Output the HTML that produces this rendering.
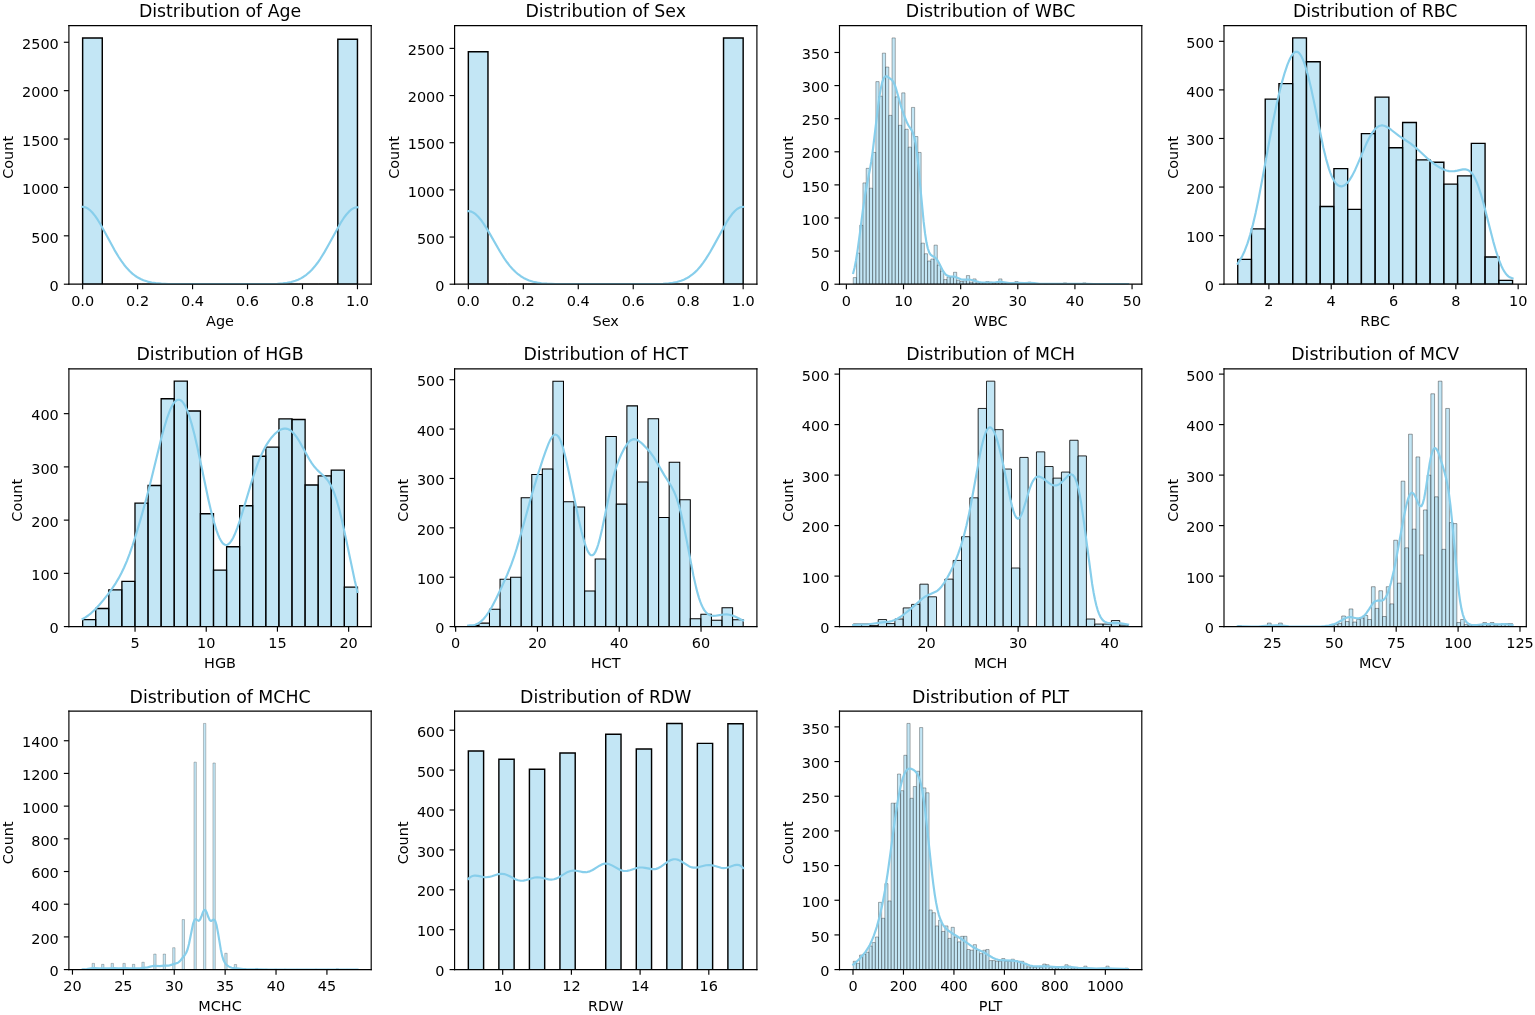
<!DOCTYPE html>
<html><head><meta charset="utf-8"><title>Distributions</title>
<style>html,body{margin:0;padding:0;background:#fff;overflow:hidden}svg{display:block}
text{font-family:"DejaVu Sans","Liberation Sans",sans-serif}</style></head>
<body>
<svg width="1535" height="1015" viewBox="0 0 1105.2 730.8" >
<defs>
<style type="text/css">*{stroke-linejoin: round; stroke-linecap: butt}</style>
</defs>
<g id="figure_1">
<g id="patch_1">
<path d="M 0 730.8 L 1105.2 730.8 L 1105.2 0 L 0 0 z
" style="fill: #ffffff"/>
</g>
<g id="axes_1">
<g id="patch_2">
<path d="M 49.608 204.624 L 267.264 204.624 L 267.264 18.432 L 49.608 18.432 z
" style="fill: #ffffff"/>
</g>
<g id="patch_3">
<path d="M 59.501455 204.624 L 73.634961 204.624 L 73.634961 27.298286 L 59.501455 27.298286 z
" clip-path="url(#pf234ead649)" style="fill: #87ceeb; fill-opacity: 0.5; stroke: #000000; stroke-width: 1.04; stroke-linejoin: miter"/>
</g>
<g id="patch_4">
<path d="M 73.634961 204.624 L 87.768468 204.624 L 87.768468 204.624 L 73.634961 204.624 z
" clip-path="url(#pf234ead649)" style="fill: #87ceeb; fill-opacity: 0.5; stroke: #000000; stroke-width: 1.04; stroke-linejoin: miter"/>
</g>
<g id="patch_5">
<path d="M 87.768468 204.624 L 101.901974 204.624 L 101.901974 204.624 L 87.768468 204.624 z
" clip-path="url(#pf234ead649)" style="fill: #87ceeb; fill-opacity: 0.5; stroke: #000000; stroke-width: 1.04; stroke-linejoin: miter"/>
</g>
<g id="patch_6">
<path d="M 101.901974 204.624 L 116.035481 204.624 L 116.035481 204.624 L 101.901974 204.624 z
" clip-path="url(#pf234ead649)" style="fill: #87ceeb; fill-opacity: 0.5; stroke: #000000; stroke-width: 1.04; stroke-linejoin: miter"/>
</g>
<g id="patch_7">
<path d="M 116.035481 204.624 L 130.168987 204.624 L 130.168987 204.624 L 116.035481 204.624 z
" clip-path="url(#pf234ead649)" style="fill: #87ceeb; fill-opacity: 0.5; stroke: #000000; stroke-width: 1.04; stroke-linejoin: miter"/>
</g>
<g id="patch_8">
<path d="M 130.168987 204.624 L 144.302494 204.624 L 144.302494 204.624 L 130.168987 204.624 z
" clip-path="url(#pf234ead649)" style="fill: #87ceeb; fill-opacity: 0.5; stroke: #000000; stroke-width: 1.04; stroke-linejoin: miter"/>
</g>
<g id="patch_9">
<path d="M 144.302494 204.624 L 158.436 204.624 L 158.436 204.624 L 144.302494 204.624 z
" clip-path="url(#pf234ead649)" style="fill: #87ceeb; fill-opacity: 0.5; stroke: #000000; stroke-width: 1.04; stroke-linejoin: miter"/>
</g>
<g id="patch_10">
<path d="M 158.436 204.624 L 172.569506 204.624 L 172.569506 204.624 L 158.436 204.624 z
" clip-path="url(#pf234ead649)" style="fill: #87ceeb; fill-opacity: 0.5; stroke: #000000; stroke-width: 1.04; stroke-linejoin: miter"/>
</g>
<g id="patch_11">
<path d="M 172.569506 204.624 L 186.703013 204.624 L 186.703013 204.624 L 172.569506 204.624 z
" clip-path="url(#pf234ead649)" style="fill: #87ceeb; fill-opacity: 0.5; stroke: #000000; stroke-width: 1.04; stroke-linejoin: miter"/>
</g>
<g id="patch_12">
<path d="M 186.703013 204.624 L 200.836519 204.624 L 200.836519 204.624 L 186.703013 204.624 z
" clip-path="url(#pf234ead649)" style="fill: #87ceeb; fill-opacity: 0.5; stroke: #000000; stroke-width: 1.04; stroke-linejoin: miter"/>
</g>
<g id="patch_13">
<path d="M 200.836519 204.624 L 214.970026 204.624 L 214.970026 204.624 L 200.836519 204.624 z
" clip-path="url(#pf234ead649)" style="fill: #87ceeb; fill-opacity: 0.5; stroke: #000000; stroke-width: 1.04; stroke-linejoin: miter"/>
</g>
<g id="patch_14">
<path d="M 214.970026 204.624 L 229.103532 204.624 L 229.103532 204.624 L 214.970026 204.624 z
" clip-path="url(#pf234ead649)" style="fill: #87ceeb; fill-opacity: 0.5; stroke: #000000; stroke-width: 1.04; stroke-linejoin: miter"/>
</g>
<g id="patch_15">
<path d="M 229.103532 204.624 L 243.237039 204.624 L 243.237039 204.624 L 229.103532 204.624 z
" clip-path="url(#pf234ead649)" style="fill: #87ceeb; fill-opacity: 0.5; stroke: #000000; stroke-width: 1.04; stroke-linejoin: miter"/>
</g>
<g id="patch_16">
<path d="M 243.237039 204.624 L 257.370545 204.624 L 257.370545 28.273751 L 243.237039 28.273751 z
" clip-path="url(#pf234ead649)" style="fill: #87ceeb; fill-opacity: 0.5; stroke: #000000; stroke-width: 1.04; stroke-linejoin: miter"/>
</g>
<g id="matplotlib.axis_1">
<g id="xtick_1">
<g id="line2d_1">
<defs>
<path id="m9755dbcb59" d="M 0 0 L 0 3.64 " style="stroke: #000000; stroke-width: 0.832"/>
</defs>
<g>
<use xlink:href="#m9755dbcb59" x="59.501455" y="204.624" style="stroke: #000000; stroke-width: 0.832"/>
</g>
</g>
<g id="text_1">
<text style="font-size: 10.4px; font-family: 'DejaVu Sans', 'Liberation Sans', sans-serif; text-anchor: middle" x="59.501455" y="220.670375" transform="rotate(-0 59.501455 220.670375)">0.0</text>
</g>
</g>
<g id="xtick_2">
<g id="line2d_2">
<g>
<use xlink:href="#m9755dbcb59" x="99.075273" y="204.624" style="stroke: #000000; stroke-width: 0.832"/>
</g>
</g>
<g id="text_2">
<text style="font-size: 10.4px; font-family: 'DejaVu Sans', 'Liberation Sans', sans-serif; text-anchor: middle" x="99.075273" y="220.670375" transform="rotate(-0 99.075273 220.670375)">0.2</text>
</g>
</g>
<g id="xtick_3">
<g id="line2d_3">
<g>
<use xlink:href="#m9755dbcb59" x="138.649091" y="204.624" style="stroke: #000000; stroke-width: 0.832"/>
</g>
</g>
<g id="text_3">
<text style="font-size: 10.4px; font-family: 'DejaVu Sans', 'Liberation Sans', sans-serif; text-anchor: middle" x="138.649091" y="220.670375" transform="rotate(-0 138.649091 220.670375)">0.4</text>
</g>
</g>
<g id="xtick_4">
<g id="line2d_4">
<g>
<use xlink:href="#m9755dbcb59" x="178.222909" y="204.624" style="stroke: #000000; stroke-width: 0.832"/>
</g>
</g>
<g id="text_4">
<text style="font-size: 10.4px; font-family: 'DejaVu Sans', 'Liberation Sans', sans-serif; text-anchor: middle" x="178.222909" y="220.670375" transform="rotate(-0 178.222909 220.670375)">0.6</text>
</g>
</g>
<g id="xtick_5">
<g id="line2d_5">
<g>
<use xlink:href="#m9755dbcb59" x="217.796727" y="204.624" style="stroke: #000000; stroke-width: 0.832"/>
</g>
</g>
<g id="text_5">
<text style="font-size: 10.4px; font-family: 'DejaVu Sans', 'Liberation Sans', sans-serif; text-anchor: middle" x="217.796727" y="220.670375" transform="rotate(-0 217.796727 220.670375)">0.8</text>
</g>
</g>
<g id="xtick_6">
<g id="line2d_6">
<g>
<use xlink:href="#m9755dbcb59" x="257.370545" y="204.624" style="stroke: #000000; stroke-width: 0.832"/>
</g>
</g>
<g id="text_6">
<text style="font-size: 10.4px; font-family: 'DejaVu Sans', 'Liberation Sans', sans-serif; text-anchor: middle" x="257.370545" y="220.670375" transform="rotate(-0 257.370545 220.670375)">1.0</text>
</g>
</g>
<g id="text_7">
<text style="font-size: 10.4px; font-family: 'DejaVu Sans', 'Liberation Sans', sans-serif; text-anchor: middle" x="158.436" y="234.895625" transform="rotate(-0 158.436 234.895625)">Age</text>
</g>
</g>
<g id="matplotlib.axis_2">
<g id="ytick_1">
<g id="line2d_7">
<defs>
<path id="m81118948c4" d="M 0 0 L -3.64 0 " style="stroke: #000000; stroke-width: 0.832"/>
</defs>
<g>
<use xlink:href="#m81118948c4" x="49.608" y="204.624" style="stroke: #000000; stroke-width: 0.832"/>
</g>
</g>
<g id="text_8">
<text style="font-size: 10.4px; font-family: 'DejaVu Sans', 'Liberation Sans', sans-serif; text-anchor: end" x="42.328" y="209.439188" transform="rotate(-0 42.328 209.439188)">0</text>
</g>
</g>
<g id="ytick_2">
<g id="line2d_8">
<g>
<use xlink:href="#m81118948c4" x="49.608" y="169.785942" style="stroke: #000000; stroke-width: 0.832"/>
</g>
</g>
<g id="text_9">
<text style="font-size: 10.4px; font-family: 'DejaVu Sans', 'Liberation Sans', sans-serif; text-anchor: end" x="42.328" y="174.60113" transform="rotate(-0 42.328 174.60113)">500</text>
</g>
</g>
<g id="ytick_3">
<g id="line2d_9">
<g>
<use xlink:href="#m81118948c4" x="49.608" y="134.947884" style="stroke: #000000; stroke-width: 0.832"/>
</g>
</g>
<g id="text_10">
<text style="font-size: 10.4px; font-family: 'DejaVu Sans', 'Liberation Sans', sans-serif; text-anchor: end" x="42.328" y="139.763072" transform="rotate(-0 42.328 139.763072)">1000</text>
</g>
</g>
<g id="ytick_4">
<g id="line2d_10">
<g>
<use xlink:href="#m81118948c4" x="49.608" y="100.109827" style="stroke: #000000; stroke-width: 0.832"/>
</g>
</g>
<g id="text_11">
<text style="font-size: 10.4px; font-family: 'DejaVu Sans', 'Liberation Sans', sans-serif; text-anchor: end" x="42.328" y="104.925014" transform="rotate(-0 42.328 104.925014)">1500</text>
</g>
</g>
<g id="ytick_5">
<g id="line2d_11">
<g>
<use xlink:href="#m81118948c4" x="49.608" y="65.271769" style="stroke: #000000; stroke-width: 0.832"/>
</g>
</g>
<g id="text_12">
<text style="font-size: 10.4px; font-family: 'DejaVu Sans', 'Liberation Sans', sans-serif; text-anchor: end" x="42.328" y="70.086956" transform="rotate(-0 42.328 70.086956)">2000</text>
</g>
</g>
<g id="ytick_6">
<g id="line2d_12">
<g>
<use xlink:href="#m81118948c4" x="49.608" y="30.433711" style="stroke: #000000; stroke-width: 0.832"/>
</g>
</g>
<g id="text_13">
<text style="font-size: 10.4px; font-family: 'DejaVu Sans', 'Liberation Sans', sans-serif; text-anchor: end" x="42.328" y="35.248898" transform="rotate(-0 42.328 35.248898)">2500</text>
</g>
</g>
<g id="text_14">
<text style="font-size: 10.4px; font-family: 'DejaVu Sans', 'Liberation Sans', sans-serif; text-anchor: middle" x="9.537125" y="113.328" transform="rotate(-90 9.537125 113.328)">Count</text>
</g>
</g>
<g id="line2d_13">
<path d="M 59.501455 148.950704 L 60.495772 149.035968 L 61.490089 149.290976 L 62.484406 149.713393 L 63.478723 150.299365 L 64.47304 151.043579 L 66.461674 152.978684 L 68.450308 155.450548 L 70.438942 158.374675 L 72.427576 161.655021 L 75.410527 167.019051 L 82.370747 179.876728 L 85.353698 184.868895 L 87.342332 187.882628 L 89.330966 190.609498 L 91.3196 193.03518 L 93.308234 195.157799 L 95.296868 196.985868 L 97.285502 198.536015 L 99.274136 199.830697 L 101.26277 200.896041 L 103.251404 201.759938 L 106.234356 202.739203 L 109.217307 203.417394 L 112.200258 203.872576 L 116.177526 204.241169 L 121.149111 204.4702 L 129.103647 204.593518 L 151.972939 204.623901 L 193.734255 204.520051 L 199.700157 204.3048 L 203.677425 203.989741 L 206.660376 203.596123 L 209.643328 203.003556 L 212.626279 202.138891 L 214.614913 201.369407 L 216.603547 200.413603 L 218.592181 199.24348 L 220.580815 197.831958 L 222.569449 196.154623 L 224.558083 194.191762 L 226.546717 191.930586 L 228.535351 189.36752 L 230.523985 186.510383 L 233.506937 181.723395 L 236.489888 176.459156 L 245.438741 160.222237 L 247.427375 157.124609 L 249.416009 154.430115 L 251.404643 152.229159 L 252.39896 151.338324 L 253.393277 150.598204 L 254.387594 150.015456 L 255.381911 149.595362 L 256.376228 149.341756 L 257.370545 149.256962 L 257.370545 149.256962 " clip-path="url(#pf234ead649)" style="fill: none; stroke: #87ceeb; stroke-width: 1.56; stroke-linecap: square"/>
</g>
<g id="patch_17">
<path d="M 49.608 204.624 L 49.608 18.432 " style="fill: none; stroke: #000000; stroke-width: 0.832; stroke-linejoin: miter; stroke-linecap: square"/>
</g>
<g id="patch_18">
<path d="M 267.264 204.624 L 267.264 18.432 " style="fill: none; stroke: #000000; stroke-width: 0.832; stroke-linejoin: miter; stroke-linecap: square"/>
</g>
<g id="patch_19">
<path d="M 49.608 204.624 L 267.264 204.624 " style="fill: none; stroke: #000000; stroke-width: 0.832; stroke-linejoin: miter; stroke-linecap: square"/>
</g>
<g id="patch_20">
<path d="M 49.608 18.432 L 267.264 18.432 " style="fill: none; stroke: #000000; stroke-width: 0.832; stroke-linejoin: miter; stroke-linecap: square"/>
</g>
<g id="text_15">
<text style="font-size: 12.48px; font-family: 'DejaVu Sans', 'Liberation Sans', sans-serif; text-anchor: middle" x="158.436" y="12.552" transform="rotate(-0 158.436 12.552)">Distribution of Age</text>
</g>
</g>
<g id="axes_2">
<g id="patch_21">
<path d="M 327.312 204.624 L 544.968 204.624 L 544.968 18.432 L 327.312 18.432 z
" style="fill: #ffffff"/>
</g>
<g id="patch_22">
<path d="M 337.205455 204.624 L 351.338961 204.624 L 351.338961 37.213856 L 337.205455 37.213856 z
" clip-path="url(#pb0371a77c8)" style="fill: #87ceeb; fill-opacity: 0.5; stroke: #000000; stroke-width: 1.04; stroke-linejoin: miter"/>
</g>
<g id="patch_23">
<path d="M 351.338961 204.624 L 365.472468 204.624 L 365.472468 204.624 L 351.338961 204.624 z
" clip-path="url(#pb0371a77c8)" style="fill: #87ceeb; fill-opacity: 0.5; stroke: #000000; stroke-width: 1.04; stroke-linejoin: miter"/>
</g>
<g id="patch_24">
<path d="M 365.472468 204.624 L 379.605974 204.624 L 379.605974 204.624 L 365.472468 204.624 z
" clip-path="url(#pb0371a77c8)" style="fill: #87ceeb; fill-opacity: 0.5; stroke: #000000; stroke-width: 1.04; stroke-linejoin: miter"/>
</g>
<g id="patch_25">
<path d="M 379.605974 204.624 L 393.739481 204.624 L 393.739481 204.624 L 379.605974 204.624 z
" clip-path="url(#pb0371a77c8)" style="fill: #87ceeb; fill-opacity: 0.5; stroke: #000000; stroke-width: 1.04; stroke-linejoin: miter"/>
</g>
<g id="patch_26">
<path d="M 393.739481 204.624 L 407.872987 204.624 L 407.872987 204.624 L 393.739481 204.624 z
" clip-path="url(#pb0371a77c8)" style="fill: #87ceeb; fill-opacity: 0.5; stroke: #000000; stroke-width: 1.04; stroke-linejoin: miter"/>
</g>
<g id="patch_27">
<path d="M 407.872987 204.624 L 422.006494 204.624 L 422.006494 204.624 L 407.872987 204.624 z
" clip-path="url(#pb0371a77c8)" style="fill: #87ceeb; fill-opacity: 0.5; stroke: #000000; stroke-width: 1.04; stroke-linejoin: miter"/>
</g>
<g id="patch_28">
<path d="M 422.006494 204.624 L 436.14 204.624 L 436.14 204.624 L 422.006494 204.624 z
" clip-path="url(#pb0371a77c8)" style="fill: #87ceeb; fill-opacity: 0.5; stroke: #000000; stroke-width: 1.04; stroke-linejoin: miter"/>
</g>
<g id="patch_29">
<path d="M 436.14 204.624 L 450.273506 204.624 L 450.273506 204.624 L 436.14 204.624 z
" clip-path="url(#pb0371a77c8)" style="fill: #87ceeb; fill-opacity: 0.5; stroke: #000000; stroke-width: 1.04; stroke-linejoin: miter"/>
</g>
<g id="patch_30">
<path d="M 450.273506 204.624 L 464.407013 204.624 L 464.407013 204.624 L 450.273506 204.624 z
" clip-path="url(#pb0371a77c8)" style="fill: #87ceeb; fill-opacity: 0.5; stroke: #000000; stroke-width: 1.04; stroke-linejoin: miter"/>
</g>
<g id="patch_31">
<path d="M 464.407013 204.624 L 478.540519 204.624 L 478.540519 204.624 L 464.407013 204.624 z
" clip-path="url(#pb0371a77c8)" style="fill: #87ceeb; fill-opacity: 0.5; stroke: #000000; stroke-width: 1.04; stroke-linejoin: miter"/>
</g>
<g id="patch_32">
<path d="M 478.540519 204.624 L 492.674026 204.624 L 492.674026 204.624 L 478.540519 204.624 z
" clip-path="url(#pb0371a77c8)" style="fill: #87ceeb; fill-opacity: 0.5; stroke: #000000; stroke-width: 1.04; stroke-linejoin: miter"/>
</g>
<g id="patch_33">
<path d="M 492.674026 204.624 L 506.807532 204.624 L 506.807532 204.624 L 492.674026 204.624 z
" clip-path="url(#pb0371a77c8)" style="fill: #87ceeb; fill-opacity: 0.5; stroke: #000000; stroke-width: 1.04; stroke-linejoin: miter"/>
</g>
<g id="patch_34">
<path d="M 506.807532 204.624 L 520.941039 204.624 L 520.941039 204.624 L 506.807532 204.624 z
" clip-path="url(#pb0371a77c8)" style="fill: #87ceeb; fill-opacity: 0.5; stroke: #000000; stroke-width: 1.04; stroke-linejoin: miter"/>
</g>
<g id="patch_35">
<path d="M 520.941039 204.624 L 535.074545 204.624 L 535.074545 27.298286 L 520.941039 27.298286 z
" clip-path="url(#pb0371a77c8)" style="fill: #87ceeb; fill-opacity: 0.5; stroke: #000000; stroke-width: 1.04; stroke-linejoin: miter"/>
</g>
<g id="matplotlib.axis_3">
<g id="xtick_7">
<g id="line2d_14">
<g>
<use xlink:href="#m9755dbcb59" x="337.205455" y="204.624" style="stroke: #000000; stroke-width: 0.832"/>
</g>
</g>
<g id="text_16">
<text style="font-size: 10.4px; font-family: 'DejaVu Sans', 'Liberation Sans', sans-serif; text-anchor: middle" x="337.205455" y="220.670375" transform="rotate(-0 337.205455 220.670375)">0.0</text>
</g>
</g>
<g id="xtick_8">
<g id="line2d_15">
<g>
<use xlink:href="#m9755dbcb59" x="376.779273" y="204.624" style="stroke: #000000; stroke-width: 0.832"/>
</g>
</g>
<g id="text_17">
<text style="font-size: 10.4px; font-family: 'DejaVu Sans', 'Liberation Sans', sans-serif; text-anchor: middle" x="376.779273" y="220.670375" transform="rotate(-0 376.779273 220.670375)">0.2</text>
</g>
</g>
<g id="xtick_9">
<g id="line2d_16">
<g>
<use xlink:href="#m9755dbcb59" x="416.353091" y="204.624" style="stroke: #000000; stroke-width: 0.832"/>
</g>
</g>
<g id="text_18">
<text style="font-size: 10.4px; font-family: 'DejaVu Sans', 'Liberation Sans', sans-serif; text-anchor: middle" x="416.353091" y="220.670375" transform="rotate(-0 416.353091 220.670375)">0.4</text>
</g>
</g>
<g id="xtick_10">
<g id="line2d_17">
<g>
<use xlink:href="#m9755dbcb59" x="455.926909" y="204.624" style="stroke: #000000; stroke-width: 0.832"/>
</g>
</g>
<g id="text_19">
<text style="font-size: 10.4px; font-family: 'DejaVu Sans', 'Liberation Sans', sans-serif; text-anchor: middle" x="455.926909" y="220.670375" transform="rotate(-0 455.926909 220.670375)">0.6</text>
</g>
</g>
<g id="xtick_11">
<g id="line2d_18">
<g>
<use xlink:href="#m9755dbcb59" x="495.500727" y="204.624" style="stroke: #000000; stroke-width: 0.832"/>
</g>
</g>
<g id="text_20">
<text style="font-size: 10.4px; font-family: 'DejaVu Sans', 'Liberation Sans', sans-serif; text-anchor: middle" x="495.500727" y="220.670375" transform="rotate(-0 495.500727 220.670375)">0.8</text>
</g>
</g>
<g id="xtick_12">
<g id="line2d_19">
<g>
<use xlink:href="#m9755dbcb59" x="535.074545" y="204.624" style="stroke: #000000; stroke-width: 0.832"/>
</g>
</g>
<g id="text_21">
<text style="font-size: 10.4px; font-family: 'DejaVu Sans', 'Liberation Sans', sans-serif; text-anchor: middle" x="535.074545" y="220.670375" transform="rotate(-0 535.074545 220.670375)">1.0</text>
</g>
</g>
<g id="text_22">
<text style="font-size: 10.4px; font-family: 'DejaVu Sans', 'Liberation Sans', sans-serif; text-anchor: middle" x="436.14" y="234.895625" transform="rotate(-0 436.14 234.895625)">Sex</text>
</g>
</g>
<g id="matplotlib.axis_4">
<g id="ytick_7">
<g id="line2d_20">
<g>
<use xlink:href="#m81118948c4" x="327.312" y="204.624" style="stroke: #000000; stroke-width: 0.832"/>
</g>
</g>
<g id="text_23">
<text style="font-size: 10.4px; font-family: 'DejaVu Sans', 'Liberation Sans', sans-serif; text-anchor: end" x="320.032" y="209.439188" transform="rotate(-0 320.032 209.439188)">0</text>
</g>
</g>
<g id="ytick_8">
<g id="line2d_21">
<g>
<use xlink:href="#m81118948c4" x="327.312" y="170.666567" style="stroke: #000000; stroke-width: 0.832"/>
</g>
</g>
<g id="text_24">
<text style="font-size: 10.4px; font-family: 'DejaVu Sans', 'Liberation Sans', sans-serif; text-anchor: end" x="320.032" y="175.481755" transform="rotate(-0 320.032 175.481755)">500</text>
</g>
</g>
<g id="ytick_9">
<g id="line2d_22">
<g>
<use xlink:href="#m81118948c4" x="327.312" y="136.709134" style="stroke: #000000; stroke-width: 0.832"/>
</g>
</g>
<g id="text_25">
<text style="font-size: 10.4px; font-family: 'DejaVu Sans', 'Liberation Sans', sans-serif; text-anchor: end" x="320.032" y="141.524322" transform="rotate(-0 320.032 141.524322)">1000</text>
</g>
</g>
<g id="ytick_10">
<g id="line2d_23">
<g>
<use xlink:href="#m81118948c4" x="327.312" y="102.751701" style="stroke: #000000; stroke-width: 0.832"/>
</g>
</g>
<g id="text_26">
<text style="font-size: 10.4px; font-family: 'DejaVu Sans', 'Liberation Sans', sans-serif; text-anchor: end" x="320.032" y="107.566889" transform="rotate(-0 320.032 107.566889)">1500</text>
</g>
</g>
<g id="ytick_11">
<g id="line2d_24">
<g>
<use xlink:href="#m81118948c4" x="327.312" y="68.794269" style="stroke: #000000; stroke-width: 0.832"/>
</g>
</g>
<g id="text_27">
<text style="font-size: 10.4px; font-family: 'DejaVu Sans', 'Liberation Sans', sans-serif; text-anchor: end" x="320.032" y="73.609456" transform="rotate(-0 320.032 73.609456)">2000</text>
</g>
</g>
<g id="ytick_12">
<g id="line2d_25">
<g>
<use xlink:href="#m81118948c4" x="327.312" y="34.836836" style="stroke: #000000; stroke-width: 0.832"/>
</g>
</g>
<g id="text_28">
<text style="font-size: 10.4px; font-family: 'DejaVu Sans', 'Liberation Sans', sans-serif; text-anchor: end" x="320.032" y="39.652023" transform="rotate(-0 320.032 39.652023)">2500</text>
</g>
</g>
<g id="text_29">
<text style="font-size: 10.4px; font-family: 'DejaVu Sans', 'Liberation Sans', sans-serif; text-anchor: middle" x="287.241125" y="113.328" transform="rotate(-90 287.241125 113.328)">Count</text>
</g>
</g>
<g id="line2d_26">
<path d="M 337.205455 152.042248 L 338.199772 152.122843 L 339.194089 152.363887 L 340.188406 152.763172 L 341.182723 153.31705 L 342.17704 154.020496 L 344.165674 155.849559 L 346.154308 158.185884 L 348.142942 160.94955 L 350.131576 164.049715 L 353.114527 169.118688 L 360.074747 181.266488 L 363.057698 185.98175 L 365.046332 188.827858 L 367.034966 191.402695 L 369.0236 193.692792 L 371.012234 195.696444 L 373.000868 197.42176 L 374.989502 198.884512 L 376.978136 200.105968 L 378.96677 201.110855 L 380.955404 201.925557 L 383.938356 202.848803 L 386.921307 203.487973 L 389.904258 203.916805 L 393.881526 204.263902 L 399.847428 204.504664 L 409.790599 204.609183 L 450.557597 204.623143 L 471.438255 204.51997 L 477.404157 204.304258 L 481.381425 203.988306 L 484.364376 203.59339 L 487.347328 202.99864 L 490.330279 202.130477 L 492.318913 201.357665 L 494.307547 200.39752 L 496.296181 199.221841 L 498.284815 197.803338 L 500.273449 196.117396 L 502.262083 194.144115 L 504.250717 191.870559 L 506.239351 189.293059 L 508.227985 186.419414 L 511.210937 181.603957 L 514.193888 176.307456 L 523.142741 159.96641 L 525.131375 156.848291 L 527.120009 154.135837 L 529.108643 151.920122 L 530.10296 151.02329 L 531.097277 150.27818 L 532.091594 149.691496 L 533.085911 149.268562 L 534.080228 149.013241 L 535.074545 148.927872 L 535.074545 148.927872 " clip-path="url(#pb0371a77c8)" style="fill: none; stroke: #87ceeb; stroke-width: 1.56; stroke-linecap: square"/>
</g>
<g id="patch_36">
<path d="M 327.312 204.624 L 327.312 18.432 " style="fill: none; stroke: #000000; stroke-width: 0.832; stroke-linejoin: miter; stroke-linecap: square"/>
</g>
<g id="patch_37">
<path d="M 544.968 204.624 L 544.968 18.432 " style="fill: none; stroke: #000000; stroke-width: 0.832; stroke-linejoin: miter; stroke-linecap: square"/>
</g>
<g id="patch_38">
<path d="M 327.312 204.624 L 544.968 204.624 " style="fill: none; stroke: #000000; stroke-width: 0.832; stroke-linejoin: miter; stroke-linecap: square"/>
</g>
<g id="patch_39">
<path d="M 327.312 18.432 L 544.968 18.432 " style="fill: none; stroke: #000000; stroke-width: 0.832; stroke-linejoin: miter; stroke-linecap: square"/>
</g>
<g id="text_30">
<text style="font-size: 12.48px; font-family: 'DejaVu Sans', 'Liberation Sans', sans-serif; text-anchor: middle" x="436.14" y="12.552" transform="rotate(-0 436.14 12.552)">Distribution of Sex</text>
</g>
</g>
<g id="axes_3">
<g id="patch_40">
<path d="M 604.44 204.624 L 822.096 204.624 L 822.096 18.432 L 604.44 18.432 z
" style="fill: #ffffff"/>
</g>
<g id="patch_41">
<path d="M 614.333455 204.624 L 616.661326 204.624 L 616.661326 199.85718 L 614.333455 199.85718 z
" clip-path="url(#p97168dac0a)" style="fill: #87ceeb; fill-opacity: 0.5; stroke: #000000; stroke-width: 0.232787; stroke-linejoin: miter"/>
</g>
<g id="patch_42">
<path d="M 616.661326 204.624 L 618.989198 204.624 L 618.989198 182.219945 L 616.661326 182.219945 z
" clip-path="url(#p97168dac0a)" style="fill: #87ceeb; fill-opacity: 0.5; stroke: #000000; stroke-width: 0.232787; stroke-linejoin: miter"/>
</g>
<g id="patch_43">
<path d="M 618.989198 204.624 L 621.31707 204.624 L 621.31707 162.1993 L 618.989198 162.1993 z
" clip-path="url(#p97168dac0a)" style="fill: #87ceeb; fill-opacity: 0.5; stroke: #000000; stroke-width: 0.232787; stroke-linejoin: miter"/>
</g>
<g id="patch_44">
<path d="M 621.31707 204.624 L 623.644941 204.624 L 623.644941 131.69165 L 621.31707 131.69165 z
" clip-path="url(#p97168dac0a)" style="fill: #87ceeb; fill-opacity: 0.5; stroke: #000000; stroke-width: 0.232787; stroke-linejoin: miter"/>
</g>
<g id="patch_45">
<path d="M 623.644941 204.624 L 625.972813 204.624 L 625.972813 121.204645 L 623.644941 121.204645 z
" clip-path="url(#p97168dac0a)" style="fill: #87ceeb; fill-opacity: 0.5; stroke: #000000; stroke-width: 0.232787; stroke-linejoin: miter"/>
</g>
<g id="patch_46">
<path d="M 625.972813 204.624 L 628.300684 204.624 L 628.300684 135.505106 L 625.972813 135.505106 z
" clip-path="url(#p97168dac0a)" style="fill: #87ceeb; fill-opacity: 0.5; stroke: #000000; stroke-width: 0.232787; stroke-linejoin: miter"/>
</g>
<g id="patch_47">
<path d="M 628.300684 204.624 L 630.628556 204.624 L 630.628556 109.764276 L 628.300684 109.764276 z
" clip-path="url(#p97168dac0a)" style="fill: #87ceeb; fill-opacity: 0.5; stroke: #000000; stroke-width: 0.232787; stroke-linejoin: miter"/>
</g>
<g id="patch_48">
<path d="M 630.628556 204.624 L 632.956428 204.624 L 632.956428 58.7593 L 630.628556 58.7593 z
" clip-path="url(#p97168dac0a)" style="fill: #87ceeb; fill-opacity: 0.5; stroke: #000000; stroke-width: 0.232787; stroke-linejoin: miter"/>
</g>
<g id="patch_49">
<path d="M 632.956428 204.624 L 635.284299 204.624 L 635.284299 69.246304 L 632.956428 69.246304 z
" clip-path="url(#p97168dac0a)" style="fill: #87ceeb; fill-opacity: 0.5; stroke: #000000; stroke-width: 0.232787; stroke-linejoin: miter"/>
</g>
<g id="patch_50">
<path d="M 635.284299 204.624 L 637.612171 204.624 L 637.612171 38.261972 L 635.284299 38.261972 z
" clip-path="url(#p97168dac0a)" style="fill: #87ceeb; fill-opacity: 0.5; stroke: #000000; stroke-width: 0.232787; stroke-linejoin: miter"/>
</g>
<g id="patch_51">
<path d="M 637.612171 204.624 L 639.940043 204.624 L 639.940043 48.272295 L 637.612171 48.272295 z
" clip-path="url(#p97168dac0a)" style="fill: #87ceeb; fill-opacity: 0.5; stroke: #000000; stroke-width: 0.232787; stroke-linejoin: miter"/>
</g>
<g id="patch_52">
<path d="M 639.940043 204.624 L 642.267914 204.624 L 642.267914 83.070083 L 639.940043 83.070083 z
" clip-path="url(#p97168dac0a)" style="fill: #87ceeb; fill-opacity: 0.5; stroke: #000000; stroke-width: 0.232787; stroke-linejoin: miter"/>
</g>
<g id="patch_53">
<path d="M 642.267914 204.624 L 644.595786 204.624 L 644.595786 27.298286 L 642.267914 27.298286 z
" clip-path="url(#p97168dac0a)" style="fill: #87ceeb; fill-opacity: 0.5; stroke: #000000; stroke-width: 0.232787; stroke-linejoin: miter"/>
</g>
<g id="patch_54">
<path d="M 644.595786 204.624 L 646.923658 204.624 L 646.923658 69.722986 L 644.595786 69.722986 z
" clip-path="url(#p97168dac0a)" style="fill: #87ceeb; fill-opacity: 0.5; stroke: #000000; stroke-width: 0.232787; stroke-linejoin: miter"/>
</g>
<g id="patch_55">
<path d="M 646.923658 204.624 L 649.251529 204.624 L 649.251529 90.220313 L 646.923658 90.220313 z
" clip-path="url(#p97168dac0a)" style="fill: #87ceeb; fill-opacity: 0.5; stroke: #000000; stroke-width: 0.232787; stroke-linejoin: miter"/>
</g>
<g id="patch_56">
<path d="M 649.251529 204.624 L 651.579401 204.624 L 651.579401 66.862894 L 649.251529 66.862894 z
" clip-path="url(#p97168dac0a)" style="fill: #87ceeb; fill-opacity: 0.5; stroke: #000000; stroke-width: 0.232787; stroke-linejoin: miter"/>
</g>
<g id="patch_57">
<path d="M 651.579401 204.624 L 653.907273 204.624 L 653.907273 93.080406 L 651.579401 93.080406 z
" clip-path="url(#p97168dac0a)" style="fill: #87ceeb; fill-opacity: 0.5; stroke: #000000; stroke-width: 0.232787; stroke-linejoin: miter"/>
</g>
<g id="patch_58">
<path d="M 653.907273 204.624 L 656.235144 204.624 L 656.235144 105.95082 L 653.907273 105.95082 z
" clip-path="url(#p97168dac0a)" style="fill: #87ceeb; fill-opacity: 0.5; stroke: #000000; stroke-width: 0.232787; stroke-linejoin: miter"/>
</g>
<g id="patch_59">
<path d="M 656.235144 204.624 L 658.563016 204.624 L 658.563016 77.349899 L 656.235144 77.349899 z
" clip-path="url(#p97168dac0a)" style="fill: #87ceeb; fill-opacity: 0.5; stroke: #000000; stroke-width: 0.232787; stroke-linejoin: miter"/>
</g>
<g id="patch_60">
<path d="M 658.563016 204.624 L 660.890888 204.624 L 660.890888 98.323908 L 658.563016 98.323908 z
" clip-path="url(#p97168dac0a)" style="fill: #87ceeb; fill-opacity: 0.5; stroke: #000000; stroke-width: 0.232787; stroke-linejoin: miter"/>
</g>
<g id="patch_61">
<path d="M 660.890888 204.624 L 663.218759 204.624 L 663.218759 109.764276 L 660.890888 109.764276 z
" clip-path="url(#p97168dac0a)" style="fill: #87ceeb; fill-opacity: 0.5; stroke: #000000; stroke-width: 0.232787; stroke-linejoin: miter"/>
</g>
<g id="patch_62">
<path d="M 663.218759 204.624 L 665.546631 204.624 L 665.546631 175.069714 L 663.218759 175.069714 z
" clip-path="url(#p97168dac0a)" style="fill: #87ceeb; fill-opacity: 0.5; stroke: #000000; stroke-width: 0.232787; stroke-linejoin: miter"/>
</g>
<g id="patch_63">
<path d="M 665.546631 204.624 L 667.874503 204.624 L 667.874503 182.696627 L 665.546631 182.696627 z
" clip-path="url(#p97168dac0a)" style="fill: #87ceeb; fill-opacity: 0.5; stroke: #000000; stroke-width: 0.232787; stroke-linejoin: miter"/>
</g>
<g id="patch_64">
<path d="M 667.874503 204.624 L 670.202374 204.624 L 670.202374 187.940129 L 667.874503 187.940129 z
" clip-path="url(#p97168dac0a)" style="fill: #87ceeb; fill-opacity: 0.5; stroke: #000000; stroke-width: 0.232787; stroke-linejoin: miter"/>
</g>
<g id="patch_65">
<path d="M 670.202374 204.624 L 672.530246 204.624 L 672.530246 186.510083 L 670.202374 186.510083 z
" clip-path="url(#p97168dac0a)" style="fill: #87ceeb; fill-opacity: 0.5; stroke: #000000; stroke-width: 0.232787; stroke-linejoin: miter"/>
</g>
<g id="patch_66">
<path d="M 672.530246 204.624 L 674.858118 204.624 L 674.858118 176.49976 L 672.530246 176.49976 z
" clip-path="url(#p97168dac0a)" style="fill: #87ceeb; fill-opacity: 0.5; stroke: #000000; stroke-width: 0.232787; stroke-linejoin: miter"/>
</g>
<g id="patch_67">
<path d="M 674.858118 204.624 L 677.185989 204.624 L 677.185989 190.800221 L 674.858118 190.800221 z
" clip-path="url(#p97168dac0a)" style="fill: #87ceeb; fill-opacity: 0.5; stroke: #000000; stroke-width: 0.232787; stroke-linejoin: miter"/>
</g>
<g id="patch_68">
<path d="M 677.185989 204.624 L 679.513861 204.624 L 679.513861 195.090359 L 677.185989 195.090359 z
" clip-path="url(#p97168dac0a)" style="fill: #87ceeb; fill-opacity: 0.5; stroke: #000000; stroke-width: 0.232787; stroke-linejoin: miter"/>
</g>
<g id="patch_69">
<path d="M 679.513861 204.624 L 681.841733 204.624 L 681.841733 201.287226 L 679.513861 201.287226 z
" clip-path="url(#p97168dac0a)" style="fill: #87ceeb; fill-opacity: 0.5; stroke: #000000; stroke-width: 0.232787; stroke-linejoin: miter"/>
</g>
<g id="patch_70">
<path d="M 681.841733 204.624 L 684.169604 204.624 L 684.169604 199.380498 L 681.841733 199.380498 z
" clip-path="url(#p97168dac0a)" style="fill: #87ceeb; fill-opacity: 0.5; stroke: #000000; stroke-width: 0.232787; stroke-linejoin: miter"/>
</g>
<g id="patch_71">
<path d="M 684.169604 204.624 L 686.497476 204.624 L 686.497476 199.380498 L 684.169604 199.380498 z
" clip-path="url(#p97168dac0a)" style="fill: #87ceeb; fill-opacity: 0.5; stroke: #000000; stroke-width: 0.232787; stroke-linejoin: miter"/>
</g>
<g id="patch_72">
<path d="M 686.497476 204.624 L 688.825348 204.624 L 688.825348 196.043724 L 686.497476 196.043724 z
" clip-path="url(#p97168dac0a)" style="fill: #87ceeb; fill-opacity: 0.5; stroke: #000000; stroke-width: 0.232787; stroke-linejoin: miter"/>
</g>
<g id="patch_73">
<path d="M 688.825348 204.624 L 691.153219 204.624 L 691.153219 201.763908 L 688.825348 201.763908 z
" clip-path="url(#p97168dac0a)" style="fill: #87ceeb; fill-opacity: 0.5; stroke: #000000; stroke-width: 0.232787; stroke-linejoin: miter"/>
</g>
<g id="patch_74">
<path d="M 691.153219 204.624 L 693.481091 204.624 L 693.481091 202.717272 L 691.153219 202.717272 z
" clip-path="url(#p97168dac0a)" style="fill: #87ceeb; fill-opacity: 0.5; stroke: #000000; stroke-width: 0.232787; stroke-linejoin: miter"/>
</g>
<g id="patch_75">
<path d="M 693.481091 204.624 L 695.808963 204.624 L 695.808963 202.24059 L 693.481091 202.24059 z
" clip-path="url(#p97168dac0a)" style="fill: #87ceeb; fill-opacity: 0.5; stroke: #000000; stroke-width: 0.232787; stroke-linejoin: miter"/>
</g>
<g id="patch_76">
<path d="M 695.808963 204.624 L 698.136834 204.624 L 698.136834 198.427134 L 695.808963 198.427134 z
" clip-path="url(#p97168dac0a)" style="fill: #87ceeb; fill-opacity: 0.5; stroke: #000000; stroke-width: 0.232787; stroke-linejoin: miter"/>
</g>
<g id="patch_77">
<path d="M 698.136834 204.624 L 700.464706 204.624 L 700.464706 203.193954 L 698.136834 203.193954 z
" clip-path="url(#p97168dac0a)" style="fill: #87ceeb; fill-opacity: 0.5; stroke: #000000; stroke-width: 0.232787; stroke-linejoin: miter"/>
</g>
<g id="patch_78">
<path d="M 700.464706 204.624 L 702.792578 204.624 L 702.792578 200.810544 L 700.464706 200.810544 z
" clip-path="url(#p97168dac0a)" style="fill: #87ceeb; fill-opacity: 0.5; stroke: #000000; stroke-width: 0.232787; stroke-linejoin: miter"/>
</g>
<g id="patch_79">
<path d="M 702.792578 204.624 L 705.120449 204.624 L 705.120449 203.670636 L 702.792578 203.670636 z
" clip-path="url(#p97168dac0a)" style="fill: #87ceeb; fill-opacity: 0.5; stroke: #000000; stroke-width: 0.232787; stroke-linejoin: miter"/>
</g>
<g id="patch_80">
<path d="M 705.120449 204.624 L 707.448321 204.624 L 707.448321 203.670636 L 705.120449 203.670636 z
" clip-path="url(#p97168dac0a)" style="fill: #87ceeb; fill-opacity: 0.5; stroke: #000000; stroke-width: 0.232787; stroke-linejoin: miter"/>
</g>
<g id="patch_81">
<path d="M 707.448321 204.624 L 709.776193 204.624 L 709.776193 204.147318 L 707.448321 204.147318 z
" clip-path="url(#p97168dac0a)" style="fill: #87ceeb; fill-opacity: 0.5; stroke: #000000; stroke-width: 0.232787; stroke-linejoin: miter"/>
</g>
<g id="patch_82">
<path d="M 709.776193 204.624 L 712.104064 204.624 L 712.104064 202.717272 L 709.776193 202.717272 z
" clip-path="url(#p97168dac0a)" style="fill: #87ceeb; fill-opacity: 0.5; stroke: #000000; stroke-width: 0.232787; stroke-linejoin: miter"/>
</g>
<g id="patch_83">
<path d="M 712.104064 204.624 L 714.431936 204.624 L 714.431936 203.193954 L 712.104064 203.193954 z
" clip-path="url(#p97168dac0a)" style="fill: #87ceeb; fill-opacity: 0.5; stroke: #000000; stroke-width: 0.232787; stroke-linejoin: miter"/>
</g>
<g id="patch_84">
<path d="M 714.431936 204.624 L 716.759807 204.624 L 716.759807 204.147318 L 714.431936 204.147318 z
" clip-path="url(#p97168dac0a)" style="fill: #87ceeb; fill-opacity: 0.5; stroke: #000000; stroke-width: 0.232787; stroke-linejoin: miter"/>
</g>
<g id="patch_85">
<path d="M 716.759807 204.624 L 719.087679 204.624 L 719.087679 203.670636 L 716.759807 203.670636 z
" clip-path="url(#p97168dac0a)" style="fill: #87ceeb; fill-opacity: 0.5; stroke: #000000; stroke-width: 0.232787; stroke-linejoin: miter"/>
</g>
<g id="patch_86">
<path d="M 719.087679 204.624 L 721.415551 204.624 L 721.415551 200.810544 L 719.087679 200.810544 z
" clip-path="url(#p97168dac0a)" style="fill: #87ceeb; fill-opacity: 0.5; stroke: #000000; stroke-width: 0.232787; stroke-linejoin: miter"/>
</g>
<g id="patch_87">
<path d="M 721.415551 204.624 L 723.743422 204.624 L 723.743422 203.670636 L 721.415551 203.670636 z
" clip-path="url(#p97168dac0a)" style="fill: #87ceeb; fill-opacity: 0.5; stroke: #000000; stroke-width: 0.232787; stroke-linejoin: miter"/>
</g>
<g id="patch_88">
<path d="M 723.743422 204.624 L 726.071294 204.624 L 726.071294 204.147318 L 723.743422 204.147318 z
" clip-path="url(#p97168dac0a)" style="fill: #87ceeb; fill-opacity: 0.5; stroke: #000000; stroke-width: 0.232787; stroke-linejoin: miter"/>
</g>
<g id="patch_89">
<path d="M 726.071294 204.624 L 728.399166 204.624 L 728.399166 204.147318 L 726.071294 204.147318 z
" clip-path="url(#p97168dac0a)" style="fill: #87ceeb; fill-opacity: 0.5; stroke: #000000; stroke-width: 0.232787; stroke-linejoin: miter"/>
</g>
<g id="patch_90">
<path d="M 728.399166 204.624 L 730.727037 204.624 L 730.727037 204.147318 L 728.399166 204.147318 z
" clip-path="url(#p97168dac0a)" style="fill: #87ceeb; fill-opacity: 0.5; stroke: #000000; stroke-width: 0.232787; stroke-linejoin: miter"/>
</g>
<g id="patch_91">
<path d="M 730.727037 204.624 L 733.054909 204.624 L 733.054909 202.717272 L 730.727037 202.717272 z
" clip-path="url(#p97168dac0a)" style="fill: #87ceeb; fill-opacity: 0.5; stroke: #000000; stroke-width: 0.232787; stroke-linejoin: miter"/>
</g>
<g id="patch_92">
<path d="M 733.054909 204.624 L 735.382781 204.624 L 735.382781 204.147318 L 733.054909 204.147318 z
" clip-path="url(#p97168dac0a)" style="fill: #87ceeb; fill-opacity: 0.5; stroke: #000000; stroke-width: 0.232787; stroke-linejoin: miter"/>
</g>
<g id="patch_93">
<path d="M 735.382781 204.624 L 737.710652 204.624 L 737.710652 204.147318 L 735.382781 204.147318 z
" clip-path="url(#p97168dac0a)" style="fill: #87ceeb; fill-opacity: 0.5; stroke: #000000; stroke-width: 0.232787; stroke-linejoin: miter"/>
</g>
<g id="patch_94">
<path d="M 737.710652 204.624 L 740.038524 204.624 L 740.038524 203.670636 L 737.710652 203.670636 z
" clip-path="url(#p97168dac0a)" style="fill: #87ceeb; fill-opacity: 0.5; stroke: #000000; stroke-width: 0.232787; stroke-linejoin: miter"/>
</g>
<g id="patch_95">
<path d="M 740.038524 204.624 L 742.366396 204.624 L 742.366396 203.193954 L 740.038524 203.193954 z
" clip-path="url(#p97168dac0a)" style="fill: #87ceeb; fill-opacity: 0.5; stroke: #000000; stroke-width: 0.232787; stroke-linejoin: miter"/>
</g>
<g id="patch_96">
<path d="M 742.366396 204.624 L 744.694267 204.624 L 744.694267 203.670636 L 742.366396 203.670636 z
" clip-path="url(#p97168dac0a)" style="fill: #87ceeb; fill-opacity: 0.5; stroke: #000000; stroke-width: 0.232787; stroke-linejoin: miter"/>
</g>
<g id="patch_97">
<path d="M 744.694267 204.624 L 747.022139 204.624 L 747.022139 204.147318 L 744.694267 204.147318 z
" clip-path="url(#p97168dac0a)" style="fill: #87ceeb; fill-opacity: 0.5; stroke: #000000; stroke-width: 0.232787; stroke-linejoin: miter"/>
</g>
<g id="patch_98">
<path d="M 747.022139 204.624 L 749.350011 204.624 L 749.350011 204.624 L 747.022139 204.624 z
" clip-path="url(#p97168dac0a)" style="fill: #87ceeb; fill-opacity: 0.5; stroke: #000000; stroke-width: 0.232787; stroke-linejoin: miter"/>
</g>
<g id="patch_99">
<path d="M 749.350011 204.624 L 751.677882 204.624 L 751.677882 204.147318 L 749.350011 204.147318 z
" clip-path="url(#p97168dac0a)" style="fill: #87ceeb; fill-opacity: 0.5; stroke: #000000; stroke-width: 0.232787; stroke-linejoin: miter"/>
</g>
<g id="patch_100">
<path d="M 751.677882 204.624 L 754.005754 204.624 L 754.005754 204.624 L 751.677882 204.624 z
" clip-path="url(#p97168dac0a)" style="fill: #87ceeb; fill-opacity: 0.5; stroke: #000000; stroke-width: 0.232787; stroke-linejoin: miter"/>
</g>
<g id="patch_101">
<path d="M 754.005754 204.624 L 756.333626 204.624 L 756.333626 204.147318 L 754.005754 204.147318 z
" clip-path="url(#p97168dac0a)" style="fill: #87ceeb; fill-opacity: 0.5; stroke: #000000; stroke-width: 0.232787; stroke-linejoin: miter"/>
</g>
<g id="patch_102">
<path d="M 756.333626 204.624 L 758.661497 204.624 L 758.661497 204.624 L 756.333626 204.624 z
" clip-path="url(#p97168dac0a)" style="fill: #87ceeb; fill-opacity: 0.5; stroke: #000000; stroke-width: 0.232787; stroke-linejoin: miter"/>
</g>
<g id="patch_103">
<path d="M 758.661497 204.624 L 760.989369 204.624 L 760.989369 204.147318 L 758.661497 204.147318 z
" clip-path="url(#p97168dac0a)" style="fill: #87ceeb; fill-opacity: 0.5; stroke: #000000; stroke-width: 0.232787; stroke-linejoin: miter"/>
</g>
<g id="patch_104">
<path d="M 760.989369 204.624 L 763.317241 204.624 L 763.317241 204.624 L 760.989369 204.624 z
" clip-path="url(#p97168dac0a)" style="fill: #87ceeb; fill-opacity: 0.5; stroke: #000000; stroke-width: 0.232787; stroke-linejoin: miter"/>
</g>
<g id="patch_105">
<path d="M 763.317241 204.624 L 765.645112 204.624 L 765.645112 204.624 L 763.317241 204.624 z
" clip-path="url(#p97168dac0a)" style="fill: #87ceeb; fill-opacity: 0.5; stroke: #000000; stroke-width: 0.232787; stroke-linejoin: miter"/>
</g>
<g id="patch_106">
<path d="M 765.645112 204.624 L 767.972984 204.624 L 767.972984 203.670636 L 765.645112 203.670636 z
" clip-path="url(#p97168dac0a)" style="fill: #87ceeb; fill-opacity: 0.5; stroke: #000000; stroke-width: 0.232787; stroke-linejoin: miter"/>
</g>
<g id="patch_107">
<path d="M 767.972984 204.624 L 770.300856 204.624 L 770.300856 204.624 L 767.972984 204.624 z
" clip-path="url(#p97168dac0a)" style="fill: #87ceeb; fill-opacity: 0.5; stroke: #000000; stroke-width: 0.232787; stroke-linejoin: miter"/>
</g>
<g id="patch_108">
<path d="M 770.300856 204.624 L 772.628727 204.624 L 772.628727 204.624 L 770.300856 204.624 z
" clip-path="url(#p97168dac0a)" style="fill: #87ceeb; fill-opacity: 0.5; stroke: #000000; stroke-width: 0.232787; stroke-linejoin: miter"/>
</g>
<g id="patch_109">
<path d="M 772.628727 204.624 L 774.956599 204.624 L 774.956599 204.147318 L 772.628727 204.147318 z
" clip-path="url(#p97168dac0a)" style="fill: #87ceeb; fill-opacity: 0.5; stroke: #000000; stroke-width: 0.232787; stroke-linejoin: miter"/>
</g>
<g id="patch_110">
<path d="M 774.956599 204.624 L 777.284471 204.624 L 777.284471 204.624 L 774.956599 204.624 z
" clip-path="url(#p97168dac0a)" style="fill: #87ceeb; fill-opacity: 0.5; stroke: #000000; stroke-width: 0.232787; stroke-linejoin: miter"/>
</g>
<g id="patch_111">
<path d="M 777.284471 204.624 L 779.612342 204.624 L 779.612342 204.624 L 777.284471 204.624 z
" clip-path="url(#p97168dac0a)" style="fill: #87ceeb; fill-opacity: 0.5; stroke: #000000; stroke-width: 0.232787; stroke-linejoin: miter"/>
</g>
<g id="patch_112">
<path d="M 779.612342 204.624 L 781.940214 204.624 L 781.940214 203.670636 L 779.612342 203.670636 z
" clip-path="url(#p97168dac0a)" style="fill: #87ceeb; fill-opacity: 0.5; stroke: #000000; stroke-width: 0.232787; stroke-linejoin: miter"/>
</g>
<g id="patch_113">
<path d="M 781.940214 204.624 L 784.268086 204.624 L 784.268086 204.624 L 781.940214 204.624 z
" clip-path="url(#p97168dac0a)" style="fill: #87ceeb; fill-opacity: 0.5; stroke: #000000; stroke-width: 0.232787; stroke-linejoin: miter"/>
</g>
<g id="patch_114">
<path d="M 784.268086 204.624 L 786.595957 204.624 L 786.595957 204.624 L 784.268086 204.624 z
" clip-path="url(#p97168dac0a)" style="fill: #87ceeb; fill-opacity: 0.5; stroke: #000000; stroke-width: 0.232787; stroke-linejoin: miter"/>
</g>
<g id="patch_115">
<path d="M 786.595957 204.624 L 788.923829 204.624 L 788.923829 204.624 L 786.595957 204.624 z
" clip-path="url(#p97168dac0a)" style="fill: #87ceeb; fill-opacity: 0.5; stroke: #000000; stroke-width: 0.232787; stroke-linejoin: miter"/>
</g>
<g id="patch_116">
<path d="M 788.923829 204.624 L 791.251701 204.624 L 791.251701 204.147318 L 788.923829 204.147318 z
" clip-path="url(#p97168dac0a)" style="fill: #87ceeb; fill-opacity: 0.5; stroke: #000000; stroke-width: 0.232787; stroke-linejoin: miter"/>
</g>
<g id="patch_117">
<path d="M 791.251701 204.624 L 793.579572 204.624 L 793.579572 204.624 L 791.251701 204.624 z
" clip-path="url(#p97168dac0a)" style="fill: #87ceeb; fill-opacity: 0.5; stroke: #000000; stroke-width: 0.232787; stroke-linejoin: miter"/>
</g>
<g id="patch_118">
<path d="M 793.579572 204.624 L 795.907444 204.624 L 795.907444 204.624 L 793.579572 204.624 z
" clip-path="url(#p97168dac0a)" style="fill: #87ceeb; fill-opacity: 0.5; stroke: #000000; stroke-width: 0.232787; stroke-linejoin: miter"/>
</g>
<g id="patch_119">
<path d="M 795.907444 204.624 L 798.235316 204.624 L 798.235316 204.624 L 795.907444 204.624 z
" clip-path="url(#p97168dac0a)" style="fill: #87ceeb; fill-opacity: 0.5; stroke: #000000; stroke-width: 0.232787; stroke-linejoin: miter"/>
</g>
<g id="patch_120">
<path d="M 798.235316 204.624 L 800.563187 204.624 L 800.563187 204.624 L 798.235316 204.624 z
" clip-path="url(#p97168dac0a)" style="fill: #87ceeb; fill-opacity: 0.5; stroke: #000000; stroke-width: 0.232787; stroke-linejoin: miter"/>
</g>
<g id="patch_121">
<path d="M 800.563187 204.624 L 802.891059 204.624 L 802.891059 204.624 L 800.563187 204.624 z
" clip-path="url(#p97168dac0a)" style="fill: #87ceeb; fill-opacity: 0.5; stroke: #000000; stroke-width: 0.232787; stroke-linejoin: miter"/>
</g>
<g id="patch_122">
<path d="M 802.891059 204.624 L 805.21893 204.624 L 805.21893 204.624 L 802.891059 204.624 z
" clip-path="url(#p97168dac0a)" style="fill: #87ceeb; fill-opacity: 0.5; stroke: #000000; stroke-width: 0.232787; stroke-linejoin: miter"/>
</g>
<g id="patch_123">
<path d="M 805.21893 204.624 L 807.546802 204.624 L 807.546802 204.624 L 805.21893 204.624 z
" clip-path="url(#p97168dac0a)" style="fill: #87ceeb; fill-opacity: 0.5; stroke: #000000; stroke-width: 0.232787; stroke-linejoin: miter"/>
</g>
<g id="patch_124">
<path d="M 807.546802 204.624 L 809.874674 204.624 L 809.874674 204.624 L 807.546802 204.624 z
" clip-path="url(#p97168dac0a)" style="fill: #87ceeb; fill-opacity: 0.5; stroke: #000000; stroke-width: 0.232787; stroke-linejoin: miter"/>
</g>
<g id="patch_125">
<path d="M 809.874674 204.624 L 812.202545 204.624 L 812.202545 204.147318 L 809.874674 204.147318 z
" clip-path="url(#p97168dac0a)" style="fill: #87ceeb; fill-opacity: 0.5; stroke: #000000; stroke-width: 0.232787; stroke-linejoin: miter"/>
</g>
<g id="matplotlib.axis_5">
<g id="xtick_13">
<g id="line2d_27">
<g>
<use xlink:href="#m9755dbcb59" x="609.397012" y="204.624" style="stroke: #000000; stroke-width: 0.832"/>
</g>
</g>
<g id="text_31">
<text style="font-size: 10.4px; font-family: 'DejaVu Sans', 'Liberation Sans', sans-serif; text-anchor: middle" x="609.397012" y="220.670375" transform="rotate(-0 609.397012 220.670375)">0</text>
</g>
</g>
<g id="xtick_14">
<g id="line2d_28">
<g>
<use xlink:href="#m9755dbcb59" x="650.534037" y="204.624" style="stroke: #000000; stroke-width: 0.832"/>
</g>
</g>
<g id="text_32">
<text style="font-size: 10.4px; font-family: 'DejaVu Sans', 'Liberation Sans', sans-serif; text-anchor: middle" x="650.534037" y="220.670375" transform="rotate(-0 650.534037 220.670375)">10</text>
</g>
</g>
<g id="xtick_15">
<g id="line2d_29">
<g>
<use xlink:href="#m9755dbcb59" x="691.671062" y="204.624" style="stroke: #000000; stroke-width: 0.832"/>
</g>
</g>
<g id="text_33">
<text style="font-size: 10.4px; font-family: 'DejaVu Sans', 'Liberation Sans', sans-serif; text-anchor: middle" x="691.671062" y="220.670375" transform="rotate(-0 691.671062 220.670375)">20</text>
</g>
</g>
<g id="xtick_16">
<g id="line2d_30">
<g>
<use xlink:href="#m9755dbcb59" x="732.808087" y="204.624" style="stroke: #000000; stroke-width: 0.832"/>
</g>
</g>
<g id="text_34">
<text style="font-size: 10.4px; font-family: 'DejaVu Sans', 'Liberation Sans', sans-serif; text-anchor: middle" x="732.808087" y="220.670375" transform="rotate(-0 732.808087 220.670375)">30</text>
</g>
</g>
<g id="xtick_17">
<g id="line2d_31">
<g>
<use xlink:href="#m9755dbcb59" x="773.945112" y="204.624" style="stroke: #000000; stroke-width: 0.832"/>
</g>
</g>
<g id="text_35">
<text style="font-size: 10.4px; font-family: 'DejaVu Sans', 'Liberation Sans', sans-serif; text-anchor: middle" x="773.945112" y="220.670375" transform="rotate(-0 773.945112 220.670375)">40</text>
</g>
</g>
<g id="xtick_18">
<g id="line2d_32">
<g>
<use xlink:href="#m9755dbcb59" x="815.082137" y="204.624" style="stroke: #000000; stroke-width: 0.832"/>
</g>
</g>
<g id="text_36">
<text style="font-size: 10.4px; font-family: 'DejaVu Sans', 'Liberation Sans', sans-serif; text-anchor: middle" x="815.082137" y="220.670375" transform="rotate(-0 815.082137 220.670375)">50</text>
</g>
</g>
<g id="text_37">
<text style="font-size: 10.4px; font-family: 'DejaVu Sans', 'Liberation Sans', sans-serif; text-anchor: middle" x="713.268" y="234.895625" transform="rotate(-0 713.268 234.895625)">WBC</text>
</g>
</g>
<g id="matplotlib.axis_6">
<g id="ytick_13">
<g id="line2d_33">
<g>
<use xlink:href="#m81118948c4" x="604.44" y="204.624" style="stroke: #000000; stroke-width: 0.832"/>
</g>
</g>
<g id="text_38">
<text style="font-size: 10.4px; font-family: 'DejaVu Sans', 'Liberation Sans', sans-serif; text-anchor: end" x="597.16" y="209.439188" transform="rotate(-0 597.16 209.439188)">0</text>
</g>
</g>
<g id="ytick_14">
<g id="line2d_34">
<g>
<use xlink:href="#m81118948c4" x="604.44" y="180.789899" style="stroke: #000000; stroke-width: 0.832"/>
</g>
</g>
<g id="text_39">
<text style="font-size: 10.4px; font-family: 'DejaVu Sans', 'Liberation Sans', sans-serif; text-anchor: end" x="597.16" y="185.605086" transform="rotate(-0 597.16 185.605086)">50</text>
</g>
</g>
<g id="ytick_15">
<g id="line2d_35">
<g>
<use xlink:href="#m81118948c4" x="604.44" y="156.955797" style="stroke: #000000; stroke-width: 0.832"/>
</g>
</g>
<g id="text_40">
<text style="font-size: 10.4px; font-family: 'DejaVu Sans', 'Liberation Sans', sans-serif; text-anchor: end" x="597.16" y="161.770985" transform="rotate(-0 597.16 161.770985)">100</text>
</g>
</g>
<g id="ytick_16">
<g id="line2d_36">
<g>
<use xlink:href="#m81118948c4" x="604.44" y="133.121696" style="stroke: #000000; stroke-width: 0.832"/>
</g>
</g>
<g id="text_41">
<text style="font-size: 10.4px; font-family: 'DejaVu Sans', 'Liberation Sans', sans-serif; text-anchor: end" x="597.16" y="137.936883" transform="rotate(-0 597.16 137.936883)">150</text>
</g>
</g>
<g id="ytick_17">
<g id="line2d_37">
<g>
<use xlink:href="#m81118948c4" x="604.44" y="109.287594" style="stroke: #000000; stroke-width: 0.832"/>
</g>
</g>
<g id="text_42">
<text style="font-size: 10.4px; font-family: 'DejaVu Sans', 'Liberation Sans', sans-serif; text-anchor: end" x="597.16" y="114.102782" transform="rotate(-0 597.16 114.102782)">200</text>
</g>
</g>
<g id="ytick_18">
<g id="line2d_38">
<g>
<use xlink:href="#m81118948c4" x="604.44" y="85.453493" style="stroke: #000000; stroke-width: 0.832"/>
</g>
</g>
<g id="text_43">
<text style="font-size: 10.4px; font-family: 'DejaVu Sans', 'Liberation Sans', sans-serif; text-anchor: end" x="597.16" y="90.268681" transform="rotate(-0 597.16 90.268681)">250</text>
</g>
</g>
<g id="ytick_19">
<g id="line2d_39">
<g>
<use xlink:href="#m81118948c4" x="604.44" y="61.619392" style="stroke: #000000; stroke-width: 0.832"/>
</g>
</g>
<g id="text_44">
<text style="font-size: 10.4px; font-family: 'DejaVu Sans', 'Liberation Sans', sans-serif; text-anchor: end" x="597.16" y="66.434579" transform="rotate(-0 597.16 66.434579)">300</text>
</g>
</g>
<g id="ytick_20">
<g id="line2d_40">
<g>
<use xlink:href="#m81118948c4" x="604.44" y="37.78529" style="stroke: #000000; stroke-width: 0.832"/>
</g>
</g>
<g id="text_45">
<text style="font-size: 10.4px; font-family: 'DejaVu Sans', 'Liberation Sans', sans-serif; text-anchor: end" x="597.16" y="42.600478" transform="rotate(-0 597.16 42.600478)">350</text>
</g>
</g>
<g id="text_46">
<text style="font-size: 10.4px; font-family: 'DejaVu Sans', 'Liberation Sans', sans-serif; text-anchor: middle" x="570.986125" y="113.328" transform="rotate(-90 570.986125 113.328)">Count</text>
</g>
</g>
<g id="line2d_41">
<path d="M 614.333455 196.580176 L 615.327772 192.584074 L 616.322089 187.483187 L 617.316406 181.319923 L 619.30504 166.58946 L 621.293674 151.053249 L 622.287991 144.023585 L 623.282308 137.837675 L 625.270942 127.469503 L 626.265259 122.366431 L 627.259576 116.557573 L 628.253893 109.687332 L 630.242527 93.167235 L 632.231161 76.355713 L 633.225478 69.250105 L 634.219795 63.482298 L 635.214112 59.207602 L 636.208429 56.454406 L 637.202746 55.105239 L 638.197063 54.866803 L 639.191381 55.308621 L 641.180015 56.747235 L 642.174332 57.608243 L 643.168649 58.906681 L 644.162966 60.957726 L 645.157283 63.845728 L 649.134551 77.834665 L 651.123185 83.531543 L 653.111819 88.437272 L 654.106136 90.352236 L 656.09477 93.31119 L 657.089087 95.173308 L 658.083404 98.123675 L 659.077721 102.74079 L 660.072038 109.352474 L 661.066355 117.927837 L 663.054989 138.996651 L 665.043624 159.765438 L 666.037941 168.070488 L 667.032258 174.450723 L 668.026575 178.915658 L 669.020892 181.728563 L 670.015209 183.302304 L 671.009526 184.108372 L 672.99816 185.18524 L 673.992477 186.106754 L 674.986794 187.474531 L 675.981111 189.236095 L 678.964062 195.062091 L 679.958379 196.569002 L 680.952696 197.684796 L 681.947013 198.409033 L 682.94133 198.799287 L 683.935647 198.954353 L 686.918598 199.172537 L 687.912915 199.448093 L 691.890184 201.111327 L 692.884501 201.309127 L 694.873135 201.32617 L 696.861769 201.242694 L 698.850403 201.448674 L 700.839037 201.937278 L 704.816305 203.082927 L 706.804939 203.413949 L 708.793573 203.480755 L 716.74811 203.228339 L 719.731061 202.926376 L 721.719695 203.054772 L 726.69128 203.84992 L 728.679914 203.844253 L 732.657182 203.711177 L 737.628767 203.764106 L 741.606036 203.670846 L 744.588987 203.906775 L 748.566255 204.286268 L 752.543523 204.380743 L 778.395766 204.364885 L 782.373034 204.366956 L 787.344619 204.495725 L 793.310522 204.540752 L 800.270741 204.6233 L 809.219594 204.534087 L 812.202545 204.48052 L 812.202545 204.48052 " clip-path="url(#p97168dac0a)" style="fill: none; stroke: #87ceeb; stroke-width: 1.56; stroke-linecap: square"/>
</g>
<g id="patch_126">
<path d="M 604.44 204.624 L 604.44 18.432 " style="fill: none; stroke: #000000; stroke-width: 0.832; stroke-linejoin: miter; stroke-linecap: square"/>
</g>
<g id="patch_127">
<path d="M 822.096 204.624 L 822.096 18.432 " style="fill: none; stroke: #000000; stroke-width: 0.832; stroke-linejoin: miter; stroke-linecap: square"/>
</g>
<g id="patch_128">
<path d="M 604.44 204.624 L 822.096 204.624 " style="fill: none; stroke: #000000; stroke-width: 0.832; stroke-linejoin: miter; stroke-linecap: square"/>
</g>
<g id="patch_129">
<path d="M 604.44 18.432 L 822.096 18.432 " style="fill: none; stroke: #000000; stroke-width: 0.832; stroke-linejoin: miter; stroke-linecap: square"/>
</g>
<g id="text_47">
<text style="font-size: 12.48px; font-family: 'DejaVu Sans', 'Liberation Sans', sans-serif; text-anchor: middle" x="713.268" y="12.552" transform="rotate(-0 713.268 12.552)">Distribution of WBC</text>
</g>
</g>
<g id="axes_4">
<g id="patch_130">
<path d="M 881.28 204.624 L 1098.936 204.624 L 1098.936 18.432 L 881.28 18.432 z
" style="fill: #ffffff"/>
</g>
<g id="patch_131">
<path d="M 891.173455 204.624 L 901.066909 204.624 L 901.066909 186.786502 L 891.173455 186.786502 z
" clip-path="url(#pdafc1e2fb6)" style="fill: #87ceeb; fill-opacity: 0.5; stroke: #000000; stroke-width: 0.989345; stroke-linejoin: miter"/>
</g>
<g id="patch_132">
<path d="M 901.066909 204.624 L 910.960364 204.624 L 910.960364 164.751946 L 901.066909 164.751946 z
" clip-path="url(#pdafc1e2fb6)" style="fill: #87ceeb; fill-opacity: 0.5; stroke: #000000; stroke-width: 0.989345; stroke-linejoin: miter"/>
</g>
<g id="patch_133">
<path d="M 910.960364 204.624 L 920.853818 204.624 L 920.853818 71.367398 L 910.960364 71.367398 z
" clip-path="url(#pdafc1e2fb6)" style="fill: #87ceeb; fill-opacity: 0.5; stroke: #000000; stroke-width: 0.989345; stroke-linejoin: miter"/>
</g>
<g id="patch_134">
<path d="M 920.853818 204.624 L 930.747273 204.624 L 930.747273 60.175243 L 920.853818 60.175243 z
" clip-path="url(#pdafc1e2fb6)" style="fill: #87ceeb; fill-opacity: 0.5; stroke: #000000; stroke-width: 0.989345; stroke-linejoin: miter"/>
</g>
<g id="patch_135">
<path d="M 930.747273 204.624 L 940.640727 204.624 L 940.640727 27.298286 L 930.747273 27.298286 z
" clip-path="url(#pdafc1e2fb6)" style="fill: #87ceeb; fill-opacity: 0.5; stroke: #000000; stroke-width: 0.989345; stroke-linejoin: miter"/>
</g>
<g id="patch_136">
<path d="M 940.640727 204.624 L 950.534182 204.624 L 950.534182 44.436274 L 940.640727 44.436274 z
" clip-path="url(#pdafc1e2fb6)" style="fill: #87ceeb; fill-opacity: 0.5; stroke: #000000; stroke-width: 0.989345; stroke-linejoin: miter"/>
</g>
<g id="patch_137">
<path d="M 950.534182 204.624 L 960.427636 204.624 L 960.427636 148.663222 L 950.534182 148.663222 z
" clip-path="url(#pdafc1e2fb6)" style="fill: #87ceeb; fill-opacity: 0.5; stroke: #000000; stroke-width: 0.989345; stroke-linejoin: miter"/>
</g>
<g id="patch_138">
<path d="M 960.427636 204.624 L 970.321091 204.624 L 970.321091 121.382343 L 960.427636 121.382343 z
" clip-path="url(#pdafc1e2fb6)" style="fill: #87ceeb; fill-opacity: 0.5; stroke: #000000; stroke-width: 0.989345; stroke-linejoin: miter"/>
</g>
<g id="patch_139">
<path d="M 970.321091 204.624 L 980.214545 204.624 L 980.214545 150.761751 L 970.321091 150.761751 z
" clip-path="url(#pdafc1e2fb6)" style="fill: #87ceeb; fill-opacity: 0.5; stroke: #000000; stroke-width: 0.989345; stroke-linejoin: miter"/>
</g>
<g id="patch_140">
<path d="M 980.214545 204.624 L 990.108 204.624 L 990.108 96.199993 L 980.214545 96.199993 z
" clip-path="url(#pdafc1e2fb6)" style="fill: #87ceeb; fill-opacity: 0.5; stroke: #000000; stroke-width: 0.989345; stroke-linejoin: miter"/>
</g>
<g id="patch_141">
<path d="M 990.108 204.624 L 1000.001455 204.624 L 1000.001455 69.968379 L 990.108 69.968379 z
" clip-path="url(#pdafc1e2fb6)" style="fill: #87ceeb; fill-opacity: 0.5; stroke: #000000; stroke-width: 0.989345; stroke-linejoin: miter"/>
</g>
<g id="patch_142">
<path d="M 1000.001455 204.624 L 1009.894909 204.624 L 1009.894909 106.342884 L 1000.001455 106.342884 z
" clip-path="url(#pdafc1e2fb6)" style="fill: #87ceeb; fill-opacity: 0.5; stroke: #000000; stroke-width: 0.989345; stroke-linejoin: miter"/>
</g>
<g id="patch_143">
<path d="M 1009.894909 204.624 L 1019.788364 204.624 L 1019.788364 88.155631 L 1009.894909 88.155631 z
" clip-path="url(#pdafc1e2fb6)" style="fill: #87ceeb; fill-opacity: 0.5; stroke: #000000; stroke-width: 0.989345; stroke-linejoin: miter"/>
</g>
<g id="patch_144">
<path d="M 1019.788364 204.624 L 1029.681818 204.624 L 1029.681818 115.086756 L 1019.788364 115.086756 z
" clip-path="url(#pdafc1e2fb6)" style="fill: #87ceeb; fill-opacity: 0.5; stroke: #000000; stroke-width: 0.989345; stroke-linejoin: miter"/>
</g>
<g id="patch_145">
<path d="M 1029.681818 204.624 L 1039.575273 204.624 L 1039.575273 116.83553 L 1029.681818 116.83553 z
" clip-path="url(#pdafc1e2fb6)" style="fill: #87ceeb; fill-opacity: 0.5; stroke: #000000; stroke-width: 0.989345; stroke-linejoin: miter"/>
</g>
<g id="patch_146">
<path d="M 1039.575273 204.624 L 1049.468727 204.624 L 1049.468727 132.574499 L 1039.575273 132.574499 z
" clip-path="url(#pdafc1e2fb6)" style="fill: #87ceeb; fill-opacity: 0.5; stroke: #000000; stroke-width: 0.989345; stroke-linejoin: miter"/>
</g>
<g id="patch_147">
<path d="M 1049.468727 204.624 L 1059.362182 204.624 L 1059.362182 126.628666 L 1049.468727 126.628666 z
" clip-path="url(#pdafc1e2fb6)" style="fill: #87ceeb; fill-opacity: 0.5; stroke: #000000; stroke-width: 0.989345; stroke-linejoin: miter"/>
</g>
<g id="patch_148">
<path d="M 1059.362182 204.624 L 1069.255636 204.624 L 1069.255636 103.19509 L 1059.362182 103.19509 z
" clip-path="url(#pdafc1e2fb6)" style="fill: #87ceeb; fill-opacity: 0.5; stroke: #000000; stroke-width: 0.989345; stroke-linejoin: miter"/>
</g>
<g id="patch_149">
<path d="M 1069.255636 204.624 L 1079.149091 204.624 L 1079.149091 185.037728 L 1069.255636 185.037728 z
" clip-path="url(#pdafc1e2fb6)" style="fill: #87ceeb; fill-opacity: 0.5; stroke: #000000; stroke-width: 0.989345; stroke-linejoin: miter"/>
</g>
<g id="patch_150">
<path d="M 1079.149091 204.624 L 1089.042545 204.624 L 1089.042545 201.825961 L 1079.149091 201.825961 z
" clip-path="url(#pdafc1e2fb6)" style="fill: #87ceeb; fill-opacity: 0.5; stroke: #000000; stroke-width: 0.989345; stroke-linejoin: miter"/>
</g>
<g id="matplotlib.axis_7">
<g id="xtick_19">
<g id="line2d_42">
<g>
<use xlink:href="#m9755dbcb59" x="913.607592" y="204.624" style="stroke: #000000; stroke-width: 0.832"/>
</g>
</g>
<g id="text_48">
<text style="font-size: 10.4px; font-family: 'DejaVu Sans', 'Liberation Sans', sans-serif; text-anchor: middle" x="913.607592" y="220.670375" transform="rotate(-0 913.607592 220.670375)">2</text>
</g>
</g>
<g id="xtick_20">
<g id="line2d_43">
<g>
<use xlink:href="#m9755dbcb59" x="958.475866" y="204.624" style="stroke: #000000; stroke-width: 0.832"/>
</g>
</g>
<g id="text_49">
<text style="font-size: 10.4px; font-family: 'DejaVu Sans', 'Liberation Sans', sans-serif; text-anchor: middle" x="958.475866" y="220.670375" transform="rotate(-0 958.475866 220.670375)">4</text>
</g>
</g>
<g id="xtick_21">
<g id="line2d_44">
<g>
<use xlink:href="#m9755dbcb59" x="1003.344141" y="204.624" style="stroke: #000000; stroke-width: 0.832"/>
</g>
</g>
<g id="text_50">
<text style="font-size: 10.4px; font-family: 'DejaVu Sans', 'Liberation Sans', sans-serif; text-anchor: middle" x="1003.344141" y="220.670375" transform="rotate(-0 1003.344141 220.670375)">6</text>
</g>
</g>
<g id="xtick_22">
<g id="line2d_45">
<g>
<use xlink:href="#m9755dbcb59" x="1048.212416" y="204.624" style="stroke: #000000; stroke-width: 0.832"/>
</g>
</g>
<g id="text_51">
<text style="font-size: 10.4px; font-family: 'DejaVu Sans', 'Liberation Sans', sans-serif; text-anchor: middle" x="1048.212416" y="220.670375" transform="rotate(-0 1048.212416 220.670375)">8</text>
</g>
</g>
<g id="xtick_23">
<g id="line2d_46">
<g>
<use xlink:href="#m9755dbcb59" x="1093.08069" y="204.624" style="stroke: #000000; stroke-width: 0.832"/>
</g>
</g>
<g id="text_52">
<text style="font-size: 10.4px; font-family: 'DejaVu Sans', 'Liberation Sans', sans-serif; text-anchor: middle" x="1093.08069" y="220.670375" transform="rotate(-0 1093.08069 220.670375)">10</text>
</g>
</g>
<g id="text_53">
<text style="font-size: 10.4px; font-family: 'DejaVu Sans', 'Liberation Sans', sans-serif; text-anchor: middle" x="990.108" y="234.895625" transform="rotate(-0 990.108 234.895625)">RBC</text>
</g>
</g>
<g id="matplotlib.axis_8">
<g id="ytick_21">
<g id="line2d_47">
<g>
<use xlink:href="#m81118948c4" x="881.28" y="204.624" style="stroke: #000000; stroke-width: 0.832"/>
</g>
</g>
<g id="text_54">
<text style="font-size: 10.4px; font-family: 'DejaVu Sans', 'Liberation Sans', sans-serif; text-anchor: end" x="874" y="209.439188" transform="rotate(-0 874 209.439188)">0</text>
</g>
</g>
<g id="ytick_22">
<g id="line2d_48">
<g>
<use xlink:href="#m81118948c4" x="881.28" y="169.648514" style="stroke: #000000; stroke-width: 0.832"/>
</g>
</g>
<g id="text_55">
<text style="font-size: 10.4px; font-family: 'DejaVu Sans', 'Liberation Sans', sans-serif; text-anchor: end" x="874" y="174.463701" transform="rotate(-0 874 174.463701)">100</text>
</g>
</g>
<g id="ytick_23">
<g id="line2d_49">
<g>
<use xlink:href="#m81118948c4" x="881.28" y="134.673028" style="stroke: #000000; stroke-width: 0.832"/>
</g>
</g>
<g id="text_56">
<text style="font-size: 10.4px; font-family: 'DejaVu Sans', 'Liberation Sans', sans-serif; text-anchor: end" x="874" y="139.488215" transform="rotate(-0 874 139.488215)">200</text>
</g>
</g>
<g id="ytick_24">
<g id="line2d_50">
<g>
<use xlink:href="#m81118948c4" x="881.28" y="99.697542" style="stroke: #000000; stroke-width: 0.832"/>
</g>
</g>
<g id="text_57">
<text style="font-size: 10.4px; font-family: 'DejaVu Sans', 'Liberation Sans', sans-serif; text-anchor: end" x="874" y="104.512729" transform="rotate(-0 874 104.512729)">300</text>
</g>
</g>
<g id="ytick_25">
<g id="line2d_51">
<g>
<use xlink:href="#m81118948c4" x="881.28" y="64.722056" style="stroke: #000000; stroke-width: 0.832"/>
</g>
</g>
<g id="text_58">
<text style="font-size: 10.4px; font-family: 'DejaVu Sans', 'Liberation Sans', sans-serif; text-anchor: end" x="874" y="69.537243" transform="rotate(-0 874 69.537243)">400</text>
</g>
</g>
<g id="ytick_26">
<g id="line2d_52">
<g>
<use xlink:href="#m81118948c4" x="881.28" y="29.74657" style="stroke: #000000; stroke-width: 0.832"/>
</g>
</g>
<g id="text_59">
<text style="font-size: 10.4px; font-family: 'DejaVu Sans', 'Liberation Sans', sans-serif; text-anchor: end" x="874" y="34.561757" transform="rotate(-0 874 34.561757)">500</text>
</g>
</g>
<g id="text_60">
<text style="font-size: 10.4px; font-family: 'DejaVu Sans', 'Liberation Sans', sans-serif; text-anchor: middle" x="847.826125" y="113.328" transform="rotate(-90 847.826125 113.328)">Count</text>
</g>
</g>
<g id="line2d_53">
<path d="M 891.173455 189.850181 L 894.156406 184.942888 L 896.14504 180.688168 L 898.133674 175.426393 L 900.122308 169.088374 L 902.110942 161.63913 L 904.099576 153.103522 L 906.08821 143.587124 L 909.071161 127.920737 L 916.031381 90.137851 L 919.014332 75.712015 L 921.002966 67.08063 L 922.9916 59.285765 L 924.980234 52.416437 L 926.968868 46.593364 L 927.963185 44.122224 L 928.957502 41.977291 L 929.951819 40.187853 L 930.946136 38.786883 L 931.940453 37.810533 L 932.93477 37.297376 L 933.929087 37.287401 L 934.923404 37.809073 L 935.917721 38.853722 L 936.912038 40.403412 L 937.906355 42.436479 L 938.900672 44.926216 L 939.894989 47.839653 L 941.883624 54.781276 L 943.872258 63.015706 L 945.860892 72.271255 L 952.821111 106.333248 L 954.809745 114.539737 L 956.798379 121.383041 L 957.792696 124.240753 L 958.787013 126.713595 L 959.78133 128.805353 L 960.775647 130.526363 L 961.769964 131.891629 L 962.764281 132.918778 L 963.758598 133.626051 L 964.752915 134.030468 L 965.747233 134.146319 L 966.74155 133.984312 L 967.735867 133.558251 L 968.730184 132.886443 L 969.724501 131.983716 L 970.718818 130.861787 L 971.713135 129.530487 L 973.701769 126.278465 L 975.690403 122.324887 L 977.679037 117.827732 L 983.644939 103.749552 L 985.633573 99.671478 L 987.622207 96.206564 L 988.616524 94.748139 L 989.610841 93.487018 L 990.605159 92.427299 L 991.599476 91.575151 L 992.593793 90.939315 L 993.58811 90.522061 L 994.582427 90.318884 L 995.576744 90.318959 L 996.571061 90.505852 L 997.565378 90.858468 L 999.554012 91.960222 L 1001.542646 93.409022 L 1007.508548 98.023631 L 1011.485816 100.618267 L 1015.463085 103.245555 L 1018.446036 105.563167 L 1021.428987 108.205673 L 1028.389206 114.614216 L 1031.372157 117.050725 L 1034.355108 119.198143 L 1037.338059 121.012098 L 1039.326693 121.986866 L 1041.315328 122.721508 L 1043.303962 123.175225 L 1045.292596 123.326018 L 1047.28123 123.186173 L 1049.269864 122.819697 L 1053.247132 121.987297 L 1054.241449 121.918219 L 1055.235766 121.973048 L 1056.230083 122.18944 L 1057.2244 122.605266 L 1058.218717 123.257243 L 1059.213034 124.17946 L 1060.207351 125.401437 L 1061.201668 126.942889 L 1062.195985 128.814417 L 1063.190302 131.018765 L 1064.184619 133.550138 L 1066.173254 139.526545 L 1068.161888 146.524685 L 1071.144839 158.188171 L 1075.122107 173.770798 L 1077.110741 180.721378 L 1079.099375 186.74197 L 1081.088009 191.677872 L 1082.082326 193.716136 L 1083.076643 195.46544 L 1084.07096 196.928636 L 1085.065277 198.111385 L 1086.059594 199.021362 L 1087.053911 199.667545 L 1089.042545 200.414257 L 1089.042545 200.414257 " clip-path="url(#pdafc1e2fb6)" style="fill: none; stroke: #87ceeb; stroke-width: 1.56; stroke-linecap: square"/>
</g>
<g id="patch_151">
<path d="M 881.28 204.624 L 881.28 18.432 " style="fill: none; stroke: #000000; stroke-width: 0.832; stroke-linejoin: miter; stroke-linecap: square"/>
</g>
<g id="patch_152">
<path d="M 1098.936 204.624 L 1098.936 18.432 " style="fill: none; stroke: #000000; stroke-width: 0.832; stroke-linejoin: miter; stroke-linecap: square"/>
</g>
<g id="patch_153">
<path d="M 881.28 204.624 L 1098.936 204.624 " style="fill: none; stroke: #000000; stroke-width: 0.832; stroke-linejoin: miter; stroke-linecap: square"/>
</g>
<g id="patch_154">
<path d="M 881.28 18.432 L 1098.936 18.432 " style="fill: none; stroke: #000000; stroke-width: 0.832; stroke-linejoin: miter; stroke-linecap: square"/>
</g>
<g id="text_61">
<text style="font-size: 12.48px; font-family: 'DejaVu Sans', 'Liberation Sans', sans-serif; text-anchor: middle" x="990.108" y="12.552" transform="rotate(-0 990.108 12.552)">Distribution of RBC</text>
</g>
</g>
<g id="axes_5">
<g id="patch_155">
<path d="M 49.608 451.152 L 267.264 451.152 L 267.264 265.608 L 49.608 265.608 z
" style="fill: #ffffff"/>
</g>
<g id="patch_156">
<path d="M 59.501455 451.152 L 68.923792 451.152 L 68.923792 446.168895 L 59.501455 446.168895 z
" clip-path="url(#pb3c0a4566b)" style="fill: #87ceeb; fill-opacity: 0.5; stroke: #000000; stroke-width: 0.942234; stroke-linejoin: miter"/>
</g>
<g id="patch_157">
<path d="M 68.923792 451.152 L 78.34613 451.152 L 78.34613 438.119264 L 68.923792 438.119264 z
" clip-path="url(#pb3c0a4566b)" style="fill: #87ceeb; fill-opacity: 0.5; stroke: #000000; stroke-width: 0.942234; stroke-linejoin: miter"/>
</g>
<g id="patch_158">
<path d="M 78.34613 451.152 L 87.768468 451.152 L 87.768468 424.703212 L 78.34613 424.703212 z
" clip-path="url(#pb3c0a4566b)" style="fill: #87ceeb; fill-opacity: 0.5; stroke: #000000; stroke-width: 0.942234; stroke-linejoin: miter"/>
</g>
<g id="patch_159">
<path d="M 87.768468 451.152 L 97.190805 451.152 L 97.190805 418.570159 L 87.768468 418.570159 z
" clip-path="url(#pb3c0a4566b)" style="fill: #87ceeb; fill-opacity: 0.5; stroke: #000000; stroke-width: 0.942234; stroke-linejoin: miter"/>
</g>
<g id="patch_160">
<path d="M 97.190805 451.152 L 106.613143 451.152 L 106.613143 362.222741 L 97.190805 362.222741 z
" clip-path="url(#pb3c0a4566b)" style="fill: #87ceeb; fill-opacity: 0.5; stroke: #000000; stroke-width: 0.942234; stroke-linejoin: miter"/>
</g>
<g id="patch_161">
<path d="M 106.613143 451.152 L 116.035481 451.152 L 116.035481 349.57332 L 106.613143 349.57332 z
" clip-path="url(#pb3c0a4566b)" style="fill: #87ceeb; fill-opacity: 0.5; stroke: #000000; stroke-width: 0.942234; stroke-linejoin: miter"/>
</g>
<g id="patch_162">
<path d="M 116.035481 451.152 L 125.457818 451.152 L 125.457818 287.092849 L 116.035481 287.092849 z
" clip-path="url(#pb3c0a4566b)" style="fill: #87ceeb; fill-opacity: 0.5; stroke: #000000; stroke-width: 0.942234; stroke-linejoin: miter"/>
</g>
<g id="patch_163">
<path d="M 125.457818 451.152 L 134.880156 451.152 L 134.880156 274.443429 L 125.457818 274.443429 z
" clip-path="url(#pb3c0a4566b)" style="fill: #87ceeb; fill-opacity: 0.5; stroke: #000000; stroke-width: 0.942234; stroke-linejoin: miter"/>
</g>
<g id="patch_164">
<path d="M 134.880156 451.152 L 144.302494 451.152 L 144.302494 295.909112 L 134.880156 295.909112 z
" clip-path="url(#pb3c0a4566b)" style="fill: #87ceeb; fill-opacity: 0.5; stroke: #000000; stroke-width: 0.942234; stroke-linejoin: miter"/>
</g>
<g id="patch_165">
<path d="M 144.302494 451.152 L 153.724831 451.152 L 153.724831 369.889056 L 144.302494 369.889056 z
" clip-path="url(#pb3c0a4566b)" style="fill: #87ceeb; fill-opacity: 0.5; stroke: #000000; stroke-width: 0.942234; stroke-linejoin: miter"/>
</g>
<g id="patch_166">
<path d="M 153.724831 451.152 L 163.147169 451.152 L 163.147169 410.520528 L 153.724831 410.520528 z
" clip-path="url(#pb3c0a4566b)" style="fill: #87ceeb; fill-opacity: 0.5; stroke: #000000; stroke-width: 0.942234; stroke-linejoin: miter"/>
</g>
<g id="patch_167">
<path d="M 163.147169 451.152 L 172.569506 451.152 L 172.569506 393.654634 L 163.147169 393.654634 z
" clip-path="url(#pb3c0a4566b)" style="fill: #87ceeb; fill-opacity: 0.5; stroke: #000000; stroke-width: 0.942234; stroke-linejoin: miter"/>
</g>
<g id="patch_168">
<path d="M 172.569506 451.152 L 181.991844 451.152 L 181.991844 364.139319 L 172.569506 364.139319 z
" clip-path="url(#pb3c0a4566b)" style="fill: #87ceeb; fill-opacity: 0.5; stroke: #000000; stroke-width: 0.942234; stroke-linejoin: miter"/>
</g>
<g id="patch_169">
<path d="M 181.991844 451.152 L 191.414182 451.152 L 191.414182 328.490953 L 181.991844 328.490953 z
" clip-path="url(#pb3c0a4566b)" style="fill: #87ceeb; fill-opacity: 0.5; stroke: #000000; stroke-width: 0.942234; stroke-linejoin: miter"/>
</g>
<g id="patch_170">
<path d="M 191.414182 451.152 L 200.836519 451.152 L 200.836519 321.974584 L 191.414182 321.974584 z
" clip-path="url(#pb3c0a4566b)" style="fill: #87ceeb; fill-opacity: 0.5; stroke: #000000; stroke-width: 0.942234; stroke-linejoin: miter"/>
</g>
<g id="patch_171">
<path d="M 200.836519 451.152 L 210.258857 451.152 L 210.258857 301.658848 L 200.836519 301.658848 z
" clip-path="url(#pb3c0a4566b)" style="fill: #87ceeb; fill-opacity: 0.5; stroke: #000000; stroke-width: 0.942234; stroke-linejoin: miter"/>
</g>
<g id="patch_172">
<path d="M 210.258857 451.152 L 219.681195 451.152 L 219.681195 302.042164 L 210.258857 302.042164 z
" clip-path="url(#pb3c0a4566b)" style="fill: #87ceeb; fill-opacity: 0.5; stroke: #000000; stroke-width: 0.942234; stroke-linejoin: miter"/>
</g>
<g id="patch_173">
<path d="M 219.681195 451.152 L 229.103532 451.152 L 229.103532 349.190004 L 219.681195 349.190004 z
" clip-path="url(#pb3c0a4566b)" style="fill: #87ceeb; fill-opacity: 0.5; stroke: #000000; stroke-width: 0.942234; stroke-linejoin: miter"/>
</g>
<g id="patch_174">
<path d="M 229.103532 451.152 L 238.52587 451.152 L 238.52587 342.673636 L 229.103532 342.673636 z
" clip-path="url(#pb3c0a4566b)" style="fill: #87ceeb; fill-opacity: 0.5; stroke: #000000; stroke-width: 0.942234; stroke-linejoin: miter"/>
</g>
<g id="patch_175">
<path d="M 238.52587 451.152 L 247.948208 451.152 L 247.948208 338.457163 L 238.52587 338.457163 z
" clip-path="url(#pb3c0a4566b)" style="fill: #87ceeb; fill-opacity: 0.5; stroke: #000000; stroke-width: 0.942234; stroke-linejoin: miter"/>
</g>
<g id="patch_176">
<path d="M 247.948208 451.152 L 257.370545 451.152 L 257.370545 422.786633 L 247.948208 422.786633 z
" clip-path="url(#pb3c0a4566b)" style="fill: #87ceeb; fill-opacity: 0.5; stroke: #000000; stroke-width: 0.942234; stroke-linejoin: miter"/>
</g>
<g id="matplotlib.axis_9">
<g id="xtick_24">
<g id="line2d_54">
<g>
<use xlink:href="#m9755dbcb59" x="97.229862" y="451.152" style="stroke: #000000; stroke-width: 0.832"/>
</g>
</g>
<g id="text_62">
<text style="font-size: 10.4px; font-family: 'DejaVu Sans', 'Liberation Sans', sans-serif; text-anchor: middle" x="97.229862" y="466.766375" transform="rotate(-0 97.229862 466.766375)">5</text>
</g>
</g>
<g id="xtick_25">
<g id="line2d_55">
<g>
<use xlink:href="#m9755dbcb59" x="148.491284" y="451.152" style="stroke: #000000; stroke-width: 0.832"/>
</g>
</g>
<g id="text_63">
<text style="font-size: 10.4px; font-family: 'DejaVu Sans', 'Liberation Sans', sans-serif; text-anchor: middle" x="148.491284" y="466.766375" transform="rotate(-0 148.491284 466.766375)">10</text>
</g>
</g>
<g id="xtick_26">
<g id="line2d_56">
<g>
<use xlink:href="#m9755dbcb59" x="199.752707" y="451.152" style="stroke: #000000; stroke-width: 0.832"/>
</g>
</g>
<g id="text_64">
<text style="font-size: 10.4px; font-family: 'DejaVu Sans', 'Liberation Sans', sans-serif; text-anchor: middle" x="199.752707" y="466.766375" transform="rotate(-0 199.752707 466.766375)">15</text>
</g>
</g>
<g id="xtick_27">
<g id="line2d_57">
<g>
<use xlink:href="#m9755dbcb59" x="251.014129" y="451.152" style="stroke: #000000; stroke-width: 0.832"/>
</g>
</g>
<g id="text_65">
<text style="font-size: 10.4px; font-family: 'DejaVu Sans', 'Liberation Sans', sans-serif; text-anchor: middle" x="251.014129" y="466.766375" transform="rotate(-0 251.014129 466.766375)">20</text>
</g>
</g>
<g id="text_66">
<text style="font-size: 10.4px; font-family: 'DejaVu Sans', 'Liberation Sans', sans-serif; text-anchor: middle" x="158.436" y="480.991625" transform="rotate(-0 158.436 480.991625)">HGB</text>
</g>
</g>
<g id="matplotlib.axis_10">
<g id="ytick_27">
<g id="line2d_58">
<g>
<use xlink:href="#m81118948c4" x="49.608" y="451.152" style="stroke: #000000; stroke-width: 0.832"/>
</g>
</g>
<g id="text_67">
<text style="font-size: 10.4px; font-family: 'DejaVu Sans', 'Liberation Sans', sans-serif; text-anchor: end" x="42.328" y="455.967187" transform="rotate(-0 42.328 455.967187)">0</text>
</g>
</g>
<g id="ytick_28">
<g id="line2d_59">
<g>
<use xlink:href="#m81118948c4" x="49.608" y="412.820423" style="stroke: #000000; stroke-width: 0.832"/>
</g>
</g>
<g id="text_68">
<text style="font-size: 10.4px; font-family: 'DejaVu Sans', 'Liberation Sans', sans-serif; text-anchor: end" x="42.328" y="417.63561" transform="rotate(-0 42.328 417.63561)">100</text>
</g>
</g>
<g id="ytick_29">
<g id="line2d_60">
<g>
<use xlink:href="#m81118948c4" x="49.608" y="374.488845" style="stroke: #000000; stroke-width: 0.832"/>
</g>
</g>
<g id="text_69">
<text style="font-size: 10.4px; font-family: 'DejaVu Sans', 'Liberation Sans', sans-serif; text-anchor: end" x="42.328" y="379.304033" transform="rotate(-0 42.328 379.304033)">200</text>
</g>
</g>
<g id="ytick_30">
<g id="line2d_61">
<g>
<use xlink:href="#m81118948c4" x="49.608" y="336.157268" style="stroke: #000000; stroke-width: 0.832"/>
</g>
</g>
<g id="text_70">
<text style="font-size: 10.4px; font-family: 'DejaVu Sans', 'Liberation Sans', sans-serif; text-anchor: end" x="42.328" y="340.972456" transform="rotate(-0 42.328 340.972456)">300</text>
</g>
</g>
<g id="ytick_31">
<g id="line2d_62">
<g>
<use xlink:href="#m81118948c4" x="49.608" y="297.825691" style="stroke: #000000; stroke-width: 0.832"/>
</g>
</g>
<g id="text_71">
<text style="font-size: 10.4px; font-family: 'DejaVu Sans', 'Liberation Sans', sans-serif; text-anchor: end" x="42.328" y="302.640878" transform="rotate(-0 42.328 302.640878)">400</text>
</g>
</g>
<g id="text_72">
<text style="font-size: 10.4px; font-family: 'DejaVu Sans', 'Liberation Sans', sans-serif; text-anchor: middle" x="16.154125" y="360.18" transform="rotate(-90 16.154125 360.18)">Count</text>
</g>
</g>
<g id="line2d_63">
<path d="M 59.501455 445.646146 L 61.490089 444.52814 L 63.478723 443.1631 L 65.467357 441.568008 L 68.450308 438.787703 L 71.433259 435.609821 L 74.41621 432.110531 L 77.399161 428.339704 L 80.382112 424.276367 L 83.365063 419.789636 L 85.353698 416.45088 L 87.342332 412.743992 L 89.330966 408.603065 L 91.3196 403.961803 L 93.308234 398.788891 L 95.296868 393.108499 L 98.279819 383.7898 L 101.26277 373.757013 L 105.240038 359.490652 L 108.222989 347.990809 L 113.194575 327.529522 L 116.177526 315.435463 L 118.16616 308.033256 L 120.154794 301.473107 L 122.143428 295.985377 L 123.137745 293.710084 L 124.132062 291.777754 L 125.126379 290.207492 L 126.120696 289.015054 L 127.115013 288.212775 L 128.10933 287.809592 L 129.103647 287.811116 L 130.097964 288.219714 L 131.092281 289.03456 L 132.086598 290.251633 L 133.080915 291.863642 L 134.075233 293.859879 L 135.06955 296.226015 L 136.063867 298.945452 L 138.052501 305.384342 L 140.041135 313.020986 L 142.029769 321.630834 L 145.01272 335.72445 L 149.984305 359.44866 L 151.972939 368.011922 L 153.961573 375.61945 L 155.950207 382.064704 L 156.944524 384.774797 L 157.938841 387.104324 L 158.933159 389.030895 L 159.927476 390.537241 L 160.921793 391.61082 L 161.91611 392.243346 L 162.910427 392.430247 L 163.904744 392.171118 L 164.899061 391.482851 L 165.893378 390.395293 L 166.887695 388.939947 L 167.882012 387.149213 L 168.876329 385.05597 L 170.864963 380.093887 L 172.853597 374.315292 L 175.836548 364.672263 L 181.80245 344.814711 L 183.791085 338.796967 L 185.779719 333.319687 L 187.768353 328.437083 L 189.756987 324.164699 L 191.745621 320.48806 L 193.734255 317.371402 L 195.722889 314.750733 L 197.711523 312.57523 L 199.700157 310.830245 L 201.688791 309.541277 L 202.683108 309.085425 L 203.677425 308.7678 L 204.671742 308.598613 L 205.666059 308.587882 L 206.660376 308.744641 L 207.654693 309.076125 L 208.649011 309.586968 L 209.643328 310.278458 L 210.637645 311.147873 L 211.631962 312.189373 L 213.620596 314.762004 L 215.60923 317.898428 L 218.592181 323.271713 L 222.569449 330.475315 L 224.558083 333.613837 L 226.546717 336.279598 L 228.535351 338.481771 L 231.518302 341.224417 L 233.506937 343.050116 L 235.495571 345.254573 L 236.489888 346.606596 L 237.484205 348.17904 L 238.478522 350.007189 L 239.472839 352.120382 L 240.467156 354.540685 L 242.45579 360.348464 L 244.444424 367.429625 L 246.433058 375.636047 L 249.416009 389.429907 L 255.381911 417.790334 L 257.370545 426.280551 L 257.370545 426.280551 " clip-path="url(#pb3c0a4566b)" style="fill: none; stroke: #87ceeb; stroke-width: 1.56; stroke-linecap: square"/>
</g>
<g id="patch_177">
<path d="M 49.608 451.152 L 49.608 265.608 " style="fill: none; stroke: #000000; stroke-width: 0.832; stroke-linejoin: miter; stroke-linecap: square"/>
</g>
<g id="patch_178">
<path d="M 267.264 451.152 L 267.264 265.608 " style="fill: none; stroke: #000000; stroke-width: 0.832; stroke-linejoin: miter; stroke-linecap: square"/>
</g>
<g id="patch_179">
<path d="M 49.608 451.152 L 267.264 451.152 " style="fill: none; stroke: #000000; stroke-width: 0.832; stroke-linejoin: miter; stroke-linecap: square"/>
</g>
<g id="patch_180">
<path d="M 49.608 265.608 L 267.264 265.608 " style="fill: none; stroke: #000000; stroke-width: 0.832; stroke-linejoin: miter; stroke-linecap: square"/>
</g>
<g id="text_73">
<text style="font-size: 12.48px; font-family: 'DejaVu Sans', 'Liberation Sans', sans-serif; text-anchor: middle" x="158.436" y="259.044" transform="rotate(-0 158.436 259.044)">Distribution of HGB</text>
</g>
</g>
<g id="axes_6">
<g id="patch_181">
<path d="M 327.312 451.152 L 544.968 451.152 L 544.968 265.608 L 327.312 265.608 z
" style="fill: #ffffff"/>
</g>
<g id="patch_182">
<path d="M 337.205455 451.152 L 344.815804 451.152 L 344.815804 450.440899 L 337.205455 450.440899 z
" clip-path="url(#p5f42fe8339)" style="fill: #87ceeb; fill-opacity: 0.5; stroke: #000000; stroke-width: 0.761035; stroke-linejoin: miter"/>
</g>
<g id="patch_183">
<path d="M 344.815804 451.152 L 352.426154 451.152 L 352.426154 448.663147 L 344.815804 448.663147 z
" clip-path="url(#p5f42fe8339)" style="fill: #87ceeb; fill-opacity: 0.5; stroke: #000000; stroke-width: 0.761035; stroke-linejoin: miter"/>
</g>
<g id="patch_184">
<path d="M 352.426154 451.152 L 360.036503 451.152 L 360.036503 438.707734 L 352.426154 438.707734 z
" clip-path="url(#p5f42fe8339)" style="fill: #87ceeb; fill-opacity: 0.5; stroke: #000000; stroke-width: 0.761035; stroke-linejoin: miter"/>
</g>
<g id="patch_185">
<path d="M 360.036503 451.152 L 367.646853 451.152 L 367.646853 417.019157 L 360.036503 417.019157 z
" clip-path="url(#p5f42fe8339)" style="fill: #87ceeb; fill-opacity: 0.5; stroke: #000000; stroke-width: 0.761035; stroke-linejoin: miter"/>
</g>
<g id="patch_186">
<path d="M 367.646853 451.152 L 375.257203 451.152 L 375.257203 415.596955 L 367.646853 415.596955 z
" clip-path="url(#p5f42fe8339)" style="fill: #87ceeb; fill-opacity: 0.5; stroke: #000000; stroke-width: 0.761035; stroke-linejoin: miter"/>
</g>
<g id="patch_187">
<path d="M 375.257203 451.152 L 382.867552 451.152 L 382.867552 358.353334 L 375.257203 358.353334 z
" clip-path="url(#p5f42fe8339)" style="fill: #87ceeb; fill-opacity: 0.5; stroke: #000000; stroke-width: 0.761035; stroke-linejoin: miter"/>
</g>
<g id="patch_188">
<path d="M 382.867552 451.152 L 390.477902 451.152 L 390.477902 341.642463 L 382.867552 341.642463 z
" clip-path="url(#p5f42fe8339)" style="fill: #87ceeb; fill-opacity: 0.5; stroke: #000000; stroke-width: 0.761035; stroke-linejoin: miter"/>
</g>
<g id="patch_189">
<path d="M 390.477902 451.152 L 398.088252 451.152 L 398.088252 337.731408 L 390.477902 337.731408 z
" clip-path="url(#p5f42fe8339)" style="fill: #87ceeb; fill-opacity: 0.5; stroke: #000000; stroke-width: 0.761035; stroke-linejoin: miter"/>
</g>
<g id="patch_190">
<path d="M 398.088252 451.152 L 405.698601 451.152 L 405.698601 274.443429 L 398.088252 274.443429 z
" clip-path="url(#p5f42fe8339)" style="fill: #87ceeb; fill-opacity: 0.5; stroke: #000000; stroke-width: 0.761035; stroke-linejoin: miter"/>
</g>
<g id="patch_191">
<path d="M 405.698601 451.152 L 413.308951 451.152 L 413.308951 361.197737 L 405.698601 361.197737 z
" clip-path="url(#p5f42fe8339)" style="fill: #87ceeb; fill-opacity: 0.5; stroke: #000000; stroke-width: 0.761035; stroke-linejoin: miter"/>
</g>
<g id="patch_192">
<path d="M 413.308951 451.152 L 420.919301 451.152 L 420.919301 365.108792 L 413.308951 365.108792 z
" clip-path="url(#p5f42fe8339)" style="fill: #87ceeb; fill-opacity: 0.5; stroke: #000000; stroke-width: 0.761035; stroke-linejoin: miter"/>
</g>
<g id="patch_193">
<path d="M 420.919301 451.152 L 428.52965 451.152 L 428.52965 425.552368 L 420.919301 425.552368 z
" clip-path="url(#p5f42fe8339)" style="fill: #87ceeb; fill-opacity: 0.5; stroke: #000000; stroke-width: 0.761035; stroke-linejoin: miter"/>
</g>
<g id="patch_194">
<path d="M 428.52965 451.152 L 436.14 451.152 L 436.14 402.441589 L 428.52965 402.441589 z
" clip-path="url(#p5f42fe8339)" style="fill: #87ceeb; fill-opacity: 0.5; stroke: #000000; stroke-width: 0.761035; stroke-linejoin: miter"/>
</g>
<g id="patch_195">
<path d="M 436.14 451.152 L 443.75035 451.152 L 443.75035 314.265078 L 436.14 314.265078 z
" clip-path="url(#p5f42fe8339)" style="fill: #87ceeb; fill-opacity: 0.5; stroke: #000000; stroke-width: 0.761035; stroke-linejoin: miter"/>
</g>
<g id="patch_196">
<path d="M 443.75035 451.152 L 451.360699 451.152 L 451.360699 362.97549 L 443.75035 362.97549 z
" clip-path="url(#p5f42fe8339)" style="fill: #87ceeb; fill-opacity: 0.5; stroke: #000000; stroke-width: 0.761035; stroke-linejoin: miter"/>
</g>
<g id="patch_197">
<path d="M 451.360699 451.152 L 458.971049 451.152 L 458.971049 292.220951 L 451.360699 292.220951 z
" clip-path="url(#p5f42fe8339)" style="fill: #87ceeb; fill-opacity: 0.5; stroke: #000000; stroke-width: 0.761035; stroke-linejoin: miter"/>
</g>
<g id="patch_198">
<path d="M 458.971049 451.152 L 466.581399 451.152 L 466.581399 346.975719 L 458.971049 346.975719 z
" clip-path="url(#p5f42fe8339)" style="fill: #87ceeb; fill-opacity: 0.5; stroke: #000000; stroke-width: 0.761035; stroke-linejoin: miter"/>
</g>
<g id="patch_199">
<path d="M 466.581399 451.152 L 474.191748 451.152 L 474.191748 301.465262 L 466.581399 301.465262 z
" clip-path="url(#p5f42fe8339)" style="fill: #87ceeb; fill-opacity: 0.5; stroke: #000000; stroke-width: 0.761035; stroke-linejoin: miter"/>
</g>
<g id="patch_200">
<path d="M 474.191748 451.152 L 481.802098 451.152 L 481.802098 372.575352 L 474.191748 372.575352 z
" clip-path="url(#p5f42fe8339)" style="fill: #87ceeb; fill-opacity: 0.5; stroke: #000000; stroke-width: 0.761035; stroke-linejoin: miter"/>
</g>
<g id="patch_201">
<path d="M 481.802098 451.152 L 489.412448 451.152 L 489.412448 332.753702 L 481.802098 332.753702 z
" clip-path="url(#p5f42fe8339)" style="fill: #87ceeb; fill-opacity: 0.5; stroke: #000000; stroke-width: 0.761035; stroke-linejoin: miter"/>
</g>
<g id="patch_202">
<path d="M 489.412448 451.152 L 497.022797 451.152 L 497.022797 359.775535 L 489.412448 359.775535 z
" clip-path="url(#p5f42fe8339)" style="fill: #87ceeb; fill-opacity: 0.5; stroke: #000000; stroke-width: 0.761035; stroke-linejoin: miter"/>
</g>
<g id="patch_203">
<path d="M 497.022797 451.152 L 504.633147 451.152 L 504.633147 445.463193 L 497.022797 445.463193 z
" clip-path="url(#p5f42fe8339)" style="fill: #87ceeb; fill-opacity: 0.5; stroke: #000000; stroke-width: 0.761035; stroke-linejoin: miter"/>
</g>
<g id="patch_204">
<path d="M 504.633147 451.152 L 512.243497 451.152 L 512.243497 442.263239 L 504.633147 442.263239 z
" clip-path="url(#p5f42fe8339)" style="fill: #87ceeb; fill-opacity: 0.5; stroke: #000000; stroke-width: 0.761035; stroke-linejoin: miter"/>
</g>
<g id="patch_205">
<path d="M 512.243497 451.152 L 519.853846 451.152 L 519.853846 446.529844 L 512.243497 446.529844 z
" clip-path="url(#p5f42fe8339)" style="fill: #87ceeb; fill-opacity: 0.5; stroke: #000000; stroke-width: 0.761035; stroke-linejoin: miter"/>
</g>
<g id="patch_206">
<path d="M 519.853846 451.152 L 527.464196 451.152 L 527.464196 437.641083 L 519.853846 437.641083 z
" clip-path="url(#p5f42fe8339)" style="fill: #87ceeb; fill-opacity: 0.5; stroke: #000000; stroke-width: 0.761035; stroke-linejoin: miter"/>
</g>
<g id="patch_207">
<path d="M 527.464196 451.152 L 535.074545 451.152 L 535.074545 446.174294 L 527.464196 446.174294 z
" clip-path="url(#p5f42fe8339)" style="fill: #87ceeb; fill-opacity: 0.5; stroke: #000000; stroke-width: 0.761035; stroke-linejoin: miter"/>
</g>
<g id="matplotlib.axis_11">
<g id="xtick_28">
<g id="line2d_64">
<g>
<use xlink:href="#m9755dbcb59" x="328.077565" y="451.152" style="stroke: #000000; stroke-width: 0.832"/>
</g>
</g>
<g id="text_74">
<text style="font-size: 10.4px; font-family: 'DejaVu Sans', 'Liberation Sans', sans-serif; text-anchor: middle" x="328.077565" y="466.766375" transform="rotate(-0 328.077565 466.766375)">0</text>
</g>
</g>
<g id="xtick_29">
<g id="line2d_65">
<g>
<use xlink:href="#m9755dbcb59" x="386.967175" y="451.152" style="stroke: #000000; stroke-width: 0.832"/>
</g>
</g>
<g id="text_75">
<text style="font-size: 10.4px; font-family: 'DejaVu Sans', 'Liberation Sans', sans-serif; text-anchor: middle" x="386.967175" y="466.766375" transform="rotate(-0 386.967175 466.766375)">20</text>
</g>
</g>
<g id="xtick_30">
<g id="line2d_66">
<g>
<use xlink:href="#m9755dbcb59" x="445.856786" y="451.152" style="stroke: #000000; stroke-width: 0.832"/>
</g>
</g>
<g id="text_76">
<text style="font-size: 10.4px; font-family: 'DejaVu Sans', 'Liberation Sans', sans-serif; text-anchor: middle" x="445.856786" y="466.766375" transform="rotate(-0 445.856786 466.766375)">40</text>
</g>
</g>
<g id="xtick_31">
<g id="line2d_67">
<g>
<use xlink:href="#m9755dbcb59" x="504.746396" y="451.152" style="stroke: #000000; stroke-width: 0.832"/>
</g>
</g>
<g id="text_77">
<text style="font-size: 10.4px; font-family: 'DejaVu Sans', 'Liberation Sans', sans-serif; text-anchor: middle" x="504.746396" y="466.766375" transform="rotate(-0 504.746396 466.766375)">60</text>
</g>
</g>
<g id="text_78">
<text style="font-size: 10.4px; font-family: 'DejaVu Sans', 'Liberation Sans', sans-serif; text-anchor: middle" x="436.14" y="480.991625" transform="rotate(-0 436.14 480.991625)">HCT</text>
</g>
</g>
<g id="matplotlib.axis_12">
<g id="ytick_32">
<g id="line2d_68">
<g>
<use xlink:href="#m81118948c4" x="327.312" y="451.152" style="stroke: #000000; stroke-width: 0.832"/>
</g>
</g>
<g id="text_79">
<text style="font-size: 10.4px; font-family: 'DejaVu Sans', 'Liberation Sans', sans-serif; text-anchor: end" x="320.032" y="455.967187" transform="rotate(-0 320.032 455.967187)">0</text>
</g>
</g>
<g id="ytick_33">
<g id="line2d_69">
<g>
<use xlink:href="#m81118948c4" x="327.312" y="415.596955" style="stroke: #000000; stroke-width: 0.832"/>
</g>
</g>
<g id="text_80">
<text style="font-size: 10.4px; font-family: 'DejaVu Sans', 'Liberation Sans', sans-serif; text-anchor: end" x="320.032" y="420.412143" transform="rotate(-0 320.032 420.412143)">100</text>
</g>
</g>
<g id="ytick_34">
<g id="line2d_70">
<g>
<use xlink:href="#m81118948c4" x="327.312" y="380.041911" style="stroke: #000000; stroke-width: 0.832"/>
</g>
</g>
<g id="text_81">
<text style="font-size: 10.4px; font-family: 'DejaVu Sans', 'Liberation Sans', sans-serif; text-anchor: end" x="320.032" y="384.857098" transform="rotate(-0 320.032 384.857098)">200</text>
</g>
</g>
<g id="ytick_35">
<g id="line2d_71">
<g>
<use xlink:href="#m81118948c4" x="327.312" y="344.486866" style="stroke: #000000; stroke-width: 0.832"/>
</g>
</g>
<g id="text_82">
<text style="font-size: 10.4px; font-family: 'DejaVu Sans', 'Liberation Sans', sans-serif; text-anchor: end" x="320.032" y="349.302054" transform="rotate(-0 320.032 349.302054)">300</text>
</g>
</g>
<g id="ytick_36">
<g id="line2d_72">
<g>
<use xlink:href="#m81118948c4" x="327.312" y="308.931822" style="stroke: #000000; stroke-width: 0.832"/>
</g>
</g>
<g id="text_83">
<text style="font-size: 10.4px; font-family: 'DejaVu Sans', 'Liberation Sans', sans-serif; text-anchor: end" x="320.032" y="313.747009" transform="rotate(-0 320.032 313.747009)">400</text>
</g>
</g>
<g id="ytick_37">
<g id="line2d_73">
<g>
<use xlink:href="#m81118948c4" x="327.312" y="273.376777" style="stroke: #000000; stroke-width: 0.832"/>
</g>
</g>
<g id="text_84">
<text style="font-size: 10.4px; font-family: 'DejaVu Sans', 'Liberation Sans', sans-serif; text-anchor: end" x="320.032" y="278.191965" transform="rotate(-0 320.032 278.191965)">500</text>
</g>
</g>
<g id="text_85">
<text style="font-size: 10.4px; font-family: 'DejaVu Sans', 'Liberation Sans', sans-serif; text-anchor: middle" x="293.858125" y="360.18" transform="rotate(-90 293.858125 360.18)">Count</text>
</g>
</g>
<g id="line2d_74">
<path d="M 337.205455 450.367354 L 338.199772 450.25579 L 340.188406 450.268202 L 341.182723 450.109283 L 342.17704 449.837204 L 344.165674 448.941823 L 346.154308 447.55745 L 348.142942 445.66369 L 350.131576 443.254502 L 352.12021 440.34863 L 354.108844 436.996707 L 357.091795 431.31608 L 361.069063 423.011974 L 365.046332 414.121864 L 368.029283 406.721063 L 370.017917 401.190617 L 372.006551 395.042274 L 374.989502 384.746355 L 382.944038 355.99097 L 386.921307 342.837948 L 390.898575 330.490141 L 392.887209 324.748232 L 394.875843 319.611688 L 395.87016 317.4176 L 396.864477 315.571876 L 397.858794 314.153054 L 398.853111 313.235917 L 399.847428 312.885225 L 400.841745 313.15004 L 401.836062 314.059263 L 402.830379 315.618953 L 403.824696 317.811735 L 404.819013 320.598377 L 405.81333 323.921259 L 407.801964 331.87059 L 409.790598 340.991079 L 416.750818 374.398458 L 418.739452 382.871063 L 420.728086 390.179864 L 421.722403 393.234581 L 422.71672 395.792264 L 423.711037 397.780852 L 424.705354 399.135021 L 425.699671 399.801057 L 426.693988 399.741343 L 427.688305 398.93806 L 428.682622 397.39574 L 429.676939 395.142433 L 430.671256 392.229304 L 431.665573 388.728606 L 433.654207 380.335863 L 436.637159 365.856154 L 439.62011 351.671534 L 441.608744 343.525867 L 443.597378 336.728732 L 445.586012 331.203746 L 447.574646 326.635952 L 449.56328 322.799177 L 451.551914 319.701263 L 452.546231 318.481114 L 453.540548 317.509635 L 454.534865 316.80388 L 455.529182 316.372626 L 456.523499 316.213354 L 457.517816 316.311227 L 458.512133 316.640174 L 459.50645 317.165804 L 461.495085 318.653543 L 463.483719 320.498161 L 466.46667 323.630078 L 468.455304 325.999733 L 470.443938 328.770377 L 472.432572 331.981741 L 478.398474 342.28727 L 483.370059 350.100625 L 485.358693 354.05011 L 486.353011 356.43549 L 487.347328 359.163311 L 488.341645 362.268014 L 490.330279 369.650902 L 492.318913 378.521767 L 494.307547 388.555583 L 499.279132 414.457349 L 501.267766 423.273877 L 502.262083 427.081289 L 503.2564 430.445638 L 504.250717 433.357195 L 505.245034 435.822358 L 506.239351 437.861242 L 507.233668 439.504674 L 508.227985 440.790977 L 509.222302 441.762851 L 510.216619 442.464647 L 511.210937 442.940205 L 512.205254 443.23134 L 513.199571 443.375462 L 515.188205 443.345557 L 518.171156 442.891502 L 521.154107 442.453146 L 523.142741 442.387877 L 525.131375 442.598397 L 527.120009 443.106025 L 529.108643 443.877864 L 532.091594 445.360022 L 534.080228 446.422012 L 535.074545 446.746729 L 535.074545 446.746729 " clip-path="url(#p5f42fe8339)" style="fill: none; stroke: #87ceeb; stroke-width: 1.56; stroke-linecap: square"/>
</g>
<g id="patch_208">
<path d="M 327.312 451.152 L 327.312 265.608 " style="fill: none; stroke: #000000; stroke-width: 0.832; stroke-linejoin: miter; stroke-linecap: square"/>
</g>
<g id="patch_209">
<path d="M 544.968 451.152 L 544.968 265.608 " style="fill: none; stroke: #000000; stroke-width: 0.832; stroke-linejoin: miter; stroke-linecap: square"/>
</g>
<g id="patch_210">
<path d="M 327.312 451.152 L 544.968 451.152 " style="fill: none; stroke: #000000; stroke-width: 0.832; stroke-linejoin: miter; stroke-linecap: square"/>
</g>
<g id="patch_211">
<path d="M 327.312 265.608 L 544.968 265.608 " style="fill: none; stroke: #000000; stroke-width: 0.832; stroke-linejoin: miter; stroke-linecap: square"/>
</g>
<g id="text_86">
<text style="font-size: 12.48px; font-family: 'DejaVu Sans', 'Liberation Sans', sans-serif; text-anchor: middle" x="436.14" y="259.044" transform="rotate(-0 436.14 259.044)">Distribution of HCT</text>
</g>
</g>
<g id="axes_7">
<g id="patch_212">
<path d="M 604.44 451.152 L 822.096 451.152 L 822.096 265.608 L 604.44 265.608 z
" style="fill: #ffffff"/>
</g>
<g id="patch_213">
<path d="M 614.333455 451.152 L 620.329488 451.152 L 620.329488 449.334011 L 614.333455 449.334011 z
" clip-path="url(#pe3dc72f4c5)" style="fill: #87ceeb; fill-opacity: 0.5; stroke: #000000; stroke-width: 0.599603; stroke-linejoin: miter"/>
</g>
<g id="patch_214">
<path d="M 620.329488 451.152 L 626.325521 451.152 L 626.325521 449.334011 L 620.329488 449.334011 z
" clip-path="url(#pe3dc72f4c5)" style="fill: #87ceeb; fill-opacity: 0.5; stroke: #000000; stroke-width: 0.599603; stroke-linejoin: miter"/>
</g>
<g id="patch_215">
<path d="M 626.325521 451.152 L 632.321554 451.152 L 632.321554 450.424804 L 626.325521 450.424804 z
" clip-path="url(#pe3dc72f4c5)" style="fill: #87ceeb; fill-opacity: 0.5; stroke: #000000; stroke-width: 0.599603; stroke-linejoin: miter"/>
</g>
<g id="patch_216">
<path d="M 632.321554 451.152 L 638.317587 451.152 L 638.317587 446.06163 L 632.321554 446.06163 z
" clip-path="url(#pe3dc72f4c5)" style="fill: #87ceeb; fill-opacity: 0.5; stroke: #000000; stroke-width: 0.599603; stroke-linejoin: miter"/>
</g>
<g id="patch_217">
<path d="M 638.317587 451.152 L 644.31362 451.152 L 644.31362 448.970413 L 638.317587 448.970413 z
" clip-path="url(#pe3dc72f4c5)" style="fill: #87ceeb; fill-opacity: 0.5; stroke: #000000; stroke-width: 0.599603; stroke-linejoin: miter"/>
</g>
<g id="patch_218">
<path d="M 644.31362 451.152 L 650.309653 451.152 L 650.309653 445.698032 L 644.31362 445.698032 z
" clip-path="url(#pe3dc72f4c5)" style="fill: #87ceeb; fill-opacity: 0.5; stroke: #000000; stroke-width: 0.599603; stroke-linejoin: miter"/>
</g>
<g id="patch_219">
<path d="M 650.309653 451.152 L 656.305686 451.152 L 656.305686 437.698878 L 650.309653 437.698878 z
" clip-path="url(#pe3dc72f4c5)" style="fill: #87ceeb; fill-opacity: 0.5; stroke: #000000; stroke-width: 0.599603; stroke-linejoin: miter"/>
</g>
<g id="patch_220">
<path d="M 656.305686 451.152 L 662.301719 451.152 L 662.301719 435.153693 L 656.305686 435.153693 z
" clip-path="url(#pe3dc72f4c5)" style="fill: #87ceeb; fill-opacity: 0.5; stroke: #000000; stroke-width: 0.599603; stroke-linejoin: miter"/>
</g>
<g id="patch_221">
<path d="M 662.301719 451.152 L 668.297752 451.152 L 668.297752 420.609778 L 662.301719 420.609778 z
" clip-path="url(#pe3dc72f4c5)" style="fill: #87ceeb; fill-opacity: 0.5; stroke: #000000; stroke-width: 0.599603; stroke-linejoin: miter"/>
</g>
<g id="patch_222">
<path d="M 668.297752 451.152 L 674.293785 451.152 L 674.293785 429.699725 L 668.297752 429.699725 z
" clip-path="url(#pe3dc72f4c5)" style="fill: #87ceeb; fill-opacity: 0.5; stroke: #000000; stroke-width: 0.599603; stroke-linejoin: miter"/>
</g>
<g id="patch_223">
<path d="M 674.293785 451.152 L 680.289818 451.152 L 680.289818 451.152 L 674.293785 451.152 z
" clip-path="url(#pe3dc72f4c5)" style="fill: #87ceeb; fill-opacity: 0.5; stroke: #000000; stroke-width: 0.599603; stroke-linejoin: miter"/>
</g>
<g id="patch_224">
<path d="M 680.289818 451.152 L 686.285851 451.152 L 686.285851 416.973799 L 680.289818 416.973799 z
" clip-path="url(#pe3dc72f4c5)" style="fill: #87ceeb; fill-opacity: 0.5; stroke: #000000; stroke-width: 0.599603; stroke-linejoin: miter"/>
</g>
<g id="patch_225">
<path d="M 686.285851 451.152 L 692.281884 451.152 L 692.281884 403.520677 L 686.285851 403.520677 z
" clip-path="url(#pe3dc72f4c5)" style="fill: #87ceeb; fill-opacity: 0.5; stroke: #000000; stroke-width: 0.599603; stroke-linejoin: miter"/>
</g>
<g id="patch_226">
<path d="M 692.281884 451.152 L 698.277917 451.152 L 698.277917 386.431577 L 692.281884 386.431577 z
" clip-path="url(#pe3dc72f4c5)" style="fill: #87ceeb; fill-opacity: 0.5; stroke: #000000; stroke-width: 0.599603; stroke-linejoin: miter"/>
</g>
<g id="patch_227">
<path d="M 698.277917 451.152 L 704.27395 451.152 L 704.27395 358.43454 L 698.277917 358.43454 z
" clip-path="url(#pe3dc72f4c5)" style="fill: #87ceeb; fill-opacity: 0.5; stroke: #000000; stroke-width: 0.599603; stroke-linejoin: miter"/>
</g>
<g id="patch_228">
<path d="M 704.27395 451.152 L 710.269983 451.152 L 710.269983 294.077714 L 704.27395 294.077714 z
" clip-path="url(#pe3dc72f4c5)" style="fill: #87ceeb; fill-opacity: 0.5; stroke: #000000; stroke-width: 0.599603; stroke-linejoin: miter"/>
</g>
<g id="patch_229">
<path d="M 710.269983 451.152 L 716.266017 451.152 L 716.266017 274.443429 L 710.269983 274.443429 z
" clip-path="url(#pe3dc72f4c5)" style="fill: #87ceeb; fill-opacity: 0.5; stroke: #000000; stroke-width: 0.599603; stroke-linejoin: miter"/>
</g>
<g id="patch_230">
<path d="M 716.266017 451.152 L 722.26205 451.152 L 722.26205 309.348825 L 716.266017 309.348825 z
" clip-path="url(#pe3dc72f4c5)" style="fill: #87ceeb; fill-opacity: 0.5; stroke: #000000; stroke-width: 0.599603; stroke-linejoin: miter"/>
</g>
<g id="patch_231">
<path d="M 722.26205 451.152 L 728.258083 451.152 L 728.258083 337.70946 L 722.26205 337.70946 z
" clip-path="url(#pe3dc72f4c5)" style="fill: #87ceeb; fill-opacity: 0.5; stroke: #000000; stroke-width: 0.599603; stroke-linejoin: miter"/>
</g>
<g id="patch_232">
<path d="M 728.258083 451.152 L 734.254116 451.152 L 734.254116 408.974646 L 728.258083 408.974646 z
" clip-path="url(#pe3dc72f4c5)" style="fill: #87ceeb; fill-opacity: 0.5; stroke: #000000; stroke-width: 0.599603; stroke-linejoin: miter"/>
</g>
<g id="patch_233">
<path d="M 734.254116 451.152 L 740.250149 451.152 L 740.250149 329.346709 L 734.254116 329.346709 z
" clip-path="url(#pe3dc72f4c5)" style="fill: #87ceeb; fill-opacity: 0.5; stroke: #000000; stroke-width: 0.599603; stroke-linejoin: miter"/>
</g>
<g id="patch_234">
<path d="M 740.250149 451.152 L 746.246182 451.152 L 746.246182 451.152 L 740.250149 451.152 z
" clip-path="url(#pe3dc72f4c5)" style="fill: #87ceeb; fill-opacity: 0.5; stroke: #000000; stroke-width: 0.599603; stroke-linejoin: miter"/>
</g>
<g id="patch_235">
<path d="M 746.246182 451.152 L 752.242215 451.152 L 752.242215 325.347132 L 746.246182 325.347132 z
" clip-path="url(#pe3dc72f4c5)" style="fill: #87ceeb; fill-opacity: 0.5; stroke: #000000; stroke-width: 0.599603; stroke-linejoin: miter"/>
</g>
<g id="patch_236">
<path d="M 752.242215 451.152 L 758.238248 451.152 L 758.238248 335.891471 L 752.242215 335.891471 z
" clip-path="url(#pe3dc72f4c5)" style="fill: #87ceeb; fill-opacity: 0.5; stroke: #000000; stroke-width: 0.599603; stroke-linejoin: miter"/>
</g>
<g id="patch_237">
<path d="M 758.238248 451.152 L 764.234281 451.152 L 764.234281 344.254222 L 758.238248 344.254222 z
" clip-path="url(#pe3dc72f4c5)" style="fill: #87ceeb; fill-opacity: 0.5; stroke: #000000; stroke-width: 0.599603; stroke-linejoin: miter"/>
</g>
<g id="patch_238">
<path d="M 764.234281 451.152 L 770.230314 451.152 L 770.230314 339.891048 L 764.234281 339.891048 z
" clip-path="url(#pe3dc72f4c5)" style="fill: #87ceeb; fill-opacity: 0.5; stroke: #000000; stroke-width: 0.599603; stroke-linejoin: miter"/>
</g>
<g id="patch_239">
<path d="M 770.230314 451.152 L 776.226347 451.152 L 776.226347 316.984381 L 770.230314 316.984381 z
" clip-path="url(#pe3dc72f4c5)" style="fill: #87ceeb; fill-opacity: 0.5; stroke: #000000; stroke-width: 0.599603; stroke-linejoin: miter"/>
</g>
<g id="patch_240">
<path d="M 776.226347 451.152 L 782.22238 451.152 L 782.22238 328.255915 L 776.226347 328.255915 z
" clip-path="url(#pe3dc72f4c5)" style="fill: #87ceeb; fill-opacity: 0.5; stroke: #000000; stroke-width: 0.599603; stroke-linejoin: miter"/>
</g>
<g id="patch_241">
<path d="M 782.22238 451.152 L 788.218413 451.152 L 788.218413 445.698032 L 782.22238 445.698032 z
" clip-path="url(#pe3dc72f4c5)" style="fill: #87ceeb; fill-opacity: 0.5; stroke: #000000; stroke-width: 0.599603; stroke-linejoin: miter"/>
</g>
<g id="patch_242">
<path d="M 788.218413 451.152 L 794.214446 451.152 L 794.214446 449.334011 L 788.218413 449.334011 z
" clip-path="url(#pe3dc72f4c5)" style="fill: #87ceeb; fill-opacity: 0.5; stroke: #000000; stroke-width: 0.599603; stroke-linejoin: miter"/>
</g>
<g id="patch_243">
<path d="M 794.214446 451.152 L 800.210479 451.152 L 800.210479 449.334011 L 794.214446 449.334011 z
" clip-path="url(#pe3dc72f4c5)" style="fill: #87ceeb; fill-opacity: 0.5; stroke: #000000; stroke-width: 0.599603; stroke-linejoin: miter"/>
</g>
<g id="patch_244">
<path d="M 800.210479 451.152 L 806.206512 451.152 L 806.206512 446.788825 L 800.210479 446.788825 z
" clip-path="url(#pe3dc72f4c5)" style="fill: #87ceeb; fill-opacity: 0.5; stroke: #000000; stroke-width: 0.599603; stroke-linejoin: miter"/>
</g>
<g id="patch_245">
<path d="M 806.206512 451.152 L 812.202545 451.152 L 812.202545 450.061206 L 806.206512 450.061206 z
" clip-path="url(#pe3dc72f4c5)" style="fill: #87ceeb; fill-opacity: 0.5; stroke: #000000; stroke-width: 0.599603; stroke-linejoin: miter"/>
</g>
<g id="matplotlib.axis_13">
<g id="xtick_32">
<g id="line2d_75">
<g>
<use xlink:href="#m9755dbcb59" x="667.098545" y="451.152" style="stroke: #000000; stroke-width: 0.832"/>
</g>
</g>
<g id="text_87">
<text style="font-size: 10.4px; font-family: 'DejaVu Sans', 'Liberation Sans', sans-serif; text-anchor: middle" x="667.098545" y="466.766375" transform="rotate(-0 667.098545 466.766375)">20</text>
</g>
</g>
<g id="xtick_33">
<g id="line2d_76">
<g>
<use xlink:href="#m9755dbcb59" x="733.054909" y="451.152" style="stroke: #000000; stroke-width: 0.832"/>
</g>
</g>
<g id="text_88">
<text style="font-size: 10.4px; font-family: 'DejaVu Sans', 'Liberation Sans', sans-serif; text-anchor: middle" x="733.054909" y="466.766375" transform="rotate(-0 733.054909 466.766375)">30</text>
</g>
</g>
<g id="xtick_34">
<g id="line2d_77">
<g>
<use xlink:href="#m9755dbcb59" x="799.011273" y="451.152" style="stroke: #000000; stroke-width: 0.832"/>
</g>
</g>
<g id="text_89">
<text style="font-size: 10.4px; font-family: 'DejaVu Sans', 'Liberation Sans', sans-serif; text-anchor: middle" x="799.011273" y="466.766375" transform="rotate(-0 799.011273 466.766375)">40</text>
</g>
</g>
<g id="text_90">
<text style="font-size: 10.4px; font-family: 'DejaVu Sans', 'Liberation Sans', sans-serif; text-anchor: middle" x="713.268" y="480.991625" transform="rotate(-0 713.268 480.991625)">MCH</text>
</g>
</g>
<g id="matplotlib.axis_14">
<g id="ytick_38">
<g id="line2d_78">
<g>
<use xlink:href="#m81118948c4" x="604.44" y="451.152" style="stroke: #000000; stroke-width: 0.832"/>
</g>
</g>
<g id="text_91">
<text style="font-size: 10.4px; font-family: 'DejaVu Sans', 'Liberation Sans', sans-serif; text-anchor: end" x="597.16" y="455.967187" transform="rotate(-0 597.16 455.967187)">0</text>
</g>
</g>
<g id="ytick_39">
<g id="line2d_79">
<g>
<use xlink:href="#m81118948c4" x="604.44" y="414.792212" style="stroke: #000000; stroke-width: 0.832"/>
</g>
</g>
<g id="text_92">
<text style="font-size: 10.4px; font-family: 'DejaVu Sans', 'Liberation Sans', sans-serif; text-anchor: end" x="597.16" y="419.607399" transform="rotate(-0 597.16 419.607399)">100</text>
</g>
</g>
<g id="ytick_40">
<g id="line2d_80">
<g>
<use xlink:href="#m81118948c4" x="604.44" y="378.432423" style="stroke: #000000; stroke-width: 0.832"/>
</g>
</g>
<g id="text_93">
<text style="font-size: 10.4px; font-family: 'DejaVu Sans', 'Liberation Sans', sans-serif; text-anchor: end" x="597.16" y="383.247611" transform="rotate(-0 597.16 383.247611)">200</text>
</g>
</g>
<g id="ytick_41">
<g id="line2d_81">
<g>
<use xlink:href="#m81118948c4" x="604.44" y="342.072635" style="stroke: #000000; stroke-width: 0.832"/>
</g>
</g>
<g id="text_94">
<text style="font-size: 10.4px; font-family: 'DejaVu Sans', 'Liberation Sans', sans-serif; text-anchor: end" x="597.16" y="346.887822" transform="rotate(-0 597.16 346.887822)">300</text>
</g>
</g>
<g id="ytick_42">
<g id="line2d_82">
<g>
<use xlink:href="#m81118948c4" x="604.44" y="305.712847" style="stroke: #000000; stroke-width: 0.832"/>
</g>
</g>
<g id="text_95">
<text style="font-size: 10.4px; font-family: 'DejaVu Sans', 'Liberation Sans', sans-serif; text-anchor: end" x="597.16" y="310.528034" transform="rotate(-0 597.16 310.528034)">400</text>
</g>
</g>
<g id="ytick_43">
<g id="line2d_83">
<g>
<use xlink:href="#m81118948c4" x="604.44" y="269.353058" style="stroke: #000000; stroke-width: 0.832"/>
</g>
</g>
<g id="text_96">
<text style="font-size: 10.4px; font-family: 'DejaVu Sans', 'Liberation Sans', sans-serif; text-anchor: end" x="597.16" y="274.168246" transform="rotate(-0 597.16 274.168246)">500</text>
</g>
</g>
<g id="text_97">
<text style="font-size: 10.4px; font-family: 'DejaVu Sans', 'Liberation Sans', sans-serif; text-anchor: middle" x="570.986125" y="360.18" transform="rotate(-90 570.986125 360.18)">Count</text>
</g>
</g>
<g id="line2d_84">
<path d="M 614.333455 449.991675 L 618.310723 449.75449 L 625.270942 449.476844 L 628.253893 449.102913 L 635.214112 448.080408 L 640.185698 447.561636 L 642.174332 447.12891 L 644.162966 446.440041 L 646.1516 445.471009 L 648.140234 444.251059 L 651.123185 442.098034 L 655.100453 438.936403 L 659.077721 435.481743 L 664.049307 431.024948 L 666.037941 429.604605 L 668.026575 428.54567 L 673.992477 425.958258 L 674.986794 425.254743 L 675.981111 424.401842 L 677.969745 422.224255 L 679.958379 419.45159 L 681.947013 416.175145 L 683.935647 412.478917 L 685.924281 408.392366 L 687.912915 403.872954 L 689.90155 398.806873 L 691.890184 393.018543 L 693.878818 386.291342 L 695.867452 378.413407 L 697.856086 369.261699 L 699.84472 358.915829 L 705.810622 326.035405 L 706.804939 321.416666 L 707.799256 317.34965 L 708.793573 313.924607 L 709.78789 311.211374 L 710.782207 309.257029 L 711.776524 308.084927 L 712.770841 307.695057 L 713.765159 308.065712 L 714.759476 309.156513 L 715.753793 310.912669 L 716.74811 313.270155 L 717.742427 316.161177 L 718.736744 319.519048 L 720.725378 327.391798 L 722.714012 336.441571 L 727.685597 360.446276 L 728.679914 364.538144 L 729.674231 368.019556 L 730.668548 370.730011 L 731.662865 372.539318 L 732.657182 373.365347 L 733.651499 373.187377 L 734.645816 372.052345 L 735.640133 370.072521 L 736.63445 367.414787 L 738.623085 360.89803 L 740.611719 354.201907 L 741.606036 351.235473 L 742.600353 348.683934 L 743.59467 346.61124 L 744.588987 345.039965 L 745.583304 343.958465 L 746.577621 343.329517 L 747.571938 343.098909 L 748.566255 343.202988 L 749.560572 343.5746 L 750.554889 344.147316 L 752.543523 345.648522 L 755.526474 347.992987 L 756.520791 348.622182 L 757.515108 349.115484 L 758.509425 349.444321 L 759.503742 349.585612 L 760.498059 349.522676 L 761.492376 349.246518 L 762.486693 348.757445 L 763.481011 348.066925 L 765.469645 346.194819 L 768.452596 342.999977 L 769.446913 342.172104 L 770.44123 341.647499 L 771.435547 341.551703 L 772.429864 342.012785 L 773.424181 343.154264 L 774.418498 345.086733 L 775.412815 347.89843 L 776.407132 351.645314 L 777.401449 356.341553 L 778.395766 361.951769 L 780.3844 375.503339 L 786.350302 420.470267 L 787.344619 426.376609 L 788.338937 431.475365 L 789.333254 435.749972 L 790.327571 439.230564 L 791.321888 441.982794 L 792.316205 444.095144 L 793.310522 445.666762 L 794.304839 446.797318 L 795.299156 447.579682 L 796.293473 448.095589 L 797.28779 448.4139 L 799.276424 448.671293 L 802.259375 448.654008 L 805.242326 448.669627 L 808.225277 448.963225 L 812.202545 449.699031 L 812.202545 449.699031 " clip-path="url(#pe3dc72f4c5)" style="fill: none; stroke: #87ceeb; stroke-width: 1.56; stroke-linecap: square"/>
</g>
<g id="patch_246">
<path d="M 604.44 451.152 L 604.44 265.608 " style="fill: none; stroke: #000000; stroke-width: 0.832; stroke-linejoin: miter; stroke-linecap: square"/>
</g>
<g id="patch_247">
<path d="M 822.096 451.152 L 822.096 265.608 " style="fill: none; stroke: #000000; stroke-width: 0.832; stroke-linejoin: miter; stroke-linecap: square"/>
</g>
<g id="patch_248">
<path d="M 604.44 451.152 L 822.096 451.152 " style="fill: none; stroke: #000000; stroke-width: 0.832; stroke-linejoin: miter; stroke-linecap: square"/>
</g>
<g id="patch_249">
<path d="M 604.44 265.608 L 822.096 265.608 " style="fill: none; stroke: #000000; stroke-width: 0.832; stroke-linejoin: miter; stroke-linecap: square"/>
</g>
<g id="text_98">
<text style="font-size: 12.48px; font-family: 'DejaVu Sans', 'Liberation Sans', sans-serif; text-anchor: middle" x="713.268" y="259.044" transform="rotate(-0 713.268 259.044)">Distribution of MCH</text>
</g>
</g>
<g id="axes_8">
<g id="patch_250">
<path d="M 881.28 451.152 L 1098.936 451.152 L 1098.936 265.608 L 881.28 265.608 z
" style="fill: #ffffff"/>
</g>
<g id="patch_251">
<path d="M 891.173455 451.152 L 893.847361 451.152 L 893.847361 450.424804 L 891.173455 450.424804 z
" clip-path="url(#p5d82b2bbf1)" style="fill: #87ceeb; fill-opacity: 0.5; stroke: #000000; stroke-width: 0.267391; stroke-linejoin: miter"/>
</g>
<g id="patch_252">
<path d="M 893.847361 451.152 L 896.521268 451.152 L 896.521268 451.152 L 893.847361 451.152 z
" clip-path="url(#p5d82b2bbf1)" style="fill: #87ceeb; fill-opacity: 0.5; stroke: #000000; stroke-width: 0.267391; stroke-linejoin: miter"/>
</g>
<g id="patch_253">
<path d="M 896.521268 451.152 L 899.195174 451.152 L 899.195174 451.152 L 896.521268 451.152 z
" clip-path="url(#p5d82b2bbf1)" style="fill: #87ceeb; fill-opacity: 0.5; stroke: #000000; stroke-width: 0.267391; stroke-linejoin: miter"/>
</g>
<g id="patch_254">
<path d="M 899.195174 451.152 L 901.869081 451.152 L 901.869081 451.152 L 899.195174 451.152 z
" clip-path="url(#p5d82b2bbf1)" style="fill: #87ceeb; fill-opacity: 0.5; stroke: #000000; stroke-width: 0.267391; stroke-linejoin: miter"/>
</g>
<g id="patch_255">
<path d="M 901.869081 451.152 L 904.542988 451.152 L 904.542988 451.152 L 901.869081 451.152 z
" clip-path="url(#p5d82b2bbf1)" style="fill: #87ceeb; fill-opacity: 0.5; stroke: #000000; stroke-width: 0.267391; stroke-linejoin: miter"/>
</g>
<g id="patch_256">
<path d="M 904.542988 451.152 L 907.216894 451.152 L 907.216894 451.152 L 904.542988 451.152 z
" clip-path="url(#p5d82b2bbf1)" style="fill: #87ceeb; fill-opacity: 0.5; stroke: #000000; stroke-width: 0.267391; stroke-linejoin: miter"/>
</g>
<g id="patch_257">
<path d="M 907.216894 451.152 L 909.890801 451.152 L 909.890801 451.152 L 907.216894 451.152 z
" clip-path="url(#p5d82b2bbf1)" style="fill: #87ceeb; fill-opacity: 0.5; stroke: #000000; stroke-width: 0.267391; stroke-linejoin: miter"/>
</g>
<g id="patch_258">
<path d="M 909.890801 451.152 L 912.564708 451.152 L 912.564708 451.152 L 909.890801 451.152 z
" clip-path="url(#p5d82b2bbf1)" style="fill: #87ceeb; fill-opacity: 0.5; stroke: #000000; stroke-width: 0.267391; stroke-linejoin: miter"/>
</g>
<g id="patch_259">
<path d="M 912.564708 451.152 L 915.238614 451.152 L 915.238614 448.606815 L 912.564708 448.606815 z
" clip-path="url(#p5d82b2bbf1)" style="fill: #87ceeb; fill-opacity: 0.5; stroke: #000000; stroke-width: 0.267391; stroke-linejoin: miter"/>
</g>
<g id="patch_260">
<path d="M 915.238614 451.152 L 917.912521 451.152 L 917.912521 451.152 L 915.238614 451.152 z
" clip-path="url(#p5d82b2bbf1)" style="fill: #87ceeb; fill-opacity: 0.5; stroke: #000000; stroke-width: 0.267391; stroke-linejoin: miter"/>
</g>
<g id="patch_261">
<path d="M 917.912521 451.152 L 920.586428 451.152 L 920.586428 451.152 L 917.912521 451.152 z
" clip-path="url(#p5d82b2bbf1)" style="fill: #87ceeb; fill-opacity: 0.5; stroke: #000000; stroke-width: 0.267391; stroke-linejoin: miter"/>
</g>
<g id="patch_262">
<path d="M 920.586428 451.152 L 923.260334 451.152 L 923.260334 448.606815 L 920.586428 448.606815 z
" clip-path="url(#p5d82b2bbf1)" style="fill: #87ceeb; fill-opacity: 0.5; stroke: #000000; stroke-width: 0.267391; stroke-linejoin: miter"/>
</g>
<g id="patch_263">
<path d="M 923.260334 451.152 L 925.934241 451.152 L 925.934241 451.152 L 923.260334 451.152 z
" clip-path="url(#p5d82b2bbf1)" style="fill: #87ceeb; fill-opacity: 0.5; stroke: #000000; stroke-width: 0.267391; stroke-linejoin: miter"/>
</g>
<g id="patch_264">
<path d="M 925.934241 451.152 L 928.608147 451.152 L 928.608147 451.152 L 925.934241 451.152 z
" clip-path="url(#p5d82b2bbf1)" style="fill: #87ceeb; fill-opacity: 0.5; stroke: #000000; stroke-width: 0.267391; stroke-linejoin: miter"/>
</g>
<g id="patch_265">
<path d="M 928.608147 451.152 L 931.282054 451.152 L 931.282054 451.152 L 928.608147 451.152 z
" clip-path="url(#p5d82b2bbf1)" style="fill: #87ceeb; fill-opacity: 0.5; stroke: #000000; stroke-width: 0.267391; stroke-linejoin: miter"/>
</g>
<g id="patch_266">
<path d="M 931.282054 451.152 L 933.955961 451.152 L 933.955961 451.152 L 931.282054 451.152 z
" clip-path="url(#p5d82b2bbf1)" style="fill: #87ceeb; fill-opacity: 0.5; stroke: #000000; stroke-width: 0.267391; stroke-linejoin: miter"/>
</g>
<g id="patch_267">
<path d="M 933.955961 451.152 L 936.629867 451.152 L 936.629867 451.152 L 933.955961 451.152 z
" clip-path="url(#p5d82b2bbf1)" style="fill: #87ceeb; fill-opacity: 0.5; stroke: #000000; stroke-width: 0.267391; stroke-linejoin: miter"/>
</g>
<g id="patch_268">
<path d="M 936.629867 451.152 L 939.303774 451.152 L 939.303774 451.152 L 936.629867 451.152 z
" clip-path="url(#p5d82b2bbf1)" style="fill: #87ceeb; fill-opacity: 0.5; stroke: #000000; stroke-width: 0.267391; stroke-linejoin: miter"/>
</g>
<g id="patch_269">
<path d="M 939.303774 451.152 L 941.977681 451.152 L 941.977681 451.152 L 939.303774 451.152 z
" clip-path="url(#p5d82b2bbf1)" style="fill: #87ceeb; fill-opacity: 0.5; stroke: #000000; stroke-width: 0.267391; stroke-linejoin: miter"/>
</g>
<g id="patch_270">
<path d="M 941.977681 451.152 L 944.651587 451.152 L 944.651587 451.152 L 941.977681 451.152 z
" clip-path="url(#p5d82b2bbf1)" style="fill: #87ceeb; fill-opacity: 0.5; stroke: #000000; stroke-width: 0.267391; stroke-linejoin: miter"/>
</g>
<g id="patch_271">
<path d="M 944.651587 451.152 L 947.325494 451.152 L 947.325494 451.152 L 944.651587 451.152 z
" clip-path="url(#p5d82b2bbf1)" style="fill: #87ceeb; fill-opacity: 0.5; stroke: #000000; stroke-width: 0.267391; stroke-linejoin: miter"/>
</g>
<g id="patch_272">
<path d="M 947.325494 451.152 L 949.9994 451.152 L 949.9994 451.152 L 947.325494 451.152 z
" clip-path="url(#p5d82b2bbf1)" style="fill: #87ceeb; fill-opacity: 0.5; stroke: #000000; stroke-width: 0.267391; stroke-linejoin: miter"/>
</g>
<g id="patch_273">
<path d="M 949.9994 451.152 L 952.673307 451.152 L 952.673307 451.152 L 949.9994 451.152 z
" clip-path="url(#p5d82b2bbf1)" style="fill: #87ceeb; fill-opacity: 0.5; stroke: #000000; stroke-width: 0.267391; stroke-linejoin: miter"/>
</g>
<g id="patch_274">
<path d="M 952.673307 451.152 L 955.347214 451.152 L 955.347214 451.152 L 952.673307 451.152 z
" clip-path="url(#p5d82b2bbf1)" style="fill: #87ceeb; fill-opacity: 0.5; stroke: #000000; stroke-width: 0.267391; stroke-linejoin: miter"/>
</g>
<g id="patch_275">
<path d="M 955.347214 451.152 L 958.02112 451.152 L 958.02112 450.424804 L 955.347214 450.424804 z
" clip-path="url(#p5d82b2bbf1)" style="fill: #87ceeb; fill-opacity: 0.5; stroke: #000000; stroke-width: 0.267391; stroke-linejoin: miter"/>
</g>
<g id="patch_276">
<path d="M 958.02112 451.152 L 960.695027 451.152 L 960.695027 450.061206 L 958.02112 450.061206 z
" clip-path="url(#p5d82b2bbf1)" style="fill: #87ceeb; fill-opacity: 0.5; stroke: #000000; stroke-width: 0.267391; stroke-linejoin: miter"/>
</g>
<g id="patch_277">
<path d="M 960.695027 451.152 L 963.368934 451.152 L 963.368934 449.334011 L 960.695027 449.334011 z
" clip-path="url(#p5d82b2bbf1)" style="fill: #87ceeb; fill-opacity: 0.5; stroke: #000000; stroke-width: 0.267391; stroke-linejoin: miter"/>
</g>
<g id="patch_278">
<path d="M 963.368934 451.152 L 966.04284 451.152 L 966.04284 448.970413 L 963.368934 448.970413 z
" clip-path="url(#p5d82b2bbf1)" style="fill: #87ceeb; fill-opacity: 0.5; stroke: #000000; stroke-width: 0.267391; stroke-linejoin: miter"/>
</g>
<g id="patch_279">
<path d="M 966.04284 451.152 L 968.716747 451.152 L 968.716747 443.516444 L 966.04284 443.516444 z
" clip-path="url(#p5d82b2bbf1)" style="fill: #87ceeb; fill-opacity: 0.5; stroke: #000000; stroke-width: 0.267391; stroke-linejoin: miter"/>
</g>
<g id="patch_280">
<path d="M 968.716747 451.152 L 971.390654 451.152 L 971.390654 447.516021 L 968.716747 447.516021 z
" clip-path="url(#p5d82b2bbf1)" style="fill: #87ceeb; fill-opacity: 0.5; stroke: #000000; stroke-width: 0.267391; stroke-linejoin: miter"/>
</g>
<g id="patch_281">
<path d="M 971.390654 451.152 L 974.06456 451.152 L 974.06456 438.426074 L 971.390654 438.426074 z
" clip-path="url(#p5d82b2bbf1)" style="fill: #87ceeb; fill-opacity: 0.5; stroke: #000000; stroke-width: 0.267391; stroke-linejoin: miter"/>
</g>
<g id="patch_282">
<path d="M 974.06456 451.152 L 976.738467 451.152 L 976.738467 447.879619 L 974.06456 447.879619 z
" clip-path="url(#p5d82b2bbf1)" style="fill: #87ceeb; fill-opacity: 0.5; stroke: #000000; stroke-width: 0.267391; stroke-linejoin: miter"/>
</g>
<g id="patch_283">
<path d="M 976.738467 451.152 L 979.412373 451.152 L 979.412373 446.06163 L 976.738467 446.06163 z
" clip-path="url(#p5d82b2bbf1)" style="fill: #87ceeb; fill-opacity: 0.5; stroke: #000000; stroke-width: 0.267391; stroke-linejoin: miter"/>
</g>
<g id="patch_284">
<path d="M 979.412373 451.152 L 982.08628 451.152 L 982.08628 444.970836 L 979.412373 444.970836 z
" clip-path="url(#p5d82b2bbf1)" style="fill: #87ceeb; fill-opacity: 0.5; stroke: #000000; stroke-width: 0.267391; stroke-linejoin: miter"/>
</g>
<g id="patch_285">
<path d="M 982.08628 451.152 L 984.760187 451.152 L 984.760187 443.152847 L 982.08628 443.152847 z
" clip-path="url(#p5d82b2bbf1)" style="fill: #87ceeb; fill-opacity: 0.5; stroke: #000000; stroke-width: 0.267391; stroke-linejoin: miter"/>
</g>
<g id="patch_286">
<path d="M 984.760187 451.152 L 987.434093 451.152 L 987.434093 446.06163 L 984.760187 446.06163 z
" clip-path="url(#p5d82b2bbf1)" style="fill: #87ceeb; fill-opacity: 0.5; stroke: #000000; stroke-width: 0.267391; stroke-linejoin: miter"/>
</g>
<g id="patch_287">
<path d="M 987.434093 451.152 L 990.108 451.152 L 990.108 422.427767 L 987.434093 422.427767 z
" clip-path="url(#p5d82b2bbf1)" style="fill: #87ceeb; fill-opacity: 0.5; stroke: #000000; stroke-width: 0.267391; stroke-linejoin: miter"/>
</g>
<g id="patch_288">
<path d="M 990.108 451.152 L 992.781907 451.152 L 992.781907 438.062476 L 990.108 438.062476 z
" clip-path="url(#p5d82b2bbf1)" style="fill: #87ceeb; fill-opacity: 0.5; stroke: #000000; stroke-width: 0.267391; stroke-linejoin: miter"/>
</g>
<g id="patch_289">
<path d="M 992.781907 451.152 L 995.455813 451.152 L 995.455813 425.33655 L 992.781907 425.33655 z
" clip-path="url(#p5d82b2bbf1)" style="fill: #87ceeb; fill-opacity: 0.5; stroke: #000000; stroke-width: 0.267391; stroke-linejoin: miter"/>
</g>
<g id="patch_290">
<path d="M 995.455813 451.152 L 998.12972 451.152 L 998.12972 443.880042 L 995.455813 443.880042 z
" clip-path="url(#p5d82b2bbf1)" style="fill: #87ceeb; fill-opacity: 0.5; stroke: #000000; stroke-width: 0.267391; stroke-linejoin: miter"/>
</g>
<g id="patch_291">
<path d="M 998.12972 451.152 L 1000.803627 451.152 L 1000.803627 422.427767 L 998.12972 422.427767 z
" clip-path="url(#p5d82b2bbf1)" style="fill: #87ceeb; fill-opacity: 0.5; stroke: #000000; stroke-width: 0.267391; stroke-linejoin: miter"/>
</g>
<g id="patch_292">
<path d="M 1000.803627 451.152 L 1003.477533 451.152 L 1003.477533 434.790095 L 1000.803627 434.790095 z
" clip-path="url(#p5d82b2bbf1)" style="fill: #87ceeb; fill-opacity: 0.5; stroke: #000000; stroke-width: 0.267391; stroke-linejoin: miter"/>
</g>
<g id="patch_293">
<path d="M 1003.477533 451.152 L 1006.15144 451.152 L 1006.15144 388.976762 L 1003.477533 388.976762 z
" clip-path="url(#p5d82b2bbf1)" style="fill: #87ceeb; fill-opacity: 0.5; stroke: #000000; stroke-width: 0.267391; stroke-linejoin: miter"/>
</g>
<g id="patch_294">
<path d="M 1006.15144 451.152 L 1008.825346 451.152 L 1008.825346 419.882582 L 1006.15144 419.882582 z
" clip-path="url(#p5d82b2bbf1)" style="fill: #87ceeb; fill-opacity: 0.5; stroke: #000000; stroke-width: 0.267391; stroke-linejoin: miter"/>
</g>
<g id="patch_295">
<path d="M 1008.825346 451.152 L 1011.499253 451.152 L 1011.499253 346.43581 L 1008.825346 346.43581 z
" clip-path="url(#p5d82b2bbf1)" style="fill: #87ceeb; fill-opacity: 0.5; stroke: #000000; stroke-width: 0.267391; stroke-linejoin: miter"/>
</g>
<g id="patch_296">
<path d="M 1011.499253 451.152 L 1014.17316 451.152 L 1014.17316 394.43073 L 1011.499253 394.43073 z
" clip-path="url(#p5d82b2bbf1)" style="fill: #87ceeb; fill-opacity: 0.5; stroke: #000000; stroke-width: 0.267391; stroke-linejoin: miter"/>
</g>
<g id="patch_297">
<path d="M 1014.17316 451.152 L 1016.847066 451.152 L 1016.847066 312.621206 L 1014.17316 312.621206 z
" clip-path="url(#p5d82b2bbf1)" style="fill: #87ceeb; fill-opacity: 0.5; stroke: #000000; stroke-width: 0.267391; stroke-linejoin: miter"/>
</g>
<g id="patch_298">
<path d="M 1016.847066 451.152 L 1019.520973 451.152 L 1019.520973 380.977608 L 1016.847066 380.977608 z
" clip-path="url(#p5d82b2bbf1)" style="fill: #87ceeb; fill-opacity: 0.5; stroke: #000000; stroke-width: 0.267391; stroke-linejoin: miter"/>
</g>
<g id="patch_299">
<path d="M 1019.520973 451.152 L 1022.19488 451.152 L 1022.19488 328.983111 L 1019.520973 328.983111 z
" clip-path="url(#p5d82b2bbf1)" style="fill: #87ceeb; fill-opacity: 0.5; stroke: #000000; stroke-width: 0.267391; stroke-linejoin: miter"/>
</g>
<g id="patch_300">
<path d="M 1022.19488 451.152 L 1024.868786 451.152 L 1024.868786 399.521101 L 1022.19488 399.521101 z
" clip-path="url(#p5d82b2bbf1)" style="fill: #87ceeb; fill-opacity: 0.5; stroke: #000000; stroke-width: 0.267391; stroke-linejoin: miter"/>
</g>
<g id="patch_301">
<path d="M 1024.868786 451.152 L 1027.542693 451.152 L 1027.542693 367.160889 L 1024.868786 367.160889 z
" clip-path="url(#p5d82b2bbf1)" style="fill: #87ceeb; fill-opacity: 0.5; stroke: #000000; stroke-width: 0.267391; stroke-linejoin: miter"/>
</g>
<g id="patch_302">
<path d="M 1027.542693 451.152 L 1030.2166 451.152 L 1030.2166 342.072635 L 1027.542693 342.072635 z
" clip-path="url(#p5d82b2bbf1)" style="fill: #87ceeb; fill-opacity: 0.5; stroke: #000000; stroke-width: 0.267391; stroke-linejoin: miter"/>
</g>
<g id="patch_303">
<path d="M 1030.2166 451.152 L 1032.890506 451.152 L 1032.890506 283.533376 L 1030.2166 283.533376 z
" clip-path="url(#p5d82b2bbf1)" style="fill: #87ceeb; fill-opacity: 0.5; stroke: #000000; stroke-width: 0.267391; stroke-linejoin: miter"/>
</g>
<g id="patch_304">
<path d="M 1032.890506 451.152 L 1035.564413 451.152 L 1035.564413 357.707344 L 1032.890506 357.707344 z
" clip-path="url(#p5d82b2bbf1)" style="fill: #87ceeb; fill-opacity: 0.5; stroke: #000000; stroke-width: 0.267391; stroke-linejoin: miter"/>
</g>
<g id="patch_305">
<path d="M 1035.564413 451.152 L 1038.238319 451.152 L 1038.238319 274.443429 L 1035.564413 274.443429 z
" clip-path="url(#p5d82b2bbf1)" style="fill: #87ceeb; fill-opacity: 0.5; stroke: #000000; stroke-width: 0.267391; stroke-linejoin: miter"/>
</g>
<g id="patch_306">
<path d="M 1038.238319 451.152 L 1040.912226 451.152 L 1040.912226 395.521524 L 1038.238319 395.521524 z
" clip-path="url(#p5d82b2bbf1)" style="fill: #87ceeb; fill-opacity: 0.5; stroke: #000000; stroke-width: 0.267391; stroke-linejoin: miter"/>
</g>
<g id="patch_307">
<path d="M 1040.912226 451.152 L 1043.586133 451.152 L 1043.586133 294.077714 L 1040.912226 294.077714 z
" clip-path="url(#p5d82b2bbf1)" style="fill: #87ceeb; fill-opacity: 0.5; stroke: #000000; stroke-width: 0.267391; stroke-linejoin: miter"/>
</g>
<g id="patch_308">
<path d="M 1043.586133 451.152 L 1046.260039 451.152 L 1046.260039 376.250836 L 1043.586133 376.250836 z
" clip-path="url(#p5d82b2bbf1)" style="fill: #87ceeb; fill-opacity: 0.5; stroke: #000000; stroke-width: 0.267391; stroke-linejoin: miter"/>
</g>
<g id="patch_309">
<path d="M 1046.260039 451.152 L 1048.933946 451.152 L 1048.933946 376.978032 L 1046.260039 376.978032 z
" clip-path="url(#p5d82b2bbf1)" style="fill: #87ceeb; fill-opacity: 0.5; stroke: #000000; stroke-width: 0.267391; stroke-linejoin: miter"/>
</g>
<g id="patch_310">
<path d="M 1048.933946 451.152 L 1051.607853 451.152 L 1051.607853 448.243217 L 1048.933946 448.243217 z
" clip-path="url(#p5d82b2bbf1)" style="fill: #87ceeb; fill-opacity: 0.5; stroke: #000000; stroke-width: 0.267391; stroke-linejoin: miter"/>
</g>
<g id="patch_311">
<path d="M 1051.607853 451.152 L 1054.281759 451.152 L 1054.281759 446.06163 L 1051.607853 446.06163 z
" clip-path="url(#p5d82b2bbf1)" style="fill: #87ceeb; fill-opacity: 0.5; stroke: #000000; stroke-width: 0.267391; stroke-linejoin: miter"/>
</g>
<g id="patch_312">
<path d="M 1054.281759 451.152 L 1056.955666 451.152 L 1056.955666 449.697608 L 1054.281759 449.697608 z
" clip-path="url(#p5d82b2bbf1)" style="fill: #87ceeb; fill-opacity: 0.5; stroke: #000000; stroke-width: 0.267391; stroke-linejoin: miter"/>
</g>
<g id="patch_313">
<path d="M 1056.955666 451.152 L 1059.629572 451.152 L 1059.629572 450.061206 L 1056.955666 450.061206 z
" clip-path="url(#p5d82b2bbf1)" style="fill: #87ceeb; fill-opacity: 0.5; stroke: #000000; stroke-width: 0.267391; stroke-linejoin: miter"/>
</g>
<g id="patch_314">
<path d="M 1059.629572 451.152 L 1062.303479 451.152 L 1062.303479 450.061206 L 1059.629572 450.061206 z
" clip-path="url(#p5d82b2bbf1)" style="fill: #87ceeb; fill-opacity: 0.5; stroke: #000000; stroke-width: 0.267391; stroke-linejoin: miter"/>
</g>
<g id="patch_315">
<path d="M 1062.303479 451.152 L 1064.977386 451.152 L 1064.977386 450.424804 L 1062.303479 450.424804 z
" clip-path="url(#p5d82b2bbf1)" style="fill: #87ceeb; fill-opacity: 0.5; stroke: #000000; stroke-width: 0.267391; stroke-linejoin: miter"/>
</g>
<g id="patch_316">
<path d="M 1064.977386 451.152 L 1067.651292 451.152 L 1067.651292 450.061206 L 1064.977386 450.061206 z
" clip-path="url(#p5d82b2bbf1)" style="fill: #87ceeb; fill-opacity: 0.5; stroke: #000000; stroke-width: 0.267391; stroke-linejoin: miter"/>
</g>
<g id="patch_317">
<path d="M 1067.651292 451.152 L 1070.325199 451.152 L 1070.325199 448.243217 L 1067.651292 448.243217 z
" clip-path="url(#p5d82b2bbf1)" style="fill: #87ceeb; fill-opacity: 0.5; stroke: #000000; stroke-width: 0.267391; stroke-linejoin: miter"/>
</g>
<g id="patch_318">
<path d="M 1070.325199 451.152 L 1072.999106 451.152 L 1072.999106 450.061206 L 1070.325199 450.061206 z
" clip-path="url(#p5d82b2bbf1)" style="fill: #87ceeb; fill-opacity: 0.5; stroke: #000000; stroke-width: 0.267391; stroke-linejoin: miter"/>
</g>
<g id="patch_319">
<path d="M 1072.999106 451.152 L 1075.673012 451.152 L 1075.673012 448.243217 L 1072.999106 448.243217 z
" clip-path="url(#p5d82b2bbf1)" style="fill: #87ceeb; fill-opacity: 0.5; stroke: #000000; stroke-width: 0.267391; stroke-linejoin: miter"/>
</g>
<g id="patch_320">
<path d="M 1075.673012 451.152 L 1078.346919 451.152 L 1078.346919 450.424804 L 1075.673012 450.424804 z
" clip-path="url(#p5d82b2bbf1)" style="fill: #87ceeb; fill-opacity: 0.5; stroke: #000000; stroke-width: 0.267391; stroke-linejoin: miter"/>
</g>
<g id="patch_321">
<path d="M 1078.346919 451.152 L 1081.020826 451.152 L 1081.020826 449.697608 L 1078.346919 449.697608 z
" clip-path="url(#p5d82b2bbf1)" style="fill: #87ceeb; fill-opacity: 0.5; stroke: #000000; stroke-width: 0.267391; stroke-linejoin: miter"/>
</g>
<g id="patch_322">
<path d="M 1081.020826 451.152 L 1083.694732 451.152 L 1083.694732 448.970413 L 1081.020826 448.970413 z
" clip-path="url(#p5d82b2bbf1)" style="fill: #87ceeb; fill-opacity: 0.5; stroke: #000000; stroke-width: 0.267391; stroke-linejoin: miter"/>
</g>
<g id="patch_323">
<path d="M 1083.694732 451.152 L 1086.368639 451.152 L 1086.368639 448.970413 L 1083.694732 448.970413 z
" clip-path="url(#p5d82b2bbf1)" style="fill: #87ceeb; fill-opacity: 0.5; stroke: #000000; stroke-width: 0.267391; stroke-linejoin: miter"/>
</g>
<g id="patch_324">
<path d="M 1086.368639 451.152 L 1089.042545 451.152 L 1089.042545 448.970413 L 1086.368639 448.970413 z
" clip-path="url(#p5d82b2bbf1)" style="fill: #87ceeb; fill-opacity: 0.5; stroke: #000000; stroke-width: 0.267391; stroke-linejoin: miter"/>
</g>
<g id="matplotlib.axis_15">
<g id="xtick_35">
<g id="line2d_85">
<g>
<use xlink:href="#m9755dbcb59" x="916.129916" y="451.152" style="stroke: #000000; stroke-width: 0.832"/>
</g>
</g>
<g id="text_99">
<text style="font-size: 10.4px; font-family: 'DejaVu Sans', 'Liberation Sans', sans-serif; text-anchor: middle" x="916.129916" y="466.766375" transform="rotate(-0 916.129916 466.766375)">25</text>
</g>
</g>
<g id="xtick_36">
<g id="line2d_86">
<g>
<use xlink:href="#m9755dbcb59" x="960.695027" y="451.152" style="stroke: #000000; stroke-width: 0.832"/>
</g>
</g>
<g id="text_100">
<text style="font-size: 10.4px; font-family: 'DejaVu Sans', 'Liberation Sans', sans-serif; text-anchor: middle" x="960.695027" y="466.766375" transform="rotate(-0 960.695027 466.766375)">50</text>
</g>
</g>
<g id="xtick_37">
<g id="line2d_87">
<g>
<use xlink:href="#m9755dbcb59" x="1005.260138" y="451.152" style="stroke: #000000; stroke-width: 0.832"/>
</g>
</g>
<g id="text_101">
<text style="font-size: 10.4px; font-family: 'DejaVu Sans', 'Liberation Sans', sans-serif; text-anchor: middle" x="1005.260138" y="466.766375" transform="rotate(-0 1005.260138 466.766375)">75</text>
</g>
</g>
<g id="xtick_38">
<g id="line2d_88">
<g>
<use xlink:href="#m9755dbcb59" x="1049.825248" y="451.152" style="stroke: #000000; stroke-width: 0.832"/>
</g>
</g>
<g id="text_102">
<text style="font-size: 10.4px; font-family: 'DejaVu Sans', 'Liberation Sans', sans-serif; text-anchor: middle" x="1049.825248" y="466.766375" transform="rotate(-0 1049.825248 466.766375)">100</text>
</g>
</g>
<g id="xtick_39">
<g id="line2d_89">
<g>
<use xlink:href="#m9755dbcb59" x="1094.390359" y="451.152" style="stroke: #000000; stroke-width: 0.832"/>
</g>
</g>
<g id="text_103">
<text style="font-size: 10.4px; font-family: 'DejaVu Sans', 'Liberation Sans', sans-serif; text-anchor: middle" x="1094.390359" y="466.766375" transform="rotate(-0 1094.390359 466.766375)">125</text>
</g>
</g>
<g id="text_104">
<text style="font-size: 10.4px; font-family: 'DejaVu Sans', 'Liberation Sans', sans-serif; text-anchor: middle" x="990.108" y="480.991625" transform="rotate(-0 990.108 480.991625)">MCV</text>
</g>
</g>
<g id="matplotlib.axis_16">
<g id="ytick_44">
<g id="line2d_90">
<g>
<use xlink:href="#m81118948c4" x="881.28" y="451.152" style="stroke: #000000; stroke-width: 0.832"/>
</g>
</g>
<g id="text_105">
<text style="font-size: 10.4px; font-family: 'DejaVu Sans', 'Liberation Sans', sans-serif; text-anchor: end" x="874" y="455.967187" transform="rotate(-0 874 455.967187)">0</text>
</g>
</g>
<g id="ytick_45">
<g id="line2d_91">
<g>
<use xlink:href="#m81118948c4" x="881.28" y="414.792212" style="stroke: #000000; stroke-width: 0.832"/>
</g>
</g>
<g id="text_106">
<text style="font-size: 10.4px; font-family: 'DejaVu Sans', 'Liberation Sans', sans-serif; text-anchor: end" x="874" y="419.607399" transform="rotate(-0 874 419.607399)">100</text>
</g>
</g>
<g id="ytick_46">
<g id="line2d_92">
<g>
<use xlink:href="#m81118948c4" x="881.28" y="378.432423" style="stroke: #000000; stroke-width: 0.832"/>
</g>
</g>
<g id="text_107">
<text style="font-size: 10.4px; font-family: 'DejaVu Sans', 'Liberation Sans', sans-serif; text-anchor: end" x="874" y="383.247611" transform="rotate(-0 874 383.247611)">200</text>
</g>
</g>
<g id="ytick_47">
<g id="line2d_93">
<g>
<use xlink:href="#m81118948c4" x="881.28" y="342.072635" style="stroke: #000000; stroke-width: 0.832"/>
</g>
</g>
<g id="text_108">
<text style="font-size: 10.4px; font-family: 'DejaVu Sans', 'Liberation Sans', sans-serif; text-anchor: end" x="874" y="346.887822" transform="rotate(-0 874 346.887822)">300</text>
</g>
</g>
<g id="ytick_48">
<g id="line2d_94">
<g>
<use xlink:href="#m81118948c4" x="881.28" y="305.712847" style="stroke: #000000; stroke-width: 0.832"/>
</g>
</g>
<g id="text_109">
<text style="font-size: 10.4px; font-family: 'DejaVu Sans', 'Liberation Sans', sans-serif; text-anchor: end" x="874" y="310.528034" transform="rotate(-0 874 310.528034)">400</text>
</g>
</g>
<g id="ytick_49">
<g id="line2d_95">
<g>
<use xlink:href="#m81118948c4" x="881.28" y="269.353058" style="stroke: #000000; stroke-width: 0.832"/>
</g>
</g>
<g id="text_110">
<text style="font-size: 10.4px; font-family: 'DejaVu Sans', 'Liberation Sans', sans-serif; text-anchor: end" x="874" y="274.168246" transform="rotate(-0 874 274.168246)">500</text>
</g>
</g>
<g id="text_111">
<text style="font-size: 10.4px; font-family: 'DejaVu Sans', 'Liberation Sans', sans-serif; text-anchor: middle" x="847.826125" y="360.18" transform="rotate(-90 847.826125 360.18)">Count</text>
</g>
</g>
<g id="line2d_96">
<path d="M 891.173455 450.937596 L 895.150723 451.001668 L 901.116625 451.142554 L 906.08821 451.061002 L 909.071161 450.779999 L 913.048429 450.342649 L 916.031381 450.357212 L 919.014332 450.329029 L 921.997283 450.322891 L 924.980234 450.679395 L 927.963185 451.024047 L 930.946136 451.136001 L 943.872258 451.151563 L 950.832477 451.058934 L 953.815428 450.806878 L 956.798379 450.319822 L 959.78133 449.582585 L 961.769964 448.850719 L 963.758598 447.859234 L 968.730184 445.068276 L 969.724501 444.671101 L 970.718818 444.403607 L 971.713135 444.291953 L 972.707452 444.339622 L 974.696086 444.765031 L 976.68472 445.164474 L 977.679037 445.193065 L 978.673354 445.067539 L 979.667671 444.781656 L 980.661988 444.32773 L 981.656305 443.682813 L 982.650622 442.810704 L 983.644939 441.68208 L 985.633573 438.739723 L 987.622207 435.577825 L 988.616524 434.283062 L 989.610841 433.329818 L 990.605159 432.749146 L 991.599476 432.497994 L 994.582427 432.480698 L 995.576744 432.181637 L 996.571061 431.475484 L 997.565378 430.246863 L 998.559695 428.4233 L 999.554012 425.979555 L 1000.548329 422.936356 L 1001.542646 419.351765 L 1003.53128 410.869088 L 1005.519914 401.048045 L 1008.502865 384.612858 L 1010.491499 373.639071 L 1012.480133 364.093661 L 1013.47445 360.29709 L 1014.468767 357.387542 L 1015.463085 355.511375 L 1016.457402 354.751461 L 1017.451719 355.095867 L 1018.446036 356.416511 L 1019.440353 358.457115 L 1021.428987 363.011362 L 1022.423304 364.403744 L 1023.417621 364.404961 L 1024.411938 362.565357 L 1025.406255 358.743486 L 1026.400572 353.203615 L 1029.383523 333.51751 L 1030.37784 328.504922 L 1031.372157 325.014534 L 1032.366474 323.088619 L 1033.360791 322.612522 L 1034.355108 323.40231 L 1035.349425 325.234797 L 1036.343742 327.840301 L 1038.332376 334.171699 L 1040.321011 340.912869 L 1041.315328 344.812194 L 1042.309645 349.65214 L 1043.303962 355.885028 L 1044.298279 363.7596 L 1045.292596 373.211519 L 1050.264181 425.404577 L 1051.258498 432.736512 L 1052.252815 438.384061 L 1053.247132 442.484933 L 1054.241449 445.305356 L 1055.235766 447.158185 L 1056.230083 448.335118 L 1057.2244 449.067979 L 1058.218717 449.519439 L 1059.213034 449.792979 L 1061.201668 450.023522 L 1063.190302 449.989272 L 1066.173254 449.652345 L 1069.156205 449.32866 L 1072.139156 449.278224 L 1079.099375 449.505562 L 1083.076643 449.357199 L 1085.065277 449.471107 L 1088.048228 449.927622 L 1089.042545 450.129083 L 1089.042545 450.129083 " clip-path="url(#p5d82b2bbf1)" style="fill: none; stroke: #87ceeb; stroke-width: 1.56; stroke-linecap: square"/>
</g>
<g id="patch_325">
<path d="M 881.28 451.152 L 881.28 265.608 " style="fill: none; stroke: #000000; stroke-width: 0.832; stroke-linejoin: miter; stroke-linecap: square"/>
</g>
<g id="patch_326">
<path d="M 1098.936 451.152 L 1098.936 265.608 " style="fill: none; stroke: #000000; stroke-width: 0.832; stroke-linejoin: miter; stroke-linecap: square"/>
</g>
<g id="patch_327">
<path d="M 881.28 451.152 L 1098.936 451.152 " style="fill: none; stroke: #000000; stroke-width: 0.832; stroke-linejoin: miter; stroke-linecap: square"/>
</g>
<g id="patch_328">
<path d="M 881.28 265.608 L 1098.936 265.608 " style="fill: none; stroke: #000000; stroke-width: 0.832; stroke-linejoin: miter; stroke-linecap: square"/>
</g>
<g id="text_112">
<text style="font-size: 12.48px; font-family: 'DejaVu Sans', 'Liberation Sans', sans-serif; text-anchor: middle" x="990.108" y="259.044" transform="rotate(-0 990.108 259.044)">Distribution of MCV</text>
</g>
</g>
<g id="axes_9">
<g id="patch_329">
<path d="M 49.608 698.112 L 267.264 698.112 L 267.264 511.992 L 49.608 511.992 z
" style="fill: #ffffff"/>
</g>
<g id="patch_330">
<path d="M 59.501455 698.112 L 61.207223 698.112 L 61.207223 697.758898 L 59.501455 697.758898 z
" clip-path="url(#p1296469ff0)" style="fill: #87ceeb; fill-opacity: 0.5; stroke: #000000; stroke-width: 0.170577; stroke-linejoin: miter"/>
</g>
<g id="patch_331">
<path d="M 61.207223 698.112 L 62.912991 698.112 L 62.912991 698.112 L 61.207223 698.112 z
" clip-path="url(#p1296469ff0)" style="fill: #87ceeb; fill-opacity: 0.5; stroke: #000000; stroke-width: 0.170577; stroke-linejoin: miter"/>
</g>
<g id="patch_332">
<path d="M 62.912991 698.112 L 64.618759 698.112 L 64.618759 698.112 L 62.912991 698.112 z
" clip-path="url(#p1296469ff0)" style="fill: #87ceeb; fill-opacity: 0.5; stroke: #000000; stroke-width: 0.170577; stroke-linejoin: miter"/>
</g>
<g id="patch_333">
<path d="M 64.618759 698.112 L 66.324527 698.112 L 66.324527 698.112 L 64.618759 698.112 z
" clip-path="url(#p1296469ff0)" style="fill: #87ceeb; fill-opacity: 0.5; stroke: #000000; stroke-width: 0.170577; stroke-linejoin: miter"/>
</g>
<g id="patch_334">
<path d="M 66.324527 698.112 L 68.030295 698.112 L 68.030295 693.639376 L 66.324527 693.639376 z
" clip-path="url(#p1296469ff0)" style="fill: #87ceeb; fill-opacity: 0.5; stroke: #000000; stroke-width: 0.170577; stroke-linejoin: miter"/>
</g>
<g id="patch_335">
<path d="M 68.030295 698.112 L 69.736063 698.112 L 69.736063 698.112 L 68.030295 698.112 z
" clip-path="url(#p1296469ff0)" style="fill: #87ceeb; fill-opacity: 0.5; stroke: #000000; stroke-width: 0.170577; stroke-linejoin: miter"/>
</g>
<g id="patch_336">
<path d="M 69.736063 698.112 L 71.441831 698.112 L 71.441831 698.112 L 69.736063 698.112 z
" clip-path="url(#p1296469ff0)" style="fill: #87ceeb; fill-opacity: 0.5; stroke: #000000; stroke-width: 0.170577; stroke-linejoin: miter"/>
</g>
<g id="patch_337">
<path d="M 71.441831 698.112 L 73.147599 698.112 L 73.147599 698.112 L 71.441831 698.112 z
" clip-path="url(#p1296469ff0)" style="fill: #87ceeb; fill-opacity: 0.5; stroke: #000000; stroke-width: 0.170577; stroke-linejoin: miter"/>
</g>
<g id="patch_338">
<path d="M 73.147599 698.112 L 74.853367 698.112 L 74.853367 694.34558 L 73.147599 694.34558 z
" clip-path="url(#p1296469ff0)" style="fill: #87ceeb; fill-opacity: 0.5; stroke: #000000; stroke-width: 0.170577; stroke-linejoin: miter"/>
</g>
<g id="patch_339">
<path d="M 74.853367 698.112 L 76.559135 698.112 L 76.559135 698.112 L 74.853367 698.112 z
" clip-path="url(#p1296469ff0)" style="fill: #87ceeb; fill-opacity: 0.5; stroke: #000000; stroke-width: 0.170577; stroke-linejoin: miter"/>
</g>
<g id="patch_340">
<path d="M 76.559135 698.112 L 78.264903 698.112 L 78.264903 698.112 L 76.559135 698.112 z
" clip-path="url(#p1296469ff0)" style="fill: #87ceeb; fill-opacity: 0.5; stroke: #000000; stroke-width: 0.170577; stroke-linejoin: miter"/>
</g>
<g id="patch_341">
<path d="M 78.264903 698.112 L 79.970671 698.112 L 79.970671 698.112 L 78.264903 698.112 z
" clip-path="url(#p1296469ff0)" style="fill: #87ceeb; fill-opacity: 0.5; stroke: #000000; stroke-width: 0.170577; stroke-linejoin: miter"/>
</g>
<g id="patch_342">
<path d="M 79.970671 698.112 L 81.676439 698.112 L 81.676439 693.639376 L 79.970671 693.639376 z
" clip-path="url(#p1296469ff0)" style="fill: #87ceeb; fill-opacity: 0.5; stroke: #000000; stroke-width: 0.170577; stroke-linejoin: miter"/>
</g>
<g id="patch_343">
<path d="M 81.676439 698.112 L 83.382207 698.112 L 83.382207 698.112 L 81.676439 698.112 z
" clip-path="url(#p1296469ff0)" style="fill: #87ceeb; fill-opacity: 0.5; stroke: #000000; stroke-width: 0.170577; stroke-linejoin: miter"/>
</g>
<g id="patch_344">
<path d="M 83.382207 698.112 L 85.087975 698.112 L 85.087975 698.112 L 83.382207 698.112 z
" clip-path="url(#p1296469ff0)" style="fill: #87ceeb; fill-opacity: 0.5; stroke: #000000; stroke-width: 0.170577; stroke-linejoin: miter"/>
</g>
<g id="patch_345">
<path d="M 85.087975 698.112 L 86.793743 698.112 L 86.793743 698.112 L 85.087975 698.112 z
" clip-path="url(#p1296469ff0)" style="fill: #87ceeb; fill-opacity: 0.5; stroke: #000000; stroke-width: 0.170577; stroke-linejoin: miter"/>
</g>
<g id="patch_346">
<path d="M 86.793743 698.112 L 88.499511 698.112 L 88.499511 698.112 L 86.793743 698.112 z
" clip-path="url(#p1296469ff0)" style="fill: #87ceeb; fill-opacity: 0.5; stroke: #000000; stroke-width: 0.170577; stroke-linejoin: miter"/>
</g>
<g id="patch_347">
<path d="M 88.499511 698.112 L 90.205279 698.112 L 90.205279 693.639376 L 88.499511 693.639376 z
" clip-path="url(#p1296469ff0)" style="fill: #87ceeb; fill-opacity: 0.5; stroke: #000000; stroke-width: 0.170577; stroke-linejoin: miter"/>
</g>
<g id="patch_348">
<path d="M 90.205279 698.112 L 91.911047 698.112 L 91.911047 698.112 L 90.205279 698.112 z
" clip-path="url(#p1296469ff0)" style="fill: #87ceeb; fill-opacity: 0.5; stroke: #000000; stroke-width: 0.170577; stroke-linejoin: miter"/>
</g>
<g id="patch_349">
<path d="M 91.911047 698.112 L 93.616815 698.112 L 93.616815 698.112 L 91.911047 698.112 z
" clip-path="url(#p1296469ff0)" style="fill: #87ceeb; fill-opacity: 0.5; stroke: #000000; stroke-width: 0.170577; stroke-linejoin: miter"/>
</g>
<g id="patch_350">
<path d="M 93.616815 698.112 L 95.322583 698.112 L 95.322583 698.112 L 93.616815 698.112 z
" clip-path="url(#p1296469ff0)" style="fill: #87ceeb; fill-opacity: 0.5; stroke: #000000; stroke-width: 0.170577; stroke-linejoin: miter"/>
</g>
<g id="patch_351">
<path d="M 95.322583 698.112 L 97.028351 698.112 L 97.028351 694.34558 L 95.322583 694.34558 z
" clip-path="url(#p1296469ff0)" style="fill: #87ceeb; fill-opacity: 0.5; stroke: #000000; stroke-width: 0.170577; stroke-linejoin: miter"/>
</g>
<g id="patch_352">
<path d="M 97.028351 698.112 L 98.734119 698.112 L 98.734119 698.112 L 97.028351 698.112 z
" clip-path="url(#p1296469ff0)" style="fill: #87ceeb; fill-opacity: 0.5; stroke: #000000; stroke-width: 0.170577; stroke-linejoin: miter"/>
</g>
<g id="patch_353">
<path d="M 98.734119 698.112 L 100.439887 698.112 L 100.439887 698.112 L 98.734119 698.112 z
" clip-path="url(#p1296469ff0)" style="fill: #87ceeb; fill-opacity: 0.5; stroke: #000000; stroke-width: 0.170577; stroke-linejoin: miter"/>
</g>
<g id="patch_354">
<path d="M 100.439887 698.112 L 102.145655 698.112 L 102.145655 698.112 L 100.439887 698.112 z
" clip-path="url(#p1296469ff0)" style="fill: #87ceeb; fill-opacity: 0.5; stroke: #000000; stroke-width: 0.170577; stroke-linejoin: miter"/>
</g>
<g id="patch_355">
<path d="M 102.145655 698.112 L 103.851423 698.112 L 103.851423 692.815472 L 102.145655 692.815472 z
" clip-path="url(#p1296469ff0)" style="fill: #87ceeb; fill-opacity: 0.5; stroke: #000000; stroke-width: 0.170577; stroke-linejoin: miter"/>
</g>
<g id="patch_356">
<path d="M 103.851423 698.112 L 105.557191 698.112 L 105.557191 698.112 L 103.851423 698.112 z
" clip-path="url(#p1296469ff0)" style="fill: #87ceeb; fill-opacity: 0.5; stroke: #000000; stroke-width: 0.170577; stroke-linejoin: miter"/>
</g>
<g id="patch_357">
<path d="M 105.557191 698.112 L 107.262959 698.112 L 107.262959 698.112 L 105.557191 698.112 z
" clip-path="url(#p1296469ff0)" style="fill: #87ceeb; fill-opacity: 0.5; stroke: #000000; stroke-width: 0.170577; stroke-linejoin: miter"/>
</g>
<g id="patch_358">
<path d="M 107.262959 698.112 L 108.968727 698.112 L 108.968727 698.112 L 107.262959 698.112 z
" clip-path="url(#p1296469ff0)" style="fill: #87ceeb; fill-opacity: 0.5; stroke: #000000; stroke-width: 0.170577; stroke-linejoin: miter"/>
</g>
<g id="patch_359">
<path d="M 108.968727 698.112 L 110.674495 698.112 L 110.674495 698.112 L 108.968727 698.112 z
" clip-path="url(#p1296469ff0)" style="fill: #87ceeb; fill-opacity: 0.5; stroke: #000000; stroke-width: 0.170577; stroke-linejoin: miter"/>
</g>
<g id="patch_360">
<path d="M 110.674495 698.112 L 112.380263 698.112 L 112.380263 686.930441 L 110.674495 686.930441 z
" clip-path="url(#p1296469ff0)" style="fill: #87ceeb; fill-opacity: 0.5; stroke: #000000; stroke-width: 0.170577; stroke-linejoin: miter"/>
</g>
<g id="patch_361">
<path d="M 112.380263 698.112 L 114.086031 698.112 L 114.086031 698.112 L 112.380263 698.112 z
" clip-path="url(#p1296469ff0)" style="fill: #87ceeb; fill-opacity: 0.5; stroke: #000000; stroke-width: 0.170577; stroke-linejoin: miter"/>
</g>
<g id="patch_362">
<path d="M 114.086031 698.112 L 115.791799 698.112 L 115.791799 698.112 L 114.086031 698.112 z
" clip-path="url(#p1296469ff0)" style="fill: #87ceeb; fill-opacity: 0.5; stroke: #000000; stroke-width: 0.170577; stroke-linejoin: miter"/>
</g>
<g id="patch_363">
<path d="M 115.791799 698.112 L 117.497567 698.112 L 117.497567 698.112 L 115.791799 698.112 z
" clip-path="url(#p1296469ff0)" style="fill: #87ceeb; fill-opacity: 0.5; stroke: #000000; stroke-width: 0.170577; stroke-linejoin: miter"/>
</g>
<g id="patch_364">
<path d="M 117.497567 698.112 L 119.203335 698.112 L 119.203335 686.930441 L 117.497567 686.930441 z
" clip-path="url(#p1296469ff0)" style="fill: #87ceeb; fill-opacity: 0.5; stroke: #000000; stroke-width: 0.170577; stroke-linejoin: miter"/>
</g>
<g id="patch_365">
<path d="M 119.203335 698.112 L 120.909103 698.112 L 120.909103 698.112 L 119.203335 698.112 z
" clip-path="url(#p1296469ff0)" style="fill: #87ceeb; fill-opacity: 0.5; stroke: #000000; stroke-width: 0.170577; stroke-linejoin: miter"/>
</g>
<g id="patch_366">
<path d="M 120.909103 698.112 L 122.614871 698.112 L 122.614871 698.112 L 120.909103 698.112 z
" clip-path="url(#p1296469ff0)" style="fill: #87ceeb; fill-opacity: 0.5; stroke: #000000; stroke-width: 0.170577; stroke-linejoin: miter"/>
</g>
<g id="patch_367">
<path d="M 122.614871 698.112 L 124.320639 698.112 L 124.320639 698.112 L 122.614871 698.112 z
" clip-path="url(#p1296469ff0)" style="fill: #87ceeb; fill-opacity: 0.5; stroke: #000000; stroke-width: 0.170577; stroke-linejoin: miter"/>
</g>
<g id="patch_368">
<path d="M 124.320639 698.112 L 126.026408 698.112 L 126.026408 682.340116 L 124.320639 682.340116 z
" clip-path="url(#p1296469ff0)" style="fill: #87ceeb; fill-opacity: 0.5; stroke: #000000; stroke-width: 0.170577; stroke-linejoin: miter"/>
</g>
<g id="patch_369">
<path d="M 126.026408 698.112 L 127.732176 698.112 L 127.732176 698.112 L 126.026408 698.112 z
" clip-path="url(#p1296469ff0)" style="fill: #87ceeb; fill-opacity: 0.5; stroke: #000000; stroke-width: 0.170577; stroke-linejoin: miter"/>
</g>
<g id="patch_370">
<path d="M 127.732176 698.112 L 129.437944 698.112 L 129.437944 698.112 L 127.732176 698.112 z
" clip-path="url(#p1296469ff0)" style="fill: #87ceeb; fill-opacity: 0.5; stroke: #000000; stroke-width: 0.170577; stroke-linejoin: miter"/>
</g>
<g id="patch_371">
<path d="M 129.437944 698.112 L 131.143712 698.112 L 131.143712 698.112 L 129.437944 698.112 z
" clip-path="url(#p1296469ff0)" style="fill: #87ceeb; fill-opacity: 0.5; stroke: #000000; stroke-width: 0.170577; stroke-linejoin: miter"/>
</g>
<g id="patch_372">
<path d="M 131.143712 698.112 L 132.84948 698.112 L 132.84948 662.095608 L 131.143712 662.095608 z
" clip-path="url(#p1296469ff0)" style="fill: #87ceeb; fill-opacity: 0.5; stroke: #000000; stroke-width: 0.170577; stroke-linejoin: miter"/>
</g>
<g id="patch_373">
<path d="M 132.84948 698.112 L 134.555248 698.112 L 134.555248 698.112 L 132.84948 698.112 z
" clip-path="url(#p1296469ff0)" style="fill: #87ceeb; fill-opacity: 0.5; stroke: #000000; stroke-width: 0.170577; stroke-linejoin: miter"/>
</g>
<g id="patch_374">
<path d="M 134.555248 698.112 L 136.261016 698.112 L 136.261016 698.112 L 134.555248 698.112 z
" clip-path="url(#p1296469ff0)" style="fill: #87ceeb; fill-opacity: 0.5; stroke: #000000; stroke-width: 0.170577; stroke-linejoin: miter"/>
</g>
<g id="patch_375">
<path d="M 136.261016 698.112 L 137.966784 698.112 L 137.966784 698.112 L 136.261016 698.112 z
" clip-path="url(#p1296469ff0)" style="fill: #87ceeb; fill-opacity: 0.5; stroke: #000000; stroke-width: 0.170577; stroke-linejoin: miter"/>
</g>
<g id="patch_376">
<path d="M 137.966784 698.112 L 139.672552 698.112 L 139.672552 698.112 L 137.966784 698.112 z
" clip-path="url(#p1296469ff0)" style="fill: #87ceeb; fill-opacity: 0.5; stroke: #000000; stroke-width: 0.170577; stroke-linejoin: miter"/>
</g>
<g id="patch_377">
<path d="M 139.672552 698.112 L 141.37832 698.112 L 141.37832 548.749906 L 139.672552 548.749906 z
" clip-path="url(#p1296469ff0)" style="fill: #87ceeb; fill-opacity: 0.5; stroke: #000000; stroke-width: 0.170577; stroke-linejoin: miter"/>
</g>
<g id="patch_378">
<path d="M 141.37832 698.112 L 143.084088 698.112 L 143.084088 698.112 L 141.37832 698.112 z
" clip-path="url(#p1296469ff0)" style="fill: #87ceeb; fill-opacity: 0.5; stroke: #000000; stroke-width: 0.170577; stroke-linejoin: miter"/>
</g>
<g id="patch_379">
<path d="M 143.084088 698.112 L 144.789856 698.112 L 144.789856 698.112 L 143.084088 698.112 z
" clip-path="url(#p1296469ff0)" style="fill: #87ceeb; fill-opacity: 0.5; stroke: #000000; stroke-width: 0.170577; stroke-linejoin: miter"/>
</g>
<g id="patch_380">
<path d="M 144.789856 698.112 L 146.495624 698.112 L 146.495624 698.112 L 144.789856 698.112 z
" clip-path="url(#p1296469ff0)" style="fill: #87ceeb; fill-opacity: 0.5; stroke: #000000; stroke-width: 0.170577; stroke-linejoin: miter"/>
</g>
<g id="patch_381">
<path d="M 146.495624 698.112 L 148.201392 698.112 L 148.201392 520.854857 L 146.495624 520.854857 z
" clip-path="url(#p1296469ff0)" style="fill: #87ceeb; fill-opacity: 0.5; stroke: #000000; stroke-width: 0.170577; stroke-linejoin: miter"/>
</g>
<g id="patch_382">
<path d="M 148.201392 698.112 L 149.90716 698.112 L 149.90716 698.112 L 148.201392 698.112 z
" clip-path="url(#p1296469ff0)" style="fill: #87ceeb; fill-opacity: 0.5; stroke: #000000; stroke-width: 0.170577; stroke-linejoin: miter"/>
</g>
<g id="patch_383">
<path d="M 149.90716 698.112 L 151.612928 698.112 L 151.612928 698.112 L 149.90716 698.112 z
" clip-path="url(#p1296469ff0)" style="fill: #87ceeb; fill-opacity: 0.5; stroke: #000000; stroke-width: 0.170577; stroke-linejoin: miter"/>
</g>
<g id="patch_384">
<path d="M 151.612928 698.112 L 153.318696 698.112 L 153.318696 698.112 L 151.612928 698.112 z
" clip-path="url(#p1296469ff0)" style="fill: #87ceeb; fill-opacity: 0.5; stroke: #000000; stroke-width: 0.170577; stroke-linejoin: miter"/>
</g>
<g id="patch_385">
<path d="M 153.318696 698.112 L 155.024464 698.112 L 155.024464 549.338409 L 153.318696 549.338409 z
" clip-path="url(#p1296469ff0)" style="fill: #87ceeb; fill-opacity: 0.5; stroke: #000000; stroke-width: 0.170577; stroke-linejoin: miter"/>
</g>
<g id="patch_386">
<path d="M 155.024464 698.112 L 156.730232 698.112 L 156.730232 698.112 L 155.024464 698.112 z
" clip-path="url(#p1296469ff0)" style="fill: #87ceeb; fill-opacity: 0.5; stroke: #000000; stroke-width: 0.170577; stroke-linejoin: miter"/>
</g>
<g id="patch_387">
<path d="M 156.730232 698.112 L 158.436 698.112 L 158.436 698.112 L 156.730232 698.112 z
" clip-path="url(#p1296469ff0)" style="fill: #87ceeb; fill-opacity: 0.5; stroke: #000000; stroke-width: 0.170577; stroke-linejoin: miter"/>
</g>
<g id="patch_388">
<path d="M 158.436 698.112 L 160.141768 698.112 L 160.141768 698.112 L 158.436 698.112 z
" clip-path="url(#p1296469ff0)" style="fill: #87ceeb; fill-opacity: 0.5; stroke: #000000; stroke-width: 0.170577; stroke-linejoin: miter"/>
</g>
<g id="patch_389">
<path d="M 160.141768 698.112 L 161.847536 698.112 L 161.847536 698.112 L 160.141768 698.112 z
" clip-path="url(#p1296469ff0)" style="fill: #87ceeb; fill-opacity: 0.5; stroke: #000000; stroke-width: 0.170577; stroke-linejoin: miter"/>
</g>
<g id="patch_390">
<path d="M 161.847536 698.112 L 163.553304 698.112 L 163.553304 686.341937 L 161.847536 686.341937 z
" clip-path="url(#p1296469ff0)" style="fill: #87ceeb; fill-opacity: 0.5; stroke: #000000; stroke-width: 0.170577; stroke-linejoin: miter"/>
</g>
<g id="patch_391">
<path d="M 163.553304 698.112 L 165.259072 698.112 L 165.259072 698.112 L 163.553304 698.112 z
" clip-path="url(#p1296469ff0)" style="fill: #87ceeb; fill-opacity: 0.5; stroke: #000000; stroke-width: 0.170577; stroke-linejoin: miter"/>
</g>
<g id="patch_392">
<path d="M 165.259072 698.112 L 166.96484 698.112 L 166.96484 698.112 L 165.259072 698.112 z
" clip-path="url(#p1296469ff0)" style="fill: #87ceeb; fill-opacity: 0.5; stroke: #000000; stroke-width: 0.170577; stroke-linejoin: miter"/>
</g>
<g id="patch_393">
<path d="M 166.96484 698.112 L 168.670608 698.112 L 168.670608 698.112 L 166.96484 698.112 z
" clip-path="url(#p1296469ff0)" style="fill: #87ceeb; fill-opacity: 0.5; stroke: #000000; stroke-width: 0.170577; stroke-linejoin: miter"/>
</g>
<g id="patch_394">
<path d="M 168.670608 698.112 L 170.376376 698.112 L 170.376376 694.463281 L 168.670608 694.463281 z
" clip-path="url(#p1296469ff0)" style="fill: #87ceeb; fill-opacity: 0.5; stroke: #000000; stroke-width: 0.170577; stroke-linejoin: miter"/>
</g>
<g id="patch_395">
<path d="M 170.376376 698.112 L 172.082144 698.112 L 172.082144 698.112 L 170.376376 698.112 z
" clip-path="url(#p1296469ff0)" style="fill: #87ceeb; fill-opacity: 0.5; stroke: #000000; stroke-width: 0.170577; stroke-linejoin: miter"/>
</g>
<g id="patch_396">
<path d="M 172.082144 698.112 L 173.787912 698.112 L 173.787912 698.112 L 172.082144 698.112 z
" clip-path="url(#p1296469ff0)" style="fill: #87ceeb; fill-opacity: 0.5; stroke: #000000; stroke-width: 0.170577; stroke-linejoin: miter"/>
</g>
<g id="patch_397">
<path d="M 173.787912 698.112 L 175.49368 698.112 L 175.49368 698.112 L 173.787912 698.112 z
" clip-path="url(#p1296469ff0)" style="fill: #87ceeb; fill-opacity: 0.5; stroke: #000000; stroke-width: 0.170577; stroke-linejoin: miter"/>
</g>
<g id="patch_398">
<path d="M 175.49368 698.112 L 177.199448 698.112 L 177.199448 697.405796 L 175.49368 697.405796 z
" clip-path="url(#p1296469ff0)" style="fill: #87ceeb; fill-opacity: 0.5; stroke: #000000; stroke-width: 0.170577; stroke-linejoin: miter"/>
</g>
<g id="patch_399">
<path d="M 177.199448 698.112 L 178.905216 698.112 L 178.905216 698.112 L 177.199448 698.112 z
" clip-path="url(#p1296469ff0)" style="fill: #87ceeb; fill-opacity: 0.5; stroke: #000000; stroke-width: 0.170577; stroke-linejoin: miter"/>
</g>
<g id="patch_400">
<path d="M 178.905216 698.112 L 180.610984 698.112 L 180.610984 698.112 L 178.905216 698.112 z
" clip-path="url(#p1296469ff0)" style="fill: #87ceeb; fill-opacity: 0.5; stroke: #000000; stroke-width: 0.170577; stroke-linejoin: miter"/>
</g>
<g id="patch_401">
<path d="M 180.610984 698.112 L 182.316752 698.112 L 182.316752 698.112 L 180.610984 698.112 z
" clip-path="url(#p1296469ff0)" style="fill: #87ceeb; fill-opacity: 0.5; stroke: #000000; stroke-width: 0.170577; stroke-linejoin: miter"/>
</g>
<g id="patch_402">
<path d="M 182.316752 698.112 L 184.02252 698.112 L 184.02252 698.112 L 182.316752 698.112 z
" clip-path="url(#p1296469ff0)" style="fill: #87ceeb; fill-opacity: 0.5; stroke: #000000; stroke-width: 0.170577; stroke-linejoin: miter"/>
</g>
<g id="patch_403">
<path d="M 184.02252 698.112 L 185.728288 698.112 L 185.728288 697.288096 L 184.02252 697.288096 z
" clip-path="url(#p1296469ff0)" style="fill: #87ceeb; fill-opacity: 0.5; stroke: #000000; stroke-width: 0.170577; stroke-linejoin: miter"/>
</g>
<g id="patch_404">
<path d="M 185.728288 698.112 L 187.434056 698.112 L 187.434056 698.112 L 185.728288 698.112 z
" clip-path="url(#p1296469ff0)" style="fill: #87ceeb; fill-opacity: 0.5; stroke: #000000; stroke-width: 0.170577; stroke-linejoin: miter"/>
</g>
<g id="patch_405">
<path d="M 187.434056 698.112 L 189.139824 698.112 L 189.139824 698.112 L 187.434056 698.112 z
" clip-path="url(#p1296469ff0)" style="fill: #87ceeb; fill-opacity: 0.5; stroke: #000000; stroke-width: 0.170577; stroke-linejoin: miter"/>
</g>
<g id="patch_406">
<path d="M 189.139824 698.112 L 190.845592 698.112 L 190.845592 698.112 L 189.139824 698.112 z
" clip-path="url(#p1296469ff0)" style="fill: #87ceeb; fill-opacity: 0.5; stroke: #000000; stroke-width: 0.170577; stroke-linejoin: miter"/>
</g>
<g id="patch_407">
<path d="M 190.845592 698.112 L 192.551361 698.112 L 192.551361 697.876599 L 190.845592 697.876599 z
" clip-path="url(#p1296469ff0)" style="fill: #87ceeb; fill-opacity: 0.5; stroke: #000000; stroke-width: 0.170577; stroke-linejoin: miter"/>
</g>
<g id="patch_408">
<path d="M 192.551361 698.112 L 194.257129 698.112 L 194.257129 698.112 L 192.551361 698.112 z
" clip-path="url(#p1296469ff0)" style="fill: #87ceeb; fill-opacity: 0.5; stroke: #000000; stroke-width: 0.170577; stroke-linejoin: miter"/>
</g>
<g id="patch_409">
<path d="M 194.257129 698.112 L 195.962897 698.112 L 195.962897 698.112 L 194.257129 698.112 z
" clip-path="url(#p1296469ff0)" style="fill: #87ceeb; fill-opacity: 0.5; stroke: #000000; stroke-width: 0.170577; stroke-linejoin: miter"/>
</g>
<g id="patch_410">
<path d="M 195.962897 698.112 L 197.668665 698.112 L 197.668665 698.112 L 195.962897 698.112 z
" clip-path="url(#p1296469ff0)" style="fill: #87ceeb; fill-opacity: 0.5; stroke: #000000; stroke-width: 0.170577; stroke-linejoin: miter"/>
</g>
<g id="patch_411">
<path d="M 197.668665 698.112 L 199.374433 698.112 L 199.374433 697.876599 L 197.668665 697.876599 z
" clip-path="url(#p1296469ff0)" style="fill: #87ceeb; fill-opacity: 0.5; stroke: #000000; stroke-width: 0.170577; stroke-linejoin: miter"/>
</g>
<g id="patch_412">
<path d="M 199.374433 698.112 L 201.080201 698.112 L 201.080201 698.112 L 199.374433 698.112 z
" clip-path="url(#p1296469ff0)" style="fill: #87ceeb; fill-opacity: 0.5; stroke: #000000; stroke-width: 0.170577; stroke-linejoin: miter"/>
</g>
<g id="patch_413">
<path d="M 201.080201 698.112 L 202.785969 698.112 L 202.785969 698.112 L 201.080201 698.112 z
" clip-path="url(#p1296469ff0)" style="fill: #87ceeb; fill-opacity: 0.5; stroke: #000000; stroke-width: 0.170577; stroke-linejoin: miter"/>
</g>
<g id="patch_414">
<path d="M 202.785969 698.112 L 204.491737 698.112 L 204.491737 698.112 L 202.785969 698.112 z
" clip-path="url(#p1296469ff0)" style="fill: #87ceeb; fill-opacity: 0.5; stroke: #000000; stroke-width: 0.170577; stroke-linejoin: miter"/>
</g>
<g id="patch_415">
<path d="M 204.491737 698.112 L 206.197505 698.112 L 206.197505 697.876599 L 204.491737 697.876599 z
" clip-path="url(#p1296469ff0)" style="fill: #87ceeb; fill-opacity: 0.5; stroke: #000000; stroke-width: 0.170577; stroke-linejoin: miter"/>
</g>
<g id="patch_416">
<path d="M 206.197505 698.112 L 207.903273 698.112 L 207.903273 698.112 L 206.197505 698.112 z
" clip-path="url(#p1296469ff0)" style="fill: #87ceeb; fill-opacity: 0.5; stroke: #000000; stroke-width: 0.170577; stroke-linejoin: miter"/>
</g>
<g id="patch_417">
<path d="M 207.903273 698.112 L 209.609041 698.112 L 209.609041 698.112 L 207.903273 698.112 z
" clip-path="url(#p1296469ff0)" style="fill: #87ceeb; fill-opacity: 0.5; stroke: #000000; stroke-width: 0.170577; stroke-linejoin: miter"/>
</g>
<g id="patch_418">
<path d="M 209.609041 698.112 L 211.314809 698.112 L 211.314809 698.112 L 209.609041 698.112 z
" clip-path="url(#p1296469ff0)" style="fill: #87ceeb; fill-opacity: 0.5; stroke: #000000; stroke-width: 0.170577; stroke-linejoin: miter"/>
</g>
<g id="patch_419">
<path d="M 211.314809 698.112 L 213.020577 698.112 L 213.020577 698.112 L 211.314809 698.112 z
" clip-path="url(#p1296469ff0)" style="fill: #87ceeb; fill-opacity: 0.5; stroke: #000000; stroke-width: 0.170577; stroke-linejoin: miter"/>
</g>
<g id="patch_420">
<path d="M 213.020577 698.112 L 214.726345 698.112 L 214.726345 697.994299 L 213.020577 697.994299 z
" clip-path="url(#p1296469ff0)" style="fill: #87ceeb; fill-opacity: 0.5; stroke: #000000; stroke-width: 0.170577; stroke-linejoin: miter"/>
</g>
<g id="patch_421">
<path d="M 214.726345 698.112 L 216.432113 698.112 L 216.432113 698.112 L 214.726345 698.112 z
" clip-path="url(#p1296469ff0)" style="fill: #87ceeb; fill-opacity: 0.5; stroke: #000000; stroke-width: 0.170577; stroke-linejoin: miter"/>
</g>
<g id="patch_422">
<path d="M 216.432113 698.112 L 218.137881 698.112 L 218.137881 698.112 L 216.432113 698.112 z
" clip-path="url(#p1296469ff0)" style="fill: #87ceeb; fill-opacity: 0.5; stroke: #000000; stroke-width: 0.170577; stroke-linejoin: miter"/>
</g>
<g id="patch_423">
<path d="M 218.137881 698.112 L 219.843649 698.112 L 219.843649 698.112 L 218.137881 698.112 z
" clip-path="url(#p1296469ff0)" style="fill: #87ceeb; fill-opacity: 0.5; stroke: #000000; stroke-width: 0.170577; stroke-linejoin: miter"/>
</g>
<g id="patch_424">
<path d="M 219.843649 698.112 L 221.549417 698.112 L 221.549417 697.994299 L 219.843649 697.994299 z
" clip-path="url(#p1296469ff0)" style="fill: #87ceeb; fill-opacity: 0.5; stroke: #000000; stroke-width: 0.170577; stroke-linejoin: miter"/>
</g>
<g id="patch_425">
<path d="M 221.549417 698.112 L 223.255185 698.112 L 223.255185 698.112 L 221.549417 698.112 z
" clip-path="url(#p1296469ff0)" style="fill: #87ceeb; fill-opacity: 0.5; stroke: #000000; stroke-width: 0.170577; stroke-linejoin: miter"/>
</g>
<g id="patch_426">
<path d="M 223.255185 698.112 L 224.960953 698.112 L 224.960953 698.112 L 223.255185 698.112 z
" clip-path="url(#p1296469ff0)" style="fill: #87ceeb; fill-opacity: 0.5; stroke: #000000; stroke-width: 0.170577; stroke-linejoin: miter"/>
</g>
<g id="patch_427">
<path d="M 224.960953 698.112 L 226.666721 698.112 L 226.666721 698.112 L 224.960953 698.112 z
" clip-path="url(#p1296469ff0)" style="fill: #87ceeb; fill-opacity: 0.5; stroke: #000000; stroke-width: 0.170577; stroke-linejoin: miter"/>
</g>
<g id="patch_428">
<path d="M 226.666721 698.112 L 228.372489 698.112 L 228.372489 697.876599 L 226.666721 697.876599 z
" clip-path="url(#p1296469ff0)" style="fill: #87ceeb; fill-opacity: 0.5; stroke: #000000; stroke-width: 0.170577; stroke-linejoin: miter"/>
</g>
<g id="patch_429">
<path d="M 228.372489 698.112 L 230.078257 698.112 L 230.078257 698.112 L 228.372489 698.112 z
" clip-path="url(#p1296469ff0)" style="fill: #87ceeb; fill-opacity: 0.5; stroke: #000000; stroke-width: 0.170577; stroke-linejoin: miter"/>
</g>
<g id="patch_430">
<path d="M 230.078257 698.112 L 231.784025 698.112 L 231.784025 698.112 L 230.078257 698.112 z
" clip-path="url(#p1296469ff0)" style="fill: #87ceeb; fill-opacity: 0.5; stroke: #000000; stroke-width: 0.170577; stroke-linejoin: miter"/>
</g>
<g id="patch_431">
<path d="M 231.784025 698.112 L 233.489793 698.112 L 233.489793 698.112 L 231.784025 698.112 z
" clip-path="url(#p1296469ff0)" style="fill: #87ceeb; fill-opacity: 0.5; stroke: #000000; stroke-width: 0.170577; stroke-linejoin: miter"/>
</g>
<g id="patch_432">
<path d="M 233.489793 698.112 L 235.195561 698.112 L 235.195561 698.112 L 233.489793 698.112 z
" clip-path="url(#p1296469ff0)" style="fill: #87ceeb; fill-opacity: 0.5; stroke: #000000; stroke-width: 0.170577; stroke-linejoin: miter"/>
</g>
<g id="patch_433">
<path d="M 235.195561 698.112 L 236.901329 698.112 L 236.901329 697.994299 L 235.195561 697.994299 z
" clip-path="url(#p1296469ff0)" style="fill: #87ceeb; fill-opacity: 0.5; stroke: #000000; stroke-width: 0.170577; stroke-linejoin: miter"/>
</g>
<g id="patch_434">
<path d="M 236.901329 698.112 L 238.607097 698.112 L 238.607097 698.112 L 236.901329 698.112 z
" clip-path="url(#p1296469ff0)" style="fill: #87ceeb; fill-opacity: 0.5; stroke: #000000; stroke-width: 0.170577; stroke-linejoin: miter"/>
</g>
<g id="patch_435">
<path d="M 238.607097 698.112 L 240.312865 698.112 L 240.312865 698.112 L 238.607097 698.112 z
" clip-path="url(#p1296469ff0)" style="fill: #87ceeb; fill-opacity: 0.5; stroke: #000000; stroke-width: 0.170577; stroke-linejoin: miter"/>
</g>
<g id="patch_436">
<path d="M 240.312865 698.112 L 242.018633 698.112 L 242.018633 698.112 L 240.312865 698.112 z
" clip-path="url(#p1296469ff0)" style="fill: #87ceeb; fill-opacity: 0.5; stroke: #000000; stroke-width: 0.170577; stroke-linejoin: miter"/>
</g>
<g id="patch_437">
<path d="M 242.018633 698.112 L 243.724401 698.112 L 243.724401 697.523497 L 242.018633 697.523497 z
" clip-path="url(#p1296469ff0)" style="fill: #87ceeb; fill-opacity: 0.5; stroke: #000000; stroke-width: 0.170577; stroke-linejoin: miter"/>
</g>
<g id="patch_438">
<path d="M 243.724401 698.112 L 245.430169 698.112 L 245.430169 698.112 L 243.724401 698.112 z
" clip-path="url(#p1296469ff0)" style="fill: #87ceeb; fill-opacity: 0.5; stroke: #000000; stroke-width: 0.170577; stroke-linejoin: miter"/>
</g>
<g id="patch_439">
<path d="M 245.430169 698.112 L 247.135937 698.112 L 247.135937 698.112 L 245.430169 698.112 z
" clip-path="url(#p1296469ff0)" style="fill: #87ceeb; fill-opacity: 0.5; stroke: #000000; stroke-width: 0.170577; stroke-linejoin: miter"/>
</g>
<g id="patch_440">
<path d="M 247.135937 698.112 L 248.841705 698.112 L 248.841705 698.112 L 247.135937 698.112 z
" clip-path="url(#p1296469ff0)" style="fill: #87ceeb; fill-opacity: 0.5; stroke: #000000; stroke-width: 0.170577; stroke-linejoin: miter"/>
</g>
<g id="patch_441">
<path d="M 248.841705 698.112 L 250.547473 698.112 L 250.547473 697.994299 L 248.841705 697.994299 z
" clip-path="url(#p1296469ff0)" style="fill: #87ceeb; fill-opacity: 0.5; stroke: #000000; stroke-width: 0.170577; stroke-linejoin: miter"/>
</g>
<g id="patch_442">
<path d="M 250.547473 698.112 L 252.253241 698.112 L 252.253241 698.112 L 250.547473 698.112 z
" clip-path="url(#p1296469ff0)" style="fill: #87ceeb; fill-opacity: 0.5; stroke: #000000; stroke-width: 0.170577; stroke-linejoin: miter"/>
</g>
<g id="patch_443">
<path d="M 252.253241 698.112 L 253.959009 698.112 L 253.959009 698.112 L 252.253241 698.112 z
" clip-path="url(#p1296469ff0)" style="fill: #87ceeb; fill-opacity: 0.5; stroke: #000000; stroke-width: 0.170577; stroke-linejoin: miter"/>
</g>
<g id="patch_444">
<path d="M 253.959009 698.112 L 255.664777 698.112 L 255.664777 698.112 L 253.959009 698.112 z
" clip-path="url(#p1296469ff0)" style="fill: #87ceeb; fill-opacity: 0.5; stroke: #000000; stroke-width: 0.170577; stroke-linejoin: miter"/>
</g>
<g id="patch_445">
<path d="M 255.664777 698.112 L 257.370545 698.112 L 257.370545 697.994299 L 255.664777 697.994299 z
" clip-path="url(#p1296469ff0)" style="fill: #87ceeb; fill-opacity: 0.5; stroke: #000000; stroke-width: 0.170577; stroke-linejoin: miter"/>
</g>
<g id="matplotlib.axis_17">
<g id="xtick_40">
<g id="line2d_97">
<g>
<use xlink:href="#m9755dbcb59" x="52.17297" y="698.112" style="stroke: #000000; stroke-width: 0.832"/>
</g>
</g>
<g id="text_113">
<text style="font-size: 10.4px; font-family: 'DejaVu Sans', 'Liberation Sans', sans-serif; text-anchor: middle" x="52.17297" y="713.222375" transform="rotate(-0 52.17297 713.222375)">20</text>
</g>
</g>
<g id="xtick_41">
<g id="line2d_98">
<g>
<use xlink:href="#m9755dbcb59" x="88.815394" y="698.112" style="stroke: #000000; stroke-width: 0.832"/>
</g>
</g>
<g id="text_114">
<text style="font-size: 10.4px; font-family: 'DejaVu Sans', 'Liberation Sans', sans-serif; text-anchor: middle" x="88.815394" y="713.222375" transform="rotate(-0 88.815394 713.222375)">25</text>
</g>
</g>
<g id="xtick_42">
<g id="line2d_99">
<g>
<use xlink:href="#m9755dbcb59" x="125.457818" y="698.112" style="stroke: #000000; stroke-width: 0.832"/>
</g>
</g>
<g id="text_115">
<text style="font-size: 10.4px; font-family: 'DejaVu Sans', 'Liberation Sans', sans-serif; text-anchor: middle" x="125.457818" y="713.222375" transform="rotate(-0 125.457818 713.222375)">30</text>
</g>
</g>
<g id="xtick_43">
<g id="line2d_100">
<g>
<use xlink:href="#m9755dbcb59" x="162.100242" y="698.112" style="stroke: #000000; stroke-width: 0.832"/>
</g>
</g>
<g id="text_116">
<text style="font-size: 10.4px; font-family: 'DejaVu Sans', 'Liberation Sans', sans-serif; text-anchor: middle" x="162.100242" y="713.222375" transform="rotate(-0 162.100242 713.222375)">35</text>
</g>
</g>
<g id="xtick_44">
<g id="line2d_101">
<g>
<use xlink:href="#m9755dbcb59" x="198.742667" y="698.112" style="stroke: #000000; stroke-width: 0.832"/>
</g>
</g>
<g id="text_117">
<text style="font-size: 10.4px; font-family: 'DejaVu Sans', 'Liberation Sans', sans-serif; text-anchor: middle" x="198.742667" y="713.222375" transform="rotate(-0 198.742667 713.222375)">40</text>
</g>
</g>
<g id="xtick_45">
<g id="line2d_102">
<g>
<use xlink:href="#m9755dbcb59" x="235.385091" y="698.112" style="stroke: #000000; stroke-width: 0.832"/>
</g>
</g>
<g id="text_118">
<text style="font-size: 10.4px; font-family: 'DejaVu Sans', 'Liberation Sans', sans-serif; text-anchor: middle" x="235.385091" y="713.222375" transform="rotate(-0 235.385091 713.222375)">45</text>
</g>
</g>
<g id="text_119">
<text style="font-size: 10.4px; font-family: 'DejaVu Sans', 'Liberation Sans', sans-serif; text-anchor: middle" x="158.436" y="728.167625" transform="rotate(-0 158.436 728.167625)">MCHC</text>
</g>
</g>
<g id="matplotlib.axis_18">
<g id="ytick_50">
<g id="line2d_103">
<g>
<use xlink:href="#m81118948c4" x="49.608" y="698.112" style="stroke: #000000; stroke-width: 0.832"/>
</g>
</g>
<g id="text_120">
<text style="font-size: 10.4px; font-family: 'DejaVu Sans', 'Liberation Sans', sans-serif; text-anchor: end" x="42.328" y="702.927188" transform="rotate(-0 42.328 702.927188)">0</text>
</g>
</g>
<g id="ytick_51">
<g id="line2d_104">
<g>
<use xlink:href="#m81118948c4" x="49.608" y="674.571875" style="stroke: #000000; stroke-width: 0.832"/>
</g>
</g>
<g id="text_121">
<text style="font-size: 10.4px; font-family: 'DejaVu Sans', 'Liberation Sans', sans-serif; text-anchor: end" x="42.328" y="679.387062" transform="rotate(-0 42.328 679.387062)">200</text>
</g>
</g>
<g id="ytick_52">
<g id="line2d_105">
<g>
<use xlink:href="#m81118948c4" x="49.608" y="651.03175" style="stroke: #000000; stroke-width: 0.832"/>
</g>
</g>
<g id="text_122">
<text style="font-size: 10.4px; font-family: 'DejaVu Sans', 'Liberation Sans', sans-serif; text-anchor: end" x="42.328" y="655.846937" transform="rotate(-0 42.328 655.846937)">400</text>
</g>
</g>
<g id="ytick_53">
<g id="line2d_106">
<g>
<use xlink:href="#m81118948c4" x="49.608" y="627.491624" style="stroke: #000000; stroke-width: 0.832"/>
</g>
</g>
<g id="text_123">
<text style="font-size: 10.4px; font-family: 'DejaVu Sans', 'Liberation Sans', sans-serif; text-anchor: end" x="42.328" y="632.306812" transform="rotate(-0 42.328 632.306812)">600</text>
</g>
</g>
<g id="ytick_54">
<g id="line2d_107">
<g>
<use xlink:href="#m81118948c4" x="49.608" y="603.951499" style="stroke: #000000; stroke-width: 0.832"/>
</g>
</g>
<g id="text_124">
<text style="font-size: 10.4px; font-family: 'DejaVu Sans', 'Liberation Sans', sans-serif; text-anchor: end" x="42.328" y="608.766687" transform="rotate(-0 42.328 608.766687)">800</text>
</g>
</g>
<g id="ytick_55">
<g id="line2d_108">
<g>
<use xlink:href="#m81118948c4" x="49.608" y="580.411374" style="stroke: #000000; stroke-width: 0.832"/>
</g>
</g>
<g id="text_125">
<text style="font-size: 10.4px; font-family: 'DejaVu Sans', 'Liberation Sans', sans-serif; text-anchor: end" x="42.328" y="585.226561" transform="rotate(-0 42.328 585.226561)">1000</text>
</g>
</g>
<g id="ytick_56">
<g id="line2d_109">
<g>
<use xlink:href="#m81118948c4" x="49.608" y="556.871249" style="stroke: #000000; stroke-width: 0.832"/>
</g>
</g>
<g id="text_126">
<text style="font-size: 10.4px; font-family: 'DejaVu Sans', 'Liberation Sans', sans-serif; text-anchor: end" x="42.328" y="561.686436" transform="rotate(-0 42.328 561.686436)">1200</text>
</g>
</g>
<g id="ytick_57">
<g id="line2d_110">
<g>
<use xlink:href="#m81118948c4" x="49.608" y="533.331124" style="stroke: #000000; stroke-width: 0.832"/>
</g>
</g>
<g id="text_127">
<text style="font-size: 10.4px; font-family: 'DejaVu Sans', 'Liberation Sans', sans-serif; text-anchor: end" x="42.328" y="538.146311" transform="rotate(-0 42.328 538.146311)">1400</text>
</g>
</g>
<g id="text_128">
<text style="font-size: 10.4px; font-family: 'DejaVu Sans', 'Liberation Sans', sans-serif; text-anchor: middle" x="9.537125" y="606.852" transform="rotate(-90 9.537125 606.852)">Count</text>
</g>
</g>
<g id="line2d_111">
<path d="M 59.501455 697.976716 L 62.484406 697.699268 L 66.461674 697.084124 L 68.450308 697.099528 L 71.433259 697.222842 L 76.404844 697.213834 L 78.393478 697.189637 L 82.370746 697.027269 L 85.353698 697.136579 L 90.325283 697.078751 L 93.308234 697.222532 L 101.26277 696.97802 L 104.245721 696.69523 L 106.234355 696.505544 L 108.222989 696.001551 L 110.211624 695.481139 L 111.205941 695.408038 L 115.183209 695.641497 L 118.16616 695.28413 L 121.149111 695.266728 L 122.143428 695.086119 L 128.10933 693.180545 L 129.103647 692.445721 L 130.097964 691.396171 L 133.080915 687.611641 L 134.075233 685.966611 L 135.06955 683.465224 L 136.063867 679.707642 L 139.046818 664.979293 L 140.041135 662.334747 L 141.035452 661.767726 L 142.029769 662.468575 L 143.024086 663.013016 L 144.018403 662.221337 L 145.01272 659.916728 L 146.007037 657.065146 L 147.001354 655.169946 L 147.995671 655.298414 L 148.989988 657.382698 L 149.984305 660.265425 L 150.978622 662.459459 L 151.972939 663.112485 L 153.961573 662.029677 L 154.95589 663.006572 L 155.950207 666.241099 L 156.944524 671.458684 L 158.933159 683.405959 L 159.927476 688.042589 L 160.921793 691.257744 L 161.91611 693.282467 L 162.910427 694.533114 L 163.904744 695.365863 L 164.899061 695.9777 L 165.893378 696.434967 L 166.887695 696.752126 L 168.876329 697.081522 L 176.830865 697.900303 L 181.80245 697.932333 L 186.774036 697.970092 L 193.734255 698.057704 L 237.484205 698.060403 L 246.433058 698.036296 L 255.381911 698.085073 L 257.370545 698.08436 L 257.370545 698.08436 " clip-path="url(#p1296469ff0)" style="fill: none; stroke: #87ceeb; stroke-width: 1.56; stroke-linecap: square"/>
</g>
<g id="patch_446">
<path d="M 49.608 698.112 L 49.608 511.992 " style="fill: none; stroke: #000000; stroke-width: 0.832; stroke-linejoin: miter; stroke-linecap: square"/>
</g>
<g id="patch_447">
<path d="M 267.264 698.112 L 267.264 511.992 " style="fill: none; stroke: #000000; stroke-width: 0.832; stroke-linejoin: miter; stroke-linecap: square"/>
</g>
<g id="patch_448">
<path d="M 49.608 698.112 L 267.264 698.112 " style="fill: none; stroke: #000000; stroke-width: 0.832; stroke-linejoin: miter; stroke-linecap: square"/>
</g>
<g id="patch_449">
<path d="M 49.608 511.992 L 267.264 511.992 " style="fill: none; stroke: #000000; stroke-width: 0.832; stroke-linejoin: miter; stroke-linecap: square"/>
</g>
<g id="text_129">
<text style="font-size: 12.48px; font-family: 'DejaVu Sans', 'Liberation Sans', sans-serif; text-anchor: middle" x="158.436" y="505.824" transform="rotate(-0 158.436 505.824)">Distribution of MCHC</text>
</g>
</g>
<g id="axes_10">
<g id="patch_450">
<path d="M 327.312 698.112 L 544.968 698.112 L 544.968 511.992 L 327.312 511.992 z
" style="fill: #ffffff"/>
</g>
<g id="patch_451">
<path d="M 337.205455 698.112 L 348.198182 698.112 L 348.198182 540.677779 L 337.205455 540.677779 z
" clip-path="url(#pa78d27e104)" style="fill: #87ceeb; fill-opacity: 0.5; stroke: #000000; stroke-width: 1.04; stroke-linejoin: miter"/>
</g>
<g id="patch_452">
<path d="M 348.198182 698.112 L 359.190909 698.112 L 359.190909 698.112 L 348.198182 698.112 z
" clip-path="url(#pa78d27e104)" style="fill: #87ceeb; fill-opacity: 0.5; stroke: #000000; stroke-width: 1.04; stroke-linejoin: miter"/>
</g>
<g id="patch_453">
<path d="M 359.190909 698.112 L 370.183636 698.112 L 370.183636 546.710842 L 359.190909 546.710842 z
" clip-path="url(#pa78d27e104)" style="fill: #87ceeb; fill-opacity: 0.5; stroke: #000000; stroke-width: 1.04; stroke-linejoin: miter"/>
</g>
<g id="patch_454">
<path d="M 370.183636 698.112 L 381.176364 698.112 L 381.176364 698.112 L 370.183636 698.112 z
" clip-path="url(#pa78d27e104)" style="fill: #87ceeb; fill-opacity: 0.5; stroke: #000000; stroke-width: 1.04; stroke-linejoin: miter"/>
</g>
<g id="patch_455">
<path d="M 381.176364 698.112 L 392.169091 698.112 L 392.169091 553.89306 L 381.176364 553.89306 z
" clip-path="url(#pa78d27e104)" style="fill: #87ceeb; fill-opacity: 0.5; stroke: #000000; stroke-width: 1.04; stroke-linejoin: miter"/>
</g>
<g id="patch_456">
<path d="M 392.169091 698.112 L 403.161818 698.112 L 403.161818 698.112 L 392.169091 698.112 z
" clip-path="url(#pa78d27e104)" style="fill: #87ceeb; fill-opacity: 0.5; stroke: #000000; stroke-width: 1.04; stroke-linejoin: miter"/>
</g>
<g id="patch_457">
<path d="M 403.161818 698.112 L 414.154545 698.112 L 414.154545 542.114223 L 403.161818 542.114223 z
" clip-path="url(#pa78d27e104)" style="fill: #87ceeb; fill-opacity: 0.5; stroke: #000000; stroke-width: 1.04; stroke-linejoin: miter"/>
</g>
<g id="patch_458">
<path d="M 414.154545 698.112 L 425.147273 698.112 L 425.147273 698.112 L 414.154545 698.112 z
" clip-path="url(#pa78d27e104)" style="fill: #87ceeb; fill-opacity: 0.5; stroke: #000000; stroke-width: 1.04; stroke-linejoin: miter"/>
</g>
<g id="patch_459">
<path d="M 425.147273 698.112 L 436.14 698.112 L 436.14 698.112 L 425.147273 698.112 z
" clip-path="url(#pa78d27e104)" style="fill: #87ceeb; fill-opacity: 0.5; stroke: #000000; stroke-width: 1.04; stroke-linejoin: miter"/>
</g>
<g id="patch_460">
<path d="M 436.14 698.112 L 447.132727 698.112 L 447.132727 528.611653 L 436.14 528.611653 z
" clip-path="url(#pa78d27e104)" style="fill: #87ceeb; fill-opacity: 0.5; stroke: #000000; stroke-width: 1.04; stroke-linejoin: miter"/>
</g>
<g id="patch_461">
<path d="M 447.132727 698.112 L 458.125455 698.112 L 458.125455 698.112 L 447.132727 698.112 z
" clip-path="url(#pa78d27e104)" style="fill: #87ceeb; fill-opacity: 0.5; stroke: #000000; stroke-width: 1.04; stroke-linejoin: miter"/>
</g>
<g id="patch_462">
<path d="M 458.125455 698.112 L 469.118182 698.112 L 469.118182 539.241335 L 458.125455 539.241335 z
" clip-path="url(#pa78d27e104)" style="fill: #87ceeb; fill-opacity: 0.5; stroke: #000000; stroke-width: 1.04; stroke-linejoin: miter"/>
</g>
<g id="patch_463">
<path d="M 469.118182 698.112 L 480.110909 698.112 L 480.110909 698.112 L 469.118182 698.112 z
" clip-path="url(#pa78d27e104)" style="fill: #87ceeb; fill-opacity: 0.5; stroke: #000000; stroke-width: 1.04; stroke-linejoin: miter"/>
</g>
<g id="patch_464">
<path d="M 480.110909 698.112 L 491.103636 698.112 L 491.103636 520.854857 L 480.110909 520.854857 z
" clip-path="url(#pa78d27e104)" style="fill: #87ceeb; fill-opacity: 0.5; stroke: #000000; stroke-width: 1.04; stroke-linejoin: miter"/>
</g>
<g id="patch_465">
<path d="M 491.103636 698.112 L 502.096364 698.112 L 502.096364 698.112 L 491.103636 698.112 z
" clip-path="url(#pa78d27e104)" style="fill: #87ceeb; fill-opacity: 0.5; stroke: #000000; stroke-width: 1.04; stroke-linejoin: miter"/>
</g>
<g id="patch_466">
<path d="M 502.096364 698.112 L 513.089091 698.112 L 513.089091 535.219293 L 502.096364 535.219293 z
" clip-path="url(#pa78d27e104)" style="fill: #87ceeb; fill-opacity: 0.5; stroke: #000000; stroke-width: 1.04; stroke-linejoin: miter"/>
</g>
<g id="patch_467">
<path d="M 513.089091 698.112 L 524.081818 698.112 L 524.081818 698.112 L 513.089091 698.112 z
" clip-path="url(#pa78d27e104)" style="fill: #87ceeb; fill-opacity: 0.5; stroke: #000000; stroke-width: 1.04; stroke-linejoin: miter"/>
</g>
<g id="patch_468">
<path d="M 524.081818 698.112 L 535.074545 698.112 L 535.074545 521.142146 L 524.081818 521.142146 z
" clip-path="url(#pa78d27e104)" style="fill: #87ceeb; fill-opacity: 0.5; stroke: #000000; stroke-width: 1.04; stroke-linejoin: miter"/>
</g>
<g id="matplotlib.axis_19">
<g id="xtick_46">
<g id="line2d_112">
<g>
<use xlink:href="#m9755dbcb59" x="361.939091" y="698.112" style="stroke: #000000; stroke-width: 0.832"/>
</g>
</g>
<g id="text_130">
<text style="font-size: 10.4px; font-family: 'DejaVu Sans', 'Liberation Sans', sans-serif; text-anchor: middle" x="361.939091" y="713.222375" transform="rotate(-0 361.939091 713.222375)">10</text>
</g>
</g>
<g id="xtick_47">
<g id="line2d_113">
<g>
<use xlink:href="#m9755dbcb59" x="411.406364" y="698.112" style="stroke: #000000; stroke-width: 0.832"/>
</g>
</g>
<g id="text_131">
<text style="font-size: 10.4px; font-family: 'DejaVu Sans', 'Liberation Sans', sans-serif; text-anchor: middle" x="411.406364" y="713.222375" transform="rotate(-0 411.406364 713.222375)">12</text>
</g>
</g>
<g id="xtick_48">
<g id="line2d_114">
<g>
<use xlink:href="#m9755dbcb59" x="460.873636" y="698.112" style="stroke: #000000; stroke-width: 0.832"/>
</g>
</g>
<g id="text_132">
<text style="font-size: 10.4px; font-family: 'DejaVu Sans', 'Liberation Sans', sans-serif; text-anchor: middle" x="460.873636" y="713.222375" transform="rotate(-0 460.873636 713.222375)">14</text>
</g>
</g>
<g id="xtick_49">
<g id="line2d_115">
<g>
<use xlink:href="#m9755dbcb59" x="510.340909" y="698.112" style="stroke: #000000; stroke-width: 0.832"/>
</g>
</g>
<g id="text_133">
<text style="font-size: 10.4px; font-family: 'DejaVu Sans', 'Liberation Sans', sans-serif; text-anchor: middle" x="510.340909" y="713.222375" transform="rotate(-0 510.340909 713.222375)">16</text>
</g>
</g>
<g id="text_134">
<text style="font-size: 10.4px; font-family: 'DejaVu Sans', 'Liberation Sans', sans-serif; text-anchor: middle" x="436.14" y="728.167625" transform="rotate(-0 436.14 728.167625)">RDW</text>
</g>
</g>
<g id="matplotlib.axis_20">
<g id="ytick_58">
<g id="line2d_116">
<g>
<use xlink:href="#m81118948c4" x="327.312" y="698.112" style="stroke: #000000; stroke-width: 0.832"/>
</g>
</g>
<g id="text_135">
<text style="font-size: 10.4px; font-family: 'DejaVu Sans', 'Liberation Sans', sans-serif; text-anchor: end" x="320.032" y="702.927188" transform="rotate(-0 320.032 702.927188)">0</text>
</g>
</g>
<g id="ytick_59">
<g id="line2d_117">
<g>
<use xlink:href="#m81118948c4" x="327.312" y="669.383128" style="stroke: #000000; stroke-width: 0.832"/>
</g>
</g>
<g id="text_136">
<text style="font-size: 10.4px; font-family: 'DejaVu Sans', 'Liberation Sans', sans-serif; text-anchor: end" x="320.032" y="674.198315" transform="rotate(-0 320.032 674.198315)">100</text>
</g>
</g>
<g id="ytick_60">
<g id="line2d_118">
<g>
<use xlink:href="#m81118948c4" x="327.312" y="640.654255" style="stroke: #000000; stroke-width: 0.832"/>
</g>
</g>
<g id="text_137">
<text style="font-size: 10.4px; font-family: 'DejaVu Sans', 'Liberation Sans', sans-serif; text-anchor: end" x="320.032" y="645.469443" transform="rotate(-0 320.032 645.469443)">200</text>
</g>
</g>
<g id="ytick_61">
<g id="line2d_119">
<g>
<use xlink:href="#m81118948c4" x="327.312" y="611.925383" style="stroke: #000000; stroke-width: 0.832"/>
</g>
</g>
<g id="text_138">
<text style="font-size: 10.4px; font-family: 'DejaVu Sans', 'Liberation Sans', sans-serif; text-anchor: end" x="320.032" y="616.74057" transform="rotate(-0 320.032 616.74057)">300</text>
</g>
</g>
<g id="ytick_62">
<g id="line2d_120">
<g>
<use xlink:href="#m81118948c4" x="327.312" y="583.19651" style="stroke: #000000; stroke-width: 0.832"/>
</g>
</g>
<g id="text_139">
<text style="font-size: 10.4px; font-family: 'DejaVu Sans', 'Liberation Sans', sans-serif; text-anchor: end" x="320.032" y="588.011698" transform="rotate(-0 320.032 588.011698)">400</text>
</g>
</g>
<g id="ytick_63">
<g id="line2d_121">
<g>
<use xlink:href="#m81118948c4" x="327.312" y="554.467638" style="stroke: #000000; stroke-width: 0.832"/>
</g>
</g>
<g id="text_140">
<text style="font-size: 10.4px; font-family: 'DejaVu Sans', 'Liberation Sans', sans-serif; text-anchor: end" x="320.032" y="559.282825" transform="rotate(-0 320.032 559.282825)">500</text>
</g>
</g>
<g id="ytick_64">
<g id="line2d_122">
<g>
<use xlink:href="#m81118948c4" x="327.312" y="525.738765" style="stroke: #000000; stroke-width: 0.832"/>
</g>
</g>
<g id="text_141">
<text style="font-size: 10.4px; font-family: 'DejaVu Sans', 'Liberation Sans', sans-serif; text-anchor: end" x="320.032" y="530.553953" transform="rotate(-0 320.032 530.553953)">600</text>
</g>
</g>
<g id="text_142">
<text style="font-size: 10.4px; font-family: 'DejaVu Sans', 'Liberation Sans', sans-serif; text-anchor: middle" x="293.858125" y="606.852" transform="rotate(-90 293.858125 606.852)">Count</text>
</g>
</g>
<g id="line2d_123">
<path d="M 337.205455 632.806084 L 338.199772 631.858813 L 339.194089 631.174043 L 340.188406 630.727877 L 341.182723 630.48993 L 342.17704 630.424755 L 344.165674 630.655889 L 348.142942 631.48636 L 350.131576 631.607548 L 352.12021 631.388621 L 354.108844 630.872739 L 359.080429 629.339557 L 361.069064 629.129597 L 363.057698 629.341154 L 365.046332 629.973435 L 367.034966 630.92332 L 371.012234 633.022645 L 373.000868 633.766078 L 374.989502 634.114045 L 376.978136 634.035628 L 378.96677 633.601156 L 384.932672 631.82615 L 386.921307 631.635729 L 388.909941 631.77285 L 390.898575 632.172858 L 394.875843 633.127561 L 396.864477 633.303503 L 398.853111 633.084018 L 400.841745 632.427336 L 402.830379 631.395514 L 408.796281 627.800894 L 410.784916 627.088208 L 412.77355 626.80739 L 414.762184 626.92199 L 417.745135 627.515017 L 419.733769 627.883752 L 421.722403 627.98676 L 422.71672 627.890654 L 424.705354 627.361483 L 426.693988 626.412706 L 429.676939 624.517562 L 431.665573 623.26925 L 433.654207 622.316411 L 434.648524 622.013066 L 435.642841 621.847085 L 436.637159 621.826 L 437.631476 621.949522 L 438.625793 622.209556 L 440.614427 623.071046 L 446.580329 626.390859 L 448.568963 626.991742 L 449.56328 627.117947 L 451.551914 627.024918 L 453.540548 626.555224 L 458.512133 624.933916 L 460.500767 624.597185 L 462.489402 624.5897 L 464.478036 624.872591 L 469.449621 625.813606 L 471.438255 625.76182 L 472.432572 625.567315 L 473.426889 625.251569 L 475.415523 624.274771 L 477.404157 622.941502 L 481.381425 620.08977 L 483.370059 619.085406 L 484.364376 618.782902 L 485.358693 618.634288 L 486.353011 618.645443 L 487.347328 618.813958 L 488.341645 619.129275 L 490.330279 620.121568 L 496.296181 623.830856 L 498.284815 624.528073 L 499.279132 624.696655 L 501.267766 624.682828 L 503.2564 624.294808 L 508.227985 622.952868 L 510.216619 622.767717 L 512.205254 622.929967 L 514.193888 623.394197 L 519.165473 624.826403 L 521.154107 625.011764 L 523.142741 624.802382 L 525.131375 624.237612 L 529.108643 622.846305 L 530.10296 622.671663 L 531.097277 622.656139 L 532.091594 622.843451 L 533.085911 623.273323 L 534.080228 623.979623 L 535.074545 624.988797 L 535.074545 624.988797 " clip-path="url(#pa78d27e104)" style="fill: none; stroke: #87ceeb; stroke-width: 1.56; stroke-linecap: square"/>
</g>
<g id="patch_469">
<path d="M 327.312 698.112 L 327.312 511.992 " style="fill: none; stroke: #000000; stroke-width: 0.832; stroke-linejoin: miter; stroke-linecap: square"/>
</g>
<g id="patch_470">
<path d="M 544.968 698.112 L 544.968 511.992 " style="fill: none; stroke: #000000; stroke-width: 0.832; stroke-linejoin: miter; stroke-linecap: square"/>
</g>
<g id="patch_471">
<path d="M 327.312 698.112 L 544.968 698.112 " style="fill: none; stroke: #000000; stroke-width: 0.832; stroke-linejoin: miter; stroke-linecap: square"/>
</g>
<g id="patch_472">
<path d="M 327.312 511.992 L 544.968 511.992 " style="fill: none; stroke: #000000; stroke-width: 0.832; stroke-linejoin: miter; stroke-linecap: square"/>
</g>
<g id="text_143">
<text style="font-size: 12.48px; font-family: 'DejaVu Sans', 'Liberation Sans', sans-serif; text-anchor: middle" x="436.14" y="505.824" transform="rotate(-0 436.14 505.824)">Distribution of RDW</text>
</g>
</g>
<g id="axes_11">
<g id="patch_473">
<path d="M 604.44 698.112 L 822.096 698.112 L 822.096 511.992 L 604.44 511.992 z
" style="fill: #ffffff"/>
</g>
<g id="patch_474">
<path d="M 614.333455 698.112 L 616.607812 698.112 L 616.607812 692.120209 L 614.333455 692.120209 z
" clip-path="url(#p59ea548735)" style="fill: #87ceeb; fill-opacity: 0.5; stroke: #000000; stroke-width: 0.227436; stroke-linejoin: miter"/>
</g>
<g id="patch_475">
<path d="M 616.607812 698.112 L 618.882169 698.112 L 618.882169 693.618157 L 616.607812 693.618157 z
" clip-path="url(#p59ea548735)" style="fill: #87ceeb; fill-opacity: 0.5; stroke: #000000; stroke-width: 0.227436; stroke-linejoin: miter"/>
</g>
<g id="patch_476">
<path d="M 618.882169 698.112 L 621.156527 698.112 L 621.156527 687.626366 L 618.882169 687.626366 z
" clip-path="url(#p59ea548735)" style="fill: #87ceeb; fill-opacity: 0.5; stroke: #000000; stroke-width: 0.227436; stroke-linejoin: miter"/>
</g>
<g id="patch_477">
<path d="M 621.156527 698.112 L 623.430884 698.112 L 623.430884 687.12705 L 621.156527 687.12705 z
" clip-path="url(#p59ea548735)" style="fill: #87ceeb; fill-opacity: 0.5; stroke: #000000; stroke-width: 0.227436; stroke-linejoin: miter"/>
</g>
<g id="patch_478">
<path d="M 623.430884 698.112 L 625.705241 698.112 L 625.705241 685.629103 L 623.430884 685.629103 z
" clip-path="url(#p59ea548735)" style="fill: #87ceeb; fill-opacity: 0.5; stroke: #000000; stroke-width: 0.227436; stroke-linejoin: miter"/>
</g>
<g id="patch_479">
<path d="M 625.705241 698.112 L 627.979599 698.112 L 627.979599 681.13526 L 625.705241 681.13526 z
" clip-path="url(#p59ea548735)" style="fill: #87ceeb; fill-opacity: 0.5; stroke: #000000; stroke-width: 0.227436; stroke-linejoin: miter"/>
</g>
<g id="patch_480">
<path d="M 627.979599 698.112 L 630.253956 698.112 L 630.253956 678.63868 L 627.979599 678.63868 z
" clip-path="url(#p59ea548735)" style="fill: #87ceeb; fill-opacity: 0.5; stroke: #000000; stroke-width: 0.227436; stroke-linejoin: miter"/>
</g>
<g id="patch_481">
<path d="M 630.253956 698.112 L 632.528313 698.112 L 632.528313 674.644153 L 630.253956 674.644153 z
" clip-path="url(#p59ea548735)" style="fill: #87ceeb; fill-opacity: 0.5; stroke: #000000; stroke-width: 0.227436; stroke-linejoin: miter"/>
</g>
<g id="patch_482">
<path d="M 632.528313 698.112 L 634.802671 698.112 L 634.802671 649.678358 L 632.528313 649.678358 z
" clip-path="url(#p59ea548735)" style="fill: #87ceeb; fill-opacity: 0.5; stroke: #000000; stroke-width: 0.227436; stroke-linejoin: miter"/>
</g>
<g id="patch_483">
<path d="M 634.802671 698.112 L 637.077028 698.112 L 637.077028 661.162624 L 634.802671 661.162624 z
" clip-path="url(#p59ea548735)" style="fill: #87ceeb; fill-opacity: 0.5; stroke: #000000; stroke-width: 0.227436; stroke-linejoin: miter"/>
</g>
<g id="patch_484">
<path d="M 637.077028 698.112 L 639.351386 698.112 L 639.351386 636.196829 L 637.077028 636.196829 z
" clip-path="url(#p59ea548735)" style="fill: #87ceeb; fill-opacity: 0.5; stroke: #000000; stroke-width: 0.227436; stroke-linejoin: miter"/>
</g>
<g id="patch_485">
<path d="M 639.351386 698.112 L 641.625743 698.112 L 641.625743 648.679726 L 639.351386 648.679726 z
" clip-path="url(#p59ea548735)" style="fill: #87ceeb; fill-opacity: 0.5; stroke: #000000; stroke-width: 0.227436; stroke-linejoin: miter"/>
</g>
<g id="patch_486">
<path d="M 641.625743 698.112 L 643.9001 698.112 L 643.9001 578.276185 L 641.625743 578.276185 z
" clip-path="url(#p59ea548735)" style="fill: #87ceeb; fill-opacity: 0.5; stroke: #000000; stroke-width: 0.227436; stroke-linejoin: miter"/>
</g>
<g id="patch_487">
<path d="M 643.9001 698.112 L 646.174458 698.112 L 646.174458 578.276185 L 643.9001 578.276185 z
" clip-path="url(#p59ea548735)" style="fill: #87ceeb; fill-opacity: 0.5; stroke: #000000; stroke-width: 0.227436; stroke-linejoin: miter"/>
</g>
<g id="patch_488">
<path d="M 646.174458 698.112 L 648.448815 698.112 L 648.448815 557.304918 L 646.174458 557.304918 z
" clip-path="url(#p59ea548735)" style="fill: #87ceeb; fill-opacity: 0.5; stroke: #000000; stroke-width: 0.227436; stroke-linejoin: miter"/>
</g>
<g id="patch_489">
<path d="M 648.448815 698.112 L 650.723172 698.112 L 650.723172 569.288499 L 648.448815 569.288499 z
" clip-path="url(#p59ea548735)" style="fill: #87ceeb; fill-opacity: 0.5; stroke: #000000; stroke-width: 0.227436; stroke-linejoin: miter"/>
</g>
<g id="patch_490">
<path d="M 650.723172 698.112 L 652.99753 698.112 L 652.99753 543.823388 L 650.723172 543.823388 z
" clip-path="url(#p59ea548735)" style="fill: #87ceeb; fill-opacity: 0.5; stroke: #000000; stroke-width: 0.227436; stroke-linejoin: miter"/>
</g>
<g id="patch_491">
<path d="M 652.99753 698.112 L 655.271887 698.112 L 655.271887 520.854857 L 652.99753 520.854857 z
" clip-path="url(#p59ea548735)" style="fill: #87ceeb; fill-opacity: 0.5; stroke: #000000; stroke-width: 0.227436; stroke-linejoin: miter"/>
</g>
<g id="patch_492">
<path d="M 655.271887 698.112 L 657.546245 698.112 L 657.546245 574.780974 L 655.271887 574.780974 z
" clip-path="url(#p59ea548735)" style="fill: #87ceeb; fill-opacity: 0.5; stroke: #000000; stroke-width: 0.227436; stroke-linejoin: miter"/>
</g>
<g id="patch_493">
<path d="M 657.546245 698.112 L 659.820602 698.112 L 659.820602 566.292604 L 657.546245 566.292604 z
" clip-path="url(#p59ea548735)" style="fill: #87ceeb; fill-opacity: 0.5; stroke: #000000; stroke-width: 0.227436; stroke-linejoin: miter"/>
</g>
<g id="patch_494">
<path d="M 659.820602 698.112 L 662.094959 698.112 L 662.094959 555.307654 L 659.820602 555.307654 z
" clip-path="url(#p59ea548735)" style="fill: #87ceeb; fill-opacity: 0.5; stroke: #000000; stroke-width: 0.227436; stroke-linejoin: miter"/>
</g>
<g id="patch_495">
<path d="M 662.094959 698.112 L 664.369317 698.112 L 664.369317 523.850753 L 662.094959 523.850753 z
" clip-path="url(#p59ea548735)" style="fill: #87ceeb; fill-opacity: 0.5; stroke: #000000; stroke-width: 0.227436; stroke-linejoin: miter"/>
</g>
<g id="patch_496">
<path d="M 664.369317 698.112 L 666.643674 698.112 L 666.643674 567.291235 L 664.369317 567.291235 z
" clip-path="url(#p59ea548735)" style="fill: #87ceeb; fill-opacity: 0.5; stroke: #000000; stroke-width: 0.227436; stroke-linejoin: miter"/>
</g>
<g id="patch_497">
<path d="M 666.643674 698.112 L 668.918031 698.112 L 668.918031 570.786447 L 666.643674 570.786447 z
" clip-path="url(#p59ea548735)" style="fill: #87ceeb; fill-opacity: 0.5; stroke: #000000; stroke-width: 0.227436; stroke-linejoin: miter"/>
</g>
<g id="patch_498">
<path d="M 668.918031 698.112 L 671.192389 698.112 L 671.192389 655.170833 L 668.918031 655.170833 z
" clip-path="url(#p59ea548735)" style="fill: #87ceeb; fill-opacity: 0.5; stroke: #000000; stroke-width: 0.227436; stroke-linejoin: miter"/>
</g>
<g id="patch_499">
<path d="M 671.192389 698.112 L 673.466746 698.112 L 673.466746 657.168097 L 671.192389 657.168097 z
" clip-path="url(#p59ea548735)" style="fill: #87ceeb; fill-opacity: 0.5; stroke: #000000; stroke-width: 0.227436; stroke-linejoin: miter"/>
</g>
<g id="patch_500">
<path d="M 673.466746 698.112 L 675.741103 698.112 L 675.741103 666.655099 L 673.466746 666.655099 z
" clip-path="url(#p59ea548735)" style="fill: #87ceeb; fill-opacity: 0.5; stroke: #000000; stroke-width: 0.227436; stroke-linejoin: miter"/>
</g>
<g id="patch_501">
<path d="M 675.741103 698.112 L 678.015461 698.112 L 678.015461 662.660571 L 675.741103 662.660571 z
" clip-path="url(#p59ea548735)" style="fill: #87ceeb; fill-opacity: 0.5; stroke: #000000; stroke-width: 0.227436; stroke-linejoin: miter"/>
</g>
<g id="patch_502">
<path d="M 678.015461 698.112 L 680.289818 698.112 L 680.289818 670.649626 L 678.015461 670.649626 z
" clip-path="url(#p59ea548735)" style="fill: #87ceeb; fill-opacity: 0.5; stroke: #000000; stroke-width: 0.227436; stroke-linejoin: miter"/>
</g>
<g id="patch_503">
<path d="M 680.289818 698.112 L 682.564176 698.112 L 682.564176 666.655099 L 680.289818 666.655099 z
" clip-path="url(#p59ea548735)" style="fill: #87ceeb; fill-opacity: 0.5; stroke: #000000; stroke-width: 0.227436; stroke-linejoin: miter"/>
</g>
<g id="patch_504">
<path d="M 682.564176 698.112 L 684.838533 698.112 L 684.838533 675.642785 L 682.564176 675.642785 z
" clip-path="url(#p59ea548735)" style="fill: #87ceeb; fill-opacity: 0.5; stroke: #000000; stroke-width: 0.227436; stroke-linejoin: miter"/>
</g>
<g id="patch_505">
<path d="M 684.838533 698.112 L 687.11289 698.112 L 687.11289 667.65373 L 684.838533 667.65373 z
" clip-path="url(#p59ea548735)" style="fill: #87ceeb; fill-opacity: 0.5; stroke: #000000; stroke-width: 0.227436; stroke-linejoin: miter"/>
</g>
<g id="patch_506">
<path d="M 687.11289 698.112 L 689.387248 698.112 L 689.387248 674.644153 L 687.11289 674.644153 z
" clip-path="url(#p59ea548735)" style="fill: #87ceeb; fill-opacity: 0.5; stroke: #000000; stroke-width: 0.227436; stroke-linejoin: miter"/>
</g>
<g id="patch_507">
<path d="M 689.387248 698.112 L 691.661605 698.112 L 691.661605 678.139364 L 689.387248 678.139364 z
" clip-path="url(#p59ea548735)" style="fill: #87ceeb; fill-opacity: 0.5; stroke: #000000; stroke-width: 0.227436; stroke-linejoin: miter"/>
</g>
<g id="patch_508">
<path d="M 691.661605 698.112 L 693.935962 698.112 L 693.935962 674.144837 L 691.661605 674.144837 z
" clip-path="url(#p59ea548735)" style="fill: #87ceeb; fill-opacity: 0.5; stroke: #000000; stroke-width: 0.227436; stroke-linejoin: miter"/>
</g>
<g id="patch_509">
<path d="M 693.935962 698.112 L 696.21032 698.112 L 696.21032 674.144837 L 693.935962 674.144837 z
" clip-path="url(#p59ea548735)" style="fill: #87ceeb; fill-opacity: 0.5; stroke: #000000; stroke-width: 0.227436; stroke-linejoin: miter"/>
</g>
<g id="patch_510">
<path d="M 696.21032 698.112 L 698.484677 698.112 L 698.484677 683.631839 L 696.21032 683.631839 z
" clip-path="url(#p59ea548735)" style="fill: #87ceeb; fill-opacity: 0.5; stroke: #000000; stroke-width: 0.227436; stroke-linejoin: miter"/>
</g>
<g id="patch_511">
<path d="M 698.484677 698.112 L 700.759034 698.112 L 700.759034 684.131155 L 698.484677 684.131155 z
" clip-path="url(#p59ea548735)" style="fill: #87ceeb; fill-opacity: 0.5; stroke: #000000; stroke-width: 0.227436; stroke-linejoin: miter"/>
</g>
<g id="patch_512">
<path d="M 700.759034 698.112 L 703.033392 698.112 L 703.033392 680.136628 L 700.759034 680.136628 z
" clip-path="url(#p59ea548735)" style="fill: #87ceeb; fill-opacity: 0.5; stroke: #000000; stroke-width: 0.227436; stroke-linejoin: miter"/>
</g>
<g id="patch_513">
<path d="M 703.033392 698.112 L 705.307749 698.112 L 705.307749 684.131155 L 703.033392 684.131155 z
" clip-path="url(#p59ea548735)" style="fill: #87ceeb; fill-opacity: 0.5; stroke: #000000; stroke-width: 0.227436; stroke-linejoin: miter"/>
</g>
<g id="patch_514">
<path d="M 705.307749 698.112 L 707.582107 698.112 L 707.582107 686.627734 L 705.307749 686.627734 z
" clip-path="url(#p59ea548735)" style="fill: #87ceeb; fill-opacity: 0.5; stroke: #000000; stroke-width: 0.227436; stroke-linejoin: miter"/>
</g>
<g id="patch_515">
<path d="M 707.582107 698.112 L 709.856464 698.112 L 709.856464 684.131155 L 707.582107 684.131155 z
" clip-path="url(#p59ea548735)" style="fill: #87ceeb; fill-opacity: 0.5; stroke: #000000; stroke-width: 0.227436; stroke-linejoin: miter"/>
</g>
<g id="patch_516">
<path d="M 709.856464 698.112 L 712.130821 698.112 L 712.130821 683.631839 L 709.856464 683.631839 z
" clip-path="url(#p59ea548735)" style="fill: #87ceeb; fill-opacity: 0.5; stroke: #000000; stroke-width: 0.227436; stroke-linejoin: miter"/>
</g>
<g id="patch_517">
<path d="M 712.130821 698.112 L 714.405179 698.112 L 714.405179 691.620893 L 712.130821 691.620893 z
" clip-path="url(#p59ea548735)" style="fill: #87ceeb; fill-opacity: 0.5; stroke: #000000; stroke-width: 0.227436; stroke-linejoin: miter"/>
</g>
<g id="patch_518">
<path d="M 714.405179 698.112 L 716.679536 698.112 L 716.679536 691.620893 L 714.405179 691.620893 z
" clip-path="url(#p59ea548735)" style="fill: #87ceeb; fill-opacity: 0.5; stroke: #000000; stroke-width: 0.227436; stroke-linejoin: miter"/>
</g>
<g id="patch_519">
<path d="M 716.679536 698.112 L 718.953893 698.112 L 718.953893 692.120209 L 716.679536 692.120209 z
" clip-path="url(#p59ea548735)" style="fill: #87ceeb; fill-opacity: 0.5; stroke: #000000; stroke-width: 0.227436; stroke-linejoin: miter"/>
</g>
<g id="patch_520">
<path d="M 718.953893 698.112 L 721.228251 698.112 L 721.228251 692.120209 L 718.953893 692.120209 z
" clip-path="url(#p59ea548735)" style="fill: #87ceeb; fill-opacity: 0.5; stroke: #000000; stroke-width: 0.227436; stroke-linejoin: miter"/>
</g>
<g id="patch_521">
<path d="M 721.228251 698.112 L 723.502608 698.112 L 723.502608 690.122946 L 721.228251 690.122946 z
" clip-path="url(#p59ea548735)" style="fill: #87ceeb; fill-opacity: 0.5; stroke: #000000; stroke-width: 0.227436; stroke-linejoin: miter"/>
</g>
<g id="patch_522">
<path d="M 723.502608 698.112 L 725.776966 698.112 L 725.776966 692.120209 L 723.502608 692.120209 z
" clip-path="url(#p59ea548735)" style="fill: #87ceeb; fill-opacity: 0.5; stroke: #000000; stroke-width: 0.227436; stroke-linejoin: miter"/>
</g>
<g id="patch_523">
<path d="M 725.776966 698.112 L 728.051323 698.112 L 728.051323 692.120209 L 725.776966 692.120209 z
" clip-path="url(#p59ea548735)" style="fill: #87ceeb; fill-opacity: 0.5; stroke: #000000; stroke-width: 0.227436; stroke-linejoin: miter"/>
</g>
<g id="patch_524">
<path d="M 728.051323 698.112 L 730.32568 698.112 L 730.32568 690.622262 L 728.051323 690.622262 z
" clip-path="url(#p59ea548735)" style="fill: #87ceeb; fill-opacity: 0.5; stroke: #000000; stroke-width: 0.227436; stroke-linejoin: miter"/>
</g>
<g id="patch_525">
<path d="M 730.32568 698.112 L 732.600038 698.112 L 732.600038 691.620893 L 730.32568 691.620893 z
" clip-path="url(#p59ea548735)" style="fill: #87ceeb; fill-opacity: 0.5; stroke: #000000; stroke-width: 0.227436; stroke-linejoin: miter"/>
</g>
<g id="patch_526">
<path d="M 732.600038 698.112 L 734.874395 698.112 L 734.874395 692.120209 L 732.600038 692.120209 z
" clip-path="url(#p59ea548735)" style="fill: #87ceeb; fill-opacity: 0.5; stroke: #000000; stroke-width: 0.227436; stroke-linejoin: miter"/>
</g>
<g id="patch_527">
<path d="M 734.874395 698.112 L 737.148752 698.112 L 737.148752 692.120209 L 734.874395 692.120209 z
" clip-path="url(#p59ea548735)" style="fill: #87ceeb; fill-opacity: 0.5; stroke: #000000; stroke-width: 0.227436; stroke-linejoin: miter"/>
</g>
<g id="patch_528">
<path d="M 737.148752 698.112 L 739.42311 698.112 L 739.42311 693.618157 L 737.148752 693.618157 z
" clip-path="url(#p59ea548735)" style="fill: #87ceeb; fill-opacity: 0.5; stroke: #000000; stroke-width: 0.227436; stroke-linejoin: miter"/>
</g>
<g id="patch_529">
<path d="M 739.42311 698.112 L 741.697467 698.112 L 741.697467 696.114736 L 739.42311 696.114736 z
" clip-path="url(#p59ea548735)" style="fill: #87ceeb; fill-opacity: 0.5; stroke: #000000; stroke-width: 0.227436; stroke-linejoin: miter"/>
</g>
<g id="patch_530">
<path d="M 741.697467 698.112 L 743.971824 698.112 L 743.971824 696.114736 L 741.697467 696.114736 z
" clip-path="url(#p59ea548735)" style="fill: #87ceeb; fill-opacity: 0.5; stroke: #000000; stroke-width: 0.227436; stroke-linejoin: miter"/>
</g>
<g id="patch_531">
<path d="M 743.971824 698.112 L 746.246182 698.112 L 746.246182 696.614052 L 743.971824 696.614052 z
" clip-path="url(#p59ea548735)" style="fill: #87ceeb; fill-opacity: 0.5; stroke: #000000; stroke-width: 0.227436; stroke-linejoin: miter"/>
</g>
<g id="patch_532">
<path d="M 746.246182 698.112 L 748.520539 698.112 L 748.520539 696.114736 L 746.246182 696.114736 z
" clip-path="url(#p59ea548735)" style="fill: #87ceeb; fill-opacity: 0.5; stroke: #000000; stroke-width: 0.227436; stroke-linejoin: miter"/>
</g>
<g id="patch_533">
<path d="M 748.520539 698.112 L 750.794897 698.112 L 750.794897 696.614052 L 748.520539 696.614052 z
" clip-path="url(#p59ea548735)" style="fill: #87ceeb; fill-opacity: 0.5; stroke: #000000; stroke-width: 0.227436; stroke-linejoin: miter"/>
</g>
<g id="patch_534">
<path d="M 750.794897 698.112 L 753.069254 698.112 L 753.069254 694.117473 L 750.794897 694.117473 z
" clip-path="url(#p59ea548735)" style="fill: #87ceeb; fill-opacity: 0.5; stroke: #000000; stroke-width: 0.227436; stroke-linejoin: miter"/>
</g>
<g id="patch_535">
<path d="M 753.069254 698.112 L 755.343611 698.112 L 755.343611 694.616789 L 753.069254 694.616789 z
" clip-path="url(#p59ea548735)" style="fill: #87ceeb; fill-opacity: 0.5; stroke: #000000; stroke-width: 0.227436; stroke-linejoin: miter"/>
</g>
<g id="patch_536">
<path d="M 755.343611 698.112 L 757.617969 698.112 L 757.617969 696.614052 L 755.343611 696.614052 z
" clip-path="url(#p59ea548735)" style="fill: #87ceeb; fill-opacity: 0.5; stroke: #000000; stroke-width: 0.227436; stroke-linejoin: miter"/>
</g>
<g id="patch_537">
<path d="M 757.617969 698.112 L 759.892326 698.112 L 759.892326 696.614052 L 757.617969 696.614052 z
" clip-path="url(#p59ea548735)" style="fill: #87ceeb; fill-opacity: 0.5; stroke: #000000; stroke-width: 0.227436; stroke-linejoin: miter"/>
</g>
<g id="patch_538">
<path d="M 759.892326 698.112 L 762.166683 698.112 L 762.166683 697.113368 L 759.892326 697.113368 z
" clip-path="url(#p59ea548735)" style="fill: #87ceeb; fill-opacity: 0.5; stroke: #000000; stroke-width: 0.227436; stroke-linejoin: miter"/>
</g>
<g id="patch_539">
<path d="M 762.166683 698.112 L 764.441041 698.112 L 764.441041 696.614052 L 762.166683 696.614052 z
" clip-path="url(#p59ea548735)" style="fill: #87ceeb; fill-opacity: 0.5; stroke: #000000; stroke-width: 0.227436; stroke-linejoin: miter"/>
</g>
<g id="patch_540">
<path d="M 764.441041 698.112 L 766.715398 698.112 L 766.715398 696.614052 L 764.441041 696.614052 z
" clip-path="url(#p59ea548735)" style="fill: #87ceeb; fill-opacity: 0.5; stroke: #000000; stroke-width: 0.227436; stroke-linejoin: miter"/>
</g>
<g id="patch_541">
<path d="M 766.715398 698.112 L 768.989755 698.112 L 768.989755 694.616789 L 766.715398 694.616789 z
" clip-path="url(#p59ea548735)" style="fill: #87ceeb; fill-opacity: 0.5; stroke: #000000; stroke-width: 0.227436; stroke-linejoin: miter"/>
</g>
<g id="patch_542">
<path d="M 768.989755 698.112 L 771.264113 698.112 L 771.264113 695.615421 L 768.989755 695.615421 z
" clip-path="url(#p59ea548735)" style="fill: #87ceeb; fill-opacity: 0.5; stroke: #000000; stroke-width: 0.227436; stroke-linejoin: miter"/>
</g>
<g id="patch_543">
<path d="M 771.264113 698.112 L 773.53847 698.112 L 773.53847 697.113368 L 771.264113 697.113368 z
" clip-path="url(#p59ea548735)" style="fill: #87ceeb; fill-opacity: 0.5; stroke: #000000; stroke-width: 0.227436; stroke-linejoin: miter"/>
</g>
<g id="patch_544">
<path d="M 773.53847 698.112 L 775.812828 698.112 L 775.812828 697.113368 L 773.53847 697.113368 z
" clip-path="url(#p59ea548735)" style="fill: #87ceeb; fill-opacity: 0.5; stroke: #000000; stroke-width: 0.227436; stroke-linejoin: miter"/>
</g>
<g id="patch_545">
<path d="M 775.812828 698.112 L 778.087185 698.112 L 778.087185 697.113368 L 775.812828 697.113368 z
" clip-path="url(#p59ea548735)" style="fill: #87ceeb; fill-opacity: 0.5; stroke: #000000; stroke-width: 0.227436; stroke-linejoin: miter"/>
</g>
<g id="patch_546">
<path d="M 778.087185 698.112 L 780.361542 698.112 L 780.361542 697.113368 L 778.087185 697.113368 z
" clip-path="url(#p59ea548735)" style="fill: #87ceeb; fill-opacity: 0.5; stroke: #000000; stroke-width: 0.227436; stroke-linejoin: miter"/>
</g>
<g id="patch_547">
<path d="M 780.361542 698.112 L 782.6359 698.112 L 782.6359 695.615421 L 780.361542 695.615421 z
" clip-path="url(#p59ea548735)" style="fill: #87ceeb; fill-opacity: 0.5; stroke: #000000; stroke-width: 0.227436; stroke-linejoin: miter"/>
</g>
<g id="patch_548">
<path d="M 782.6359 698.112 L 784.910257 698.112 L 784.910257 697.113368 L 782.6359 697.113368 z
" clip-path="url(#p59ea548735)" style="fill: #87ceeb; fill-opacity: 0.5; stroke: #000000; stroke-width: 0.227436; stroke-linejoin: miter"/>
</g>
<g id="patch_549">
<path d="M 784.910257 698.112 L 787.184614 698.112 L 787.184614 697.612684 L 784.910257 697.612684 z
" clip-path="url(#p59ea548735)" style="fill: #87ceeb; fill-opacity: 0.5; stroke: #000000; stroke-width: 0.227436; stroke-linejoin: miter"/>
</g>
<g id="patch_550">
<path d="M 787.184614 698.112 L 789.458972 698.112 L 789.458972 697.612684 L 787.184614 697.612684 z
" clip-path="url(#p59ea548735)" style="fill: #87ceeb; fill-opacity: 0.5; stroke: #000000; stroke-width: 0.227436; stroke-linejoin: miter"/>
</g>
<g id="patch_551">
<path d="M 789.458972 698.112 L 791.733329 698.112 L 791.733329 697.612684 L 789.458972 697.612684 z
" clip-path="url(#p59ea548735)" style="fill: #87ceeb; fill-opacity: 0.5; stroke: #000000; stroke-width: 0.227436; stroke-linejoin: miter"/>
</g>
<g id="patch_552">
<path d="M 791.733329 698.112 L 794.007687 698.112 L 794.007687 697.612684 L 791.733329 697.612684 z
" clip-path="url(#p59ea548735)" style="fill: #87ceeb; fill-opacity: 0.5; stroke: #000000; stroke-width: 0.227436; stroke-linejoin: miter"/>
</g>
<g id="patch_553">
<path d="M 794.007687 698.112 L 796.282044 698.112 L 796.282044 697.113368 L 794.007687 697.113368 z
" clip-path="url(#p59ea548735)" style="fill: #87ceeb; fill-opacity: 0.5; stroke: #000000; stroke-width: 0.227436; stroke-linejoin: miter"/>
</g>
<g id="patch_554">
<path d="M 796.282044 698.112 L 798.556401 698.112 L 798.556401 695.615421 L 796.282044 695.615421 z
" clip-path="url(#p59ea548735)" style="fill: #87ceeb; fill-opacity: 0.5; stroke: #000000; stroke-width: 0.227436; stroke-linejoin: miter"/>
</g>
<g id="patch_555">
<path d="M 798.556401 698.112 L 800.830759 698.112 L 800.830759 697.612684 L 798.556401 697.612684 z
" clip-path="url(#p59ea548735)" style="fill: #87ceeb; fill-opacity: 0.5; stroke: #000000; stroke-width: 0.227436; stroke-linejoin: miter"/>
</g>
<g id="patch_556">
<path d="M 800.830759 698.112 L 803.105116 698.112 L 803.105116 697.612684 L 800.830759 697.612684 z
" clip-path="url(#p59ea548735)" style="fill: #87ceeb; fill-opacity: 0.5; stroke: #000000; stroke-width: 0.227436; stroke-linejoin: miter"/>
</g>
<g id="patch_557">
<path d="M 803.105116 698.112 L 805.379473 698.112 L 805.379473 697.612684 L 803.105116 697.612684 z
" clip-path="url(#p59ea548735)" style="fill: #87ceeb; fill-opacity: 0.5; stroke: #000000; stroke-width: 0.227436; stroke-linejoin: miter"/>
</g>
<g id="patch_558">
<path d="M 805.379473 698.112 L 807.653831 698.112 L 807.653831 697.612684 L 805.379473 697.612684 z
" clip-path="url(#p59ea548735)" style="fill: #87ceeb; fill-opacity: 0.5; stroke: #000000; stroke-width: 0.227436; stroke-linejoin: miter"/>
</g>
<g id="patch_559">
<path d="M 807.653831 698.112 L 809.928188 698.112 L 809.928188 697.612684 L 807.653831 697.612684 z
" clip-path="url(#p59ea548735)" style="fill: #87ceeb; fill-opacity: 0.5; stroke: #000000; stroke-width: 0.227436; stroke-linejoin: miter"/>
</g>
<g id="patch_560">
<path d="M 809.928188 698.112 L 812.202545 698.112 L 812.202545 697.113368 L 809.928188 697.113368 z
" clip-path="url(#p59ea548735)" style="fill: #87ceeb; fill-opacity: 0.5; stroke: #000000; stroke-width: 0.227436; stroke-linejoin: miter"/>
</g>
<g id="matplotlib.axis_21">
<g id="xtick_50">
<g id="line2d_124">
<g>
<use xlink:href="#m9755dbcb59" x="614.151757" y="698.112" style="stroke: #000000; stroke-width: 0.832"/>
</g>
</g>
<g id="text_144">
<text style="font-size: 10.4px; font-family: 'DejaVu Sans', 'Liberation Sans', sans-serif; text-anchor: middle" x="614.151757" y="713.222375" transform="rotate(-0 614.151757 713.222375)">0</text>
</g>
</g>
<g id="xtick_51">
<g id="line2d_125">
<g>
<use xlink:href="#m9755dbcb59" x="650.491351" y="698.112" style="stroke: #000000; stroke-width: 0.832"/>
</g>
</g>
<g id="text_145">
<text style="font-size: 10.4px; font-family: 'DejaVu Sans', 'Liberation Sans', sans-serif; text-anchor: middle" x="650.491351" y="713.222375" transform="rotate(-0 650.491351 713.222375)">200</text>
</g>
</g>
<g id="xtick_52">
<g id="line2d_126">
<g>
<use xlink:href="#m9755dbcb59" x="686.830945" y="698.112" style="stroke: #000000; stroke-width: 0.832"/>
</g>
</g>
<g id="text_146">
<text style="font-size: 10.4px; font-family: 'DejaVu Sans', 'Liberation Sans', sans-serif; text-anchor: middle" x="686.830945" y="713.222375" transform="rotate(-0 686.830945 713.222375)">400</text>
</g>
</g>
<g id="xtick_53">
<g id="line2d_127">
<g>
<use xlink:href="#m9755dbcb59" x="723.170539" y="698.112" style="stroke: #000000; stroke-width: 0.832"/>
</g>
</g>
<g id="text_147">
<text style="font-size: 10.4px; font-family: 'DejaVu Sans', 'Liberation Sans', sans-serif; text-anchor: middle" x="723.170539" y="713.222375" transform="rotate(-0 723.170539 713.222375)">600</text>
</g>
</g>
<g id="xtick_54">
<g id="line2d_128">
<g>
<use xlink:href="#m9755dbcb59" x="759.510134" y="698.112" style="stroke: #000000; stroke-width: 0.832"/>
</g>
</g>
<g id="text_148">
<text style="font-size: 10.4px; font-family: 'DejaVu Sans', 'Liberation Sans', sans-serif; text-anchor: middle" x="759.510134" y="713.222375" transform="rotate(-0 759.510134 713.222375)">800</text>
</g>
</g>
<g id="xtick_55">
<g id="line2d_129">
<g>
<use xlink:href="#m9755dbcb59" x="795.849728" y="698.112" style="stroke: #000000; stroke-width: 0.832"/>
</g>
</g>
<g id="text_149">
<text style="font-size: 10.4px; font-family: 'DejaVu Sans', 'Liberation Sans', sans-serif; text-anchor: middle" x="795.849728" y="713.222375" transform="rotate(-0 795.849728 713.222375)">1000</text>
</g>
</g>
<g id="text_150">
<text style="font-size: 10.4px; font-family: 'DejaVu Sans', 'Liberation Sans', sans-serif; text-anchor: middle" x="713.268" y="728.167625" transform="rotate(-0 713.268 728.167625)">PLT</text>
</g>
</g>
<g id="matplotlib.axis_22">
<g id="ytick_65">
<g id="line2d_130">
<g>
<use xlink:href="#m81118948c4" x="604.44" y="698.112" style="stroke: #000000; stroke-width: 0.832"/>
</g>
</g>
<g id="text_151">
<text style="font-size: 10.4px; font-family: 'DejaVu Sans', 'Liberation Sans', sans-serif; text-anchor: end" x="597.16" y="702.927188" transform="rotate(-0 597.16 702.927188)">0</text>
</g>
</g>
<g id="ytick_66">
<g id="line2d_131">
<g>
<use xlink:href="#m81118948c4" x="604.44" y="673.146205" style="stroke: #000000; stroke-width: 0.832"/>
</g>
</g>
<g id="text_152">
<text style="font-size: 10.4px; font-family: 'DejaVu Sans', 'Liberation Sans', sans-serif; text-anchor: end" x="597.16" y="677.961393" transform="rotate(-0 597.16 677.961393)">50</text>
</g>
</g>
<g id="ytick_67">
<g id="line2d_132">
<g>
<use xlink:href="#m81118948c4" x="604.44" y="648.18041" style="stroke: #000000; stroke-width: 0.832"/>
</g>
</g>
<g id="text_153">
<text style="font-size: 10.4px; font-family: 'DejaVu Sans', 'Liberation Sans', sans-serif; text-anchor: end" x="597.16" y="652.995598" transform="rotate(-0 597.16 652.995598)">100</text>
</g>
</g>
<g id="ytick_68">
<g id="line2d_133">
<g>
<use xlink:href="#m81118948c4" x="604.44" y="623.214616" style="stroke: #000000; stroke-width: 0.832"/>
</g>
</g>
<g id="text_154">
<text style="font-size: 10.4px; font-family: 'DejaVu Sans', 'Liberation Sans', sans-serif; text-anchor: end" x="597.16" y="628.029803" transform="rotate(-0 597.16 628.029803)">150</text>
</g>
</g>
<g id="ytick_69">
<g id="line2d_134">
<g>
<use xlink:href="#m81118948c4" x="604.44" y="598.248821" style="stroke: #000000; stroke-width: 0.832"/>
</g>
</g>
<g id="text_155">
<text style="font-size: 10.4px; font-family: 'DejaVu Sans', 'Liberation Sans', sans-serif; text-anchor: end" x="597.16" y="603.064008" transform="rotate(-0 597.16 603.064008)">200</text>
</g>
</g>
<g id="ytick_70">
<g id="line2d_135">
<g>
<use xlink:href="#m81118948c4" x="604.44" y="573.283026" style="stroke: #000000; stroke-width: 0.832"/>
</g>
</g>
<g id="text_156">
<text style="font-size: 10.4px; font-family: 'DejaVu Sans', 'Liberation Sans', sans-serif; text-anchor: end" x="597.16" y="578.098214" transform="rotate(-0 597.16 578.098214)">250</text>
</g>
</g>
<g id="ytick_71">
<g id="line2d_136">
<g>
<use xlink:href="#m81118948c4" x="604.44" y="548.317231" style="stroke: #000000; stroke-width: 0.832"/>
</g>
</g>
<g id="text_157">
<text style="font-size: 10.4px; font-family: 'DejaVu Sans', 'Liberation Sans', sans-serif; text-anchor: end" x="597.16" y="553.132419" transform="rotate(-0 597.16 553.132419)">300</text>
</g>
</g>
<g id="ytick_72">
<g id="line2d_137">
<g>
<use xlink:href="#m81118948c4" x="604.44" y="523.351437" style="stroke: #000000; stroke-width: 0.832"/>
</g>
</g>
<g id="text_158">
<text style="font-size: 10.4px; font-family: 'DejaVu Sans', 'Liberation Sans', sans-serif; text-anchor: end" x="597.16" y="528.166624" transform="rotate(-0 597.16 528.166624)">350</text>
</g>
</g>
<g id="text_159">
<text style="font-size: 10.4px; font-family: 'DejaVu Sans', 'Liberation Sans', sans-serif; text-anchor: middle" x="570.986125" y="606.852" transform="rotate(-90 570.986125 606.852)">Count</text>
</g>
</g>
<g id="line2d_138">
<path d="M 614.333455 694.530542 L 616.322089 692.829651 L 619.30504 689.863608 L 621.293674 687.653935 L 623.282308 685.150452 L 625.270942 682.127833 L 626.265259 680.333774 L 627.259576 678.306783 L 629.24821 673.459927 L 631.236844 667.472656 L 633.225478 660.258203 L 635.214112 651.571951 L 637.202746 640.981646 L 639.191381 628.208153 L 641.180015 613.641442 L 644.162966 591.203775 L 646.1516 578.043738 L 647.145917 572.40609 L 648.140234 567.485072 L 649.134551 563.312372 L 650.128868 559.902613 L 651.123185 557.254848 L 652.117502 555.346563 L 653.111819 554.124375 L 654.106136 553.498678 L 655.100453 553.349323 L 656.09477 553.545725 L 657.089087 553.978888 L 658.083404 554.597167 L 659.077721 555.434429 L 660.072038 556.620159 L 661.066355 558.365647 L 662.060672 560.927153 L 663.054989 564.553449 L 664.049307 569.429472 L 665.043624 575.628813 L 666.037941 583.085522 L 668.026575 600.817504 L 671.009526 628.719106 L 672.003843 636.830217 L 672.99816 643.919176 L 673.992477 649.896578 L 674.986794 654.777914 L 675.981111 658.658962 L 676.975428 661.684885 L 677.969745 664.020201 L 678.964062 665.824849 L 679.958379 667.238861 L 680.952696 668.375519 L 682.94133 670.138194 L 684.929964 671.550132 L 689.90155 674.657301 L 692.884501 676.58997 L 700.839037 682.082879 L 703.821988 683.558323 L 707.799256 685.404462 L 710.782207 687.121538 L 714.759476 689.589071 L 716.74811 690.51166 L 718.736744 691.088256 L 720.725378 691.371241 L 723.708329 691.503517 L 728.679914 691.656454 L 731.662865 691.994927 L 733.651499 692.417444 L 736.63445 693.357851 L 741.606036 695.124252 L 743.59467 695.58676 L 745.583304 695.818339 L 748.566255 695.816304 L 752.543523 695.698715 L 755.526474 695.884523 L 760.498059 696.342731 L 763.481011 696.328826 L 768.452596 696.189432 L 771.435547 696.371699 L 776.407132 696.757837 L 786.350302 697.21709 L 789.333254 697.332231 L 793.310522 697.230242 L 797.28779 697.127292 L 801.265058 697.289335 L 808.225277 697.605933 L 812.202545 697.763929 L 812.202545 697.763929 " clip-path="url(#p59ea548735)" style="fill: none; stroke: #87ceeb; stroke-width: 1.56; stroke-linecap: square"/>
</g>
<g id="patch_561">
<path d="M 604.44 698.112 L 604.44 511.992 " style="fill: none; stroke: #000000; stroke-width: 0.832; stroke-linejoin: miter; stroke-linecap: square"/>
</g>
<g id="patch_562">
<path d="M 822.096 698.112 L 822.096 511.992 " style="fill: none; stroke: #000000; stroke-width: 0.832; stroke-linejoin: miter; stroke-linecap: square"/>
</g>
<g id="patch_563">
<path d="M 604.44 698.112 L 822.096 698.112 " style="fill: none; stroke: #000000; stroke-width: 0.832; stroke-linejoin: miter; stroke-linecap: square"/>
</g>
<g id="patch_564">
<path d="M 604.44 511.992 L 822.096 511.992 " style="fill: none; stroke: #000000; stroke-width: 0.832; stroke-linejoin: miter; stroke-linecap: square"/>
</g>
<g id="text_160">
<text style="font-size: 12.48px; font-family: 'DejaVu Sans', 'Liberation Sans', sans-serif; text-anchor: middle" x="713.268" y="505.824" transform="rotate(-0 713.268 505.824)">Distribution of PLT</text>
</g>
</g>
</g>
<defs>
<clipPath id="pf234ead649">
<rect x="49.608" y="18.432" width="217.656" height="186.192"/>
</clipPath>
<clipPath id="pb0371a77c8">
<rect x="327.312" y="18.432" width="217.656" height="186.192"/>
</clipPath>
<clipPath id="p97168dac0a">
<rect x="604.44" y="18.432" width="217.656" height="186.192"/>
</clipPath>
<clipPath id="pdafc1e2fb6">
<rect x="881.28" y="18.432" width="217.656" height="186.192"/>
</clipPath>
<clipPath id="pb3c0a4566b">
<rect x="49.608" y="265.608" width="217.656" height="185.544"/>
</clipPath>
<clipPath id="p5f42fe8339">
<rect x="327.312" y="265.608" width="217.656" height="185.544"/>
</clipPath>
<clipPath id="pe3dc72f4c5">
<rect x="604.44" y="265.608" width="217.656" height="185.544"/>
</clipPath>
<clipPath id="p5d82b2bbf1">
<rect x="881.28" y="265.608" width="217.656" height="185.544"/>
</clipPath>
<clipPath id="p1296469ff0">
<rect x="49.608" y="511.992" width="217.656" height="186.12"/>
</clipPath>
<clipPath id="pa78d27e104">
<rect x="327.312" y="511.992" width="217.656" height="186.12"/>
</clipPath>
<clipPath id="p59ea548735">
<rect x="604.44" y="511.992" width="217.656" height="186.12"/>
</clipPath>
</defs>
</svg>

</body></html>
